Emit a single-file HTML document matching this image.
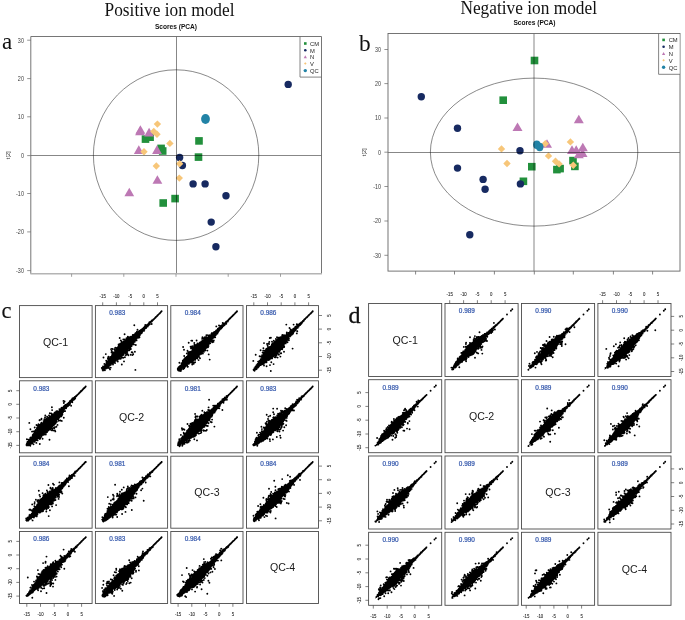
<!DOCTYPE html><html><head><meta charset="utf-8"><title>figure</title><style>html,body{margin:0;padding:0;background:#fff}svg{display:block;font-family:"Liberation Sans",sans-serif;will-change:transform;filter:opacity(1)}</style></head><body>
<svg width="685" height="620" viewBox="0 0 685 620">
<rect width="685" height="620" fill="#fff"/>
<rect x="141.7" y="135.3" width="7.6" height="7.6" fill="#22903c"/>
<rect x="146.3" y="133.4" width="7.6" height="7.6" fill="#22903c"/>
<rect x="157.3" y="144.6" width="7.6" height="7.6" fill="#22903c"/>
<rect x="158.9" y="147.2" width="7.6" height="7.6" fill="#22903c"/>
<rect x="195.2" y="137.1" width="7.6" height="7.6" fill="#22903c"/>
<rect x="194.7" y="153.3" width="7.6" height="7.6" fill="#22903c"/>
<rect x="159.4" y="199.2" width="7.6" height="7.6" fill="#22903c"/>
<rect x="171.3" y="194.8" width="7.6" height="7.6" fill="#22903c"/>
<circle cx="179.6" cy="157.4" r="3.7" fill="#172a61"/>
<circle cx="182.4" cy="165.5" r="3.7" fill="#172a61"/>
<circle cx="193.1" cy="183.9" r="3.7" fill="#172a61"/>
<circle cx="205.1" cy="183.9" r="3.7" fill="#172a61"/>
<circle cx="226" cy="195.7" r="3.7" fill="#172a61"/>
<circle cx="211.2" cy="222.1" r="3.7" fill="#172a61"/>
<circle cx="215.9" cy="246.7" r="3.7" fill="#172a61"/>
<circle cx="288.2" cy="84.4" r="3.7" fill="#172a61"/>
<path d="M140.4 125.2L145.3 133.8L135.5 133.8Z" fill="#bd78b4"/>
<path d="M140 126.7L144.9 135.3L135.1 135.3Z" fill="#bd78b4"/>
<path d="M149.1 127.8L154 136.4L144.2 136.4Z" fill="#bd78b4"/>
<path d="M138.8 145.3L143.8 153.9L133.9 153.9Z" fill="#bd78b4"/>
<path d="M157 145.3L161.9 153.9L152.1 153.9Z" fill="#bd78b4"/>
<path d="M157.4 175.2L162.3 183.8L152.5 183.8Z" fill="#bd78b4"/>
<path d="M129.3 187.7L134.2 196.3L124.4 196.3Z" fill="#bd78b4"/>
<path d="M157.4 120.4L161.1 124.1L157.4 127.8L153.7 124.1Z" fill="#f7c679"/>
<path d="M153.8 127.7L157.5 131.4L153.8 135.1L150.1 131.4Z" fill="#f7c679"/>
<path d="M157 130.6L160.7 134.3L157 138L153.3 134.3Z" fill="#f7c679"/>
<path d="M169.9 139.7L173.6 143.4L169.9 147.1L166.2 143.4Z" fill="#f7c679"/>
<path d="M144 148.1L147.7 151.8L144 155.5L140.3 151.8Z" fill="#f7c679"/>
<path d="M156.3 162.3L160 166L156.3 169.7L152.6 166Z" fill="#f7c679"/>
<path d="M179.6 160.1L183.3 163.8L179.6 167.5L175.9 163.8Z" fill="#f7c679"/>
<path d="M179.3 174.4L183 178.1L179.3 181.8L175.6 178.1Z" fill="#f7c679"/>
<ellipse cx="205.5" cy="119" rx="4.4" ry="5" fill="#2283a6"/>
<ellipse cx="176.1" cy="155.1" rx="82.7" ry="85.3" fill="none" stroke="#4a4a4a" stroke-width="0.65"/>
<path d="M176.5 36.5V273.8M30.8 155.5H321.5" stroke="#000" stroke-opacity=".47" stroke-width="1" fill="none"/>
<path d="M30.8 273.8V36.5H321.5V273.8" fill="none" stroke="#666" stroke-width="0.9"/>
<path d="M30.4 273.8H321.9" fill="none" stroke="#b4b4b4" stroke-width="1.4"/>
<path d="M30.8 40.2h-3.6M30.8 78.6h-3.6M30.8 116.8h-3.6M30.8 155.6h-3.6M30.8 193.5h-3.6M30.8 231.9h-3.6M30.8 270.6h-3.6" stroke="#666" stroke-width="0.7" fill="none"/>
<path d="M71.6 273.8v3M123.8 273.8v3M176 273.8v3M228.2 273.8v3M280.5 273.8v3" stroke="#8a8a8a" stroke-width="0.8" fill="none"/>
<text transform="translate(23.9 42.5) scale(.85 1)" font-size="6.4" text-anchor="end" fill="#3a3a3a">30</text>
<text transform="translate(23.9 80.9) scale(.85 1)" font-size="6.4" text-anchor="end" fill="#3a3a3a">20</text>
<text transform="translate(23.9 119.1) scale(.85 1)" font-size="6.4" text-anchor="end" fill="#3a3a3a">10</text>
<text transform="translate(23.9 157.9) scale(.85 1)" font-size="6.4" text-anchor="end" fill="#3a3a3a">0</text>
<text transform="translate(23.9 195.8) scale(.85 1)" font-size="6.4" text-anchor="end" fill="#3a3a3a">-10</text>
<text transform="translate(23.9 234.2) scale(.85 1)" font-size="6.4" text-anchor="end" fill="#3a3a3a">-20</text>
<text transform="translate(23.9 272.9) scale(.85 1)" font-size="6.4" text-anchor="end" fill="#3a3a3a">-30</text>
<text transform="translate(9.8 155.3) rotate(-90) scale(.93 1)" font-size="6" text-anchor="middle" fill="#2b2b2b">t[2]</text>
<rect x="300" y="37" width="21" height="40.1" fill="#fff"/>
<path d="M300 36.5V77.1H321.5" fill="none" stroke="#666" stroke-width="0.8"/>
<rect x="304" y="42.2" width="2.6" height="2.6" fill="#22903c"/>
<circle cx="305.3" cy="50.2" r="1.3" fill="#172a61"/>
<path d="M305.3 55.3L306.9 58.3L303.7 58.3Z" fill="#bd78b4"/>
<path d="M305.3 62.2L306.6 63.5L305.3 64.8L304 63.5Z" fill="#f7c679"/>
<circle cx="305.3" cy="70.6" r="1.7" fill="#2283a6"/>
<text x="310" y="45.8" font-size="5.8" fill="#1c1c1c">CM</text>
<text x="310" y="52.5" font-size="5.8" fill="#1c1c1c">M</text>
<text x="310" y="59.1" font-size="5.8" fill="#1c1c1c">N</text>
<text x="310" y="65.8" font-size="5.8" fill="#1c1c1c">V</text>
<text x="310" y="72.9" font-size="5.8" fill="#1c1c1c">QC</text>
<text transform="translate(169.5 15.9) scale(.932 1)" font-family="Liberation Serif" font-size="18.6" text-anchor="middle" fill="#111">Positive ion model</text>
<text x="176" y="28.6" font-size="6.6" font-weight="bold" text-anchor="middle" fill="#111">Scores (PCA)</text>
<text x="2" y="49.2" font-family="Liberation Serif" font-size="23" fill="#111">a</text>
<rect x="530.7" y="56.7" width="7.6" height="7.6" fill="#22903c"/>
<rect x="499.4" y="96.4" width="7.6" height="7.6" fill="#22903c"/>
<rect x="528" y="162.9" width="7.6" height="7.6" fill="#22903c"/>
<rect x="519.6" y="177.5" width="7.6" height="7.6" fill="#22903c"/>
<rect x="553.1" y="165.8" width="7.6" height="7.6" fill="#22903c"/>
<rect x="556.3" y="164.8" width="7.6" height="7.6" fill="#22903c"/>
<rect x="569.2" y="156.8" width="7.6" height="7.6" fill="#22903c"/>
<rect x="571.1" y="162.6" width="7.6" height="7.6" fill="#22903c"/>
<circle cx="421.3" cy="96.7" r="3.7" fill="#172a61"/>
<circle cx="457.5" cy="128.3" r="3.7" fill="#172a61"/>
<circle cx="457.5" cy="168.1" r="3.7" fill="#172a61"/>
<circle cx="483.1" cy="179.4" r="3.7" fill="#172a61"/>
<circle cx="485.1" cy="189.2" r="3.7" fill="#172a61"/>
<circle cx="469.8" cy="234.7" r="3.7" fill="#172a61"/>
<circle cx="520" cy="150.8" r="3.7" fill="#172a61"/>
<circle cx="520.4" cy="183.9" r="3.7" fill="#172a61"/>
<path d="M578.8 114.7L583.8 123.3L573.8 123.3Z" fill="#bd78b4"/>
<path d="M517.5 122.4L522.5 131L512.5 131Z" fill="#bd78b4"/>
<path d="M547 139.2L552 147.8L542 147.8Z" fill="#bd78b4"/>
<path d="M572 145.3L577 153.9L567 153.9Z" fill="#bd78b4"/>
<path d="M576.2 145.3L581.2 153.9L571.2 153.9Z" fill="#bd78b4"/>
<path d="M582.8 142.7L587.8 151.3L577.8 151.3Z" fill="#bd78b4"/>
<path d="M578.8 149.7L583.8 158.3L573.8 158.3Z" fill="#bd78b4"/>
<path d="M582.5 148.3L587.5 156.9L577.5 156.9Z" fill="#bd78b4"/>
<path d="M501.5 145.2L505.2 148.9L501.5 152.6L497.8 148.9Z" fill="#f7c679"/>
<path d="M507 159.8L510.7 163.5L507 167.2L503.3 163.5Z" fill="#f7c679"/>
<path d="M545.3 140.1L549 143.8L545.3 147.5L541.6 143.8Z" fill="#f7c679"/>
<path d="M570.4 138.2L574.1 141.9L570.4 145.6L566.7 141.9Z" fill="#f7c679"/>
<path d="M548.5 152.2L552.2 155.9L548.5 159.6L544.8 155.9Z" fill="#f7c679"/>
<path d="M555.5 157.6L559.2 161.3L555.5 165L551.8 161.3Z" fill="#f7c679"/>
<path d="M559.1 160.2L562.8 163.9L559.1 167.6L555.4 163.9Z" fill="#f7c679"/>
<path d="M573.3 161.6L577 165.3L573.3 169L569.6 165.3Z" fill="#f7c679"/>
<ellipse cx="536.8" cy="144.8" rx="3.7" ry="4.2" fill="#2283a6"/>
<ellipse cx="539.7" cy="147" rx="3.7" ry="4.2" fill="#2283a6"/>
<ellipse cx="534.1" cy="152.1" rx="103.7" ry="74" fill="none" stroke="#4a4a4a" stroke-width="0.65"/>
<path d="M534 33.5V271.1M388 152.5H680" stroke="#000" stroke-opacity=".47" stroke-width="1" fill="none"/>
<rect x="388" y="33.5" width="292" height="237.6" fill="none" stroke="#666" stroke-width="0.9"/>
<path d="M388 49.5h-3.6M388 83.6h-3.6M388 118h-3.6M388 152.2h-3.6M388 186.5h-3.6M388 221h-3.6M388 255.3h-3.6" stroke="#666" stroke-width="0.7" fill="none"/>
<path d="M415.6 271.1v3.4M454.5 271.1v3.4M494.4 271.1v3.4M534.3 271.1v3.4M573.3 271.1v3.4M613.4 271.1v3.4M652.6 271.1v3.4" stroke="#666" stroke-width="0.8" fill="none"/>
<text transform="translate(381.1 51.8) scale(.85 1)" font-size="6.4" text-anchor="end" fill="#3a3a3a">30</text>
<text transform="translate(381.1 85.9) scale(.85 1)" font-size="6.4" text-anchor="end" fill="#3a3a3a">20</text>
<text transform="translate(381.1 120.3) scale(.85 1)" font-size="6.4" text-anchor="end" fill="#3a3a3a">10</text>
<text transform="translate(381.1 154.5) scale(.85 1)" font-size="6.4" text-anchor="end" fill="#3a3a3a">0</text>
<text transform="translate(381.1 188.8) scale(.85 1)" font-size="6.4" text-anchor="end" fill="#3a3a3a">-10</text>
<text transform="translate(381.1 223.3) scale(.85 1)" font-size="6.4" text-anchor="end" fill="#3a3a3a">-20</text>
<text transform="translate(381.1 257.6) scale(.85 1)" font-size="6.4" text-anchor="end" fill="#3a3a3a">-30</text>
<text transform="translate(366.2 152.3) rotate(-90) scale(.93 1)" font-size="6" text-anchor="middle" fill="#2b2b2b">t[2]</text>
<rect x="658.6" y="34" width="20.9" height="40.3" fill="#fff"/>
<path d="M658.6 33.5V74.3H680" fill="none" stroke="#666" stroke-width="0.8"/>
<rect x="662.3" y="38.6" width="2.6" height="2.6" fill="#22903c"/>
<circle cx="663.6" cy="46.7" r="1.3" fill="#172a61"/>
<path d="M663.6 52L665.2 55L662 55Z" fill="#bd78b4"/>
<path d="M663.6 59L664.9 60.3L663.6 61.6L662.3 60.3Z" fill="#f7c679"/>
<circle cx="663.6" cy="67.3" r="1.7" fill="#2283a6"/>
<text x="668.7" y="42.2" font-size="5.8" fill="#1c1c1c">CM</text>
<text x="668.7" y="49" font-size="5.8" fill="#1c1c1c">M</text>
<text x="668.7" y="55.8" font-size="5.8" fill="#1c1c1c">N</text>
<text x="668.7" y="62.6" font-size="5.8" fill="#1c1c1c">V</text>
<text x="668.7" y="69.6" font-size="5.8" fill="#1c1c1c">QC</text>
<text transform="translate(528.7 14.4) scale(.932 1)" font-family="Liberation Serif" font-size="18.6" text-anchor="middle" fill="#111">Negative ion model</text>
<text x="534.5" y="25.2" font-size="6.6" font-weight="bold" text-anchor="middle" fill="#111">Scores (PCA)</text>
<text x="359" y="51" font-family="Liberation Serif" font-size="23.3" fill="#111">b</text>
<rect x="19.5" y="305.6" width="72.6" height="72" fill="none" stroke="#4a4a4a" stroke-width="0.9"/>
<rect x="95.4" y="305.6" width="72.2" height="72" fill="none" stroke="#4a4a4a" stroke-width="0.9"/>
<rect x="170.8" y="305.6" width="72.2" height="72" fill="none" stroke="#4a4a4a" stroke-width="0.9"/>
<rect x="246.5" y="305.6" width="72" height="72" fill="none" stroke="#4a4a4a" stroke-width="0.9"/>
<rect x="19.5" y="380.8" width="72.6" height="72" fill="none" stroke="#4a4a4a" stroke-width="0.9"/>
<rect x="95.4" y="380.8" width="72.2" height="72" fill="none" stroke="#4a4a4a" stroke-width="0.9"/>
<rect x="170.8" y="380.8" width="72.2" height="72" fill="none" stroke="#4a4a4a" stroke-width="0.9"/>
<rect x="246.5" y="380.8" width="72" height="72" fill="none" stroke="#4a4a4a" stroke-width="0.9"/>
<rect x="19.5" y="456.2" width="72.6" height="72" fill="none" stroke="#4a4a4a" stroke-width="0.9"/>
<rect x="95.4" y="456.2" width="72.2" height="72" fill="none" stroke="#4a4a4a" stroke-width="0.9"/>
<rect x="170.8" y="456.2" width="72.2" height="72" fill="none" stroke="#4a4a4a" stroke-width="0.9"/>
<rect x="246.5" y="456.2" width="72" height="72" fill="none" stroke="#4a4a4a" stroke-width="0.9"/>
<rect x="19.5" y="531.5" width="72.6" height="72" fill="none" stroke="#4a4a4a" stroke-width="0.9"/>
<rect x="95.4" y="531.5" width="72.2" height="72" fill="none" stroke="#4a4a4a" stroke-width="0.9"/>
<rect x="170.8" y="531.5" width="72.2" height="72" fill="none" stroke="#4a4a4a" stroke-width="0.9"/>
<rect x="246.5" y="531.5" width="72" height="72" fill="none" stroke="#4a4a4a" stroke-width="0.9"/>
<text x="55.6" y="345.5" font-size="10.6" text-anchor="middle" fill="#1a1a1a">QC-1</text>
<text x="131.6" y="420.7" font-size="10.6" text-anchor="middle" fill="#1a1a1a">QC-2</text>
<text x="207" y="496.1" font-size="10.6" text-anchor="middle" fill="#1a1a1a">QC-3</text>
<text x="282.6" y="571.4" font-size="10.6" text-anchor="middle" fill="#1a1a1a">QC-4</text>
<text transform="translate(102.7 298) scale(.9 1)" font-size="4.8" text-anchor="middle" fill="#333" stroke="#333" stroke-width=".12">-15</text>
<text transform="translate(116.4 298) scale(.9 1)" font-size="4.8" text-anchor="middle" fill="#333" stroke="#333" stroke-width=".12">-10</text>
<text transform="translate(130.1 298) scale(.9 1)" font-size="4.8" text-anchor="middle" fill="#333" stroke="#333" stroke-width=".12">-5</text>
<text transform="translate(143.8 298) scale(.9 1)" font-size="4.8" text-anchor="middle" fill="#333" stroke="#333" stroke-width=".12">0</text>
<text transform="translate(157.5 298) scale(.9 1)" font-size="4.8" text-anchor="middle" fill="#333" stroke="#333" stroke-width=".12">5</text>
<text transform="translate(253.8 298) scale(.9 1)" font-size="4.8" text-anchor="middle" fill="#333" stroke="#333" stroke-width=".12">-15</text>
<text transform="translate(267.5 298) scale(.9 1)" font-size="4.8" text-anchor="middle" fill="#333" stroke="#333" stroke-width=".12">-10</text>
<text transform="translate(281.2 298) scale(.9 1)" font-size="4.8" text-anchor="middle" fill="#333" stroke="#333" stroke-width=".12">-5</text>
<text transform="translate(294.9 298) scale(.9 1)" font-size="4.8" text-anchor="middle" fill="#333" stroke="#333" stroke-width=".12">0</text>
<text transform="translate(308.6 298) scale(.9 1)" font-size="4.8" text-anchor="middle" fill="#333" stroke="#333" stroke-width=".12">5</text>
<text transform="translate(26.8 615.7) scale(.9 1)" font-size="4.8" text-anchor="middle" fill="#333" stroke="#333" stroke-width=".12">-15</text>
<text transform="translate(40.5 615.7) scale(.9 1)" font-size="4.8" text-anchor="middle" fill="#333" stroke="#333" stroke-width=".12">-10</text>
<text transform="translate(54.2 615.7) scale(.9 1)" font-size="4.8" text-anchor="middle" fill="#333" stroke="#333" stroke-width=".12">-5</text>
<text transform="translate(67.9 615.7) scale(.9 1)" font-size="4.8" text-anchor="middle" fill="#333" stroke="#333" stroke-width=".12">0</text>
<text transform="translate(81.6 615.7) scale(.9 1)" font-size="4.8" text-anchor="middle" fill="#333" stroke="#333" stroke-width=".12">5</text>
<text transform="translate(178.1 615.7) scale(.9 1)" font-size="4.8" text-anchor="middle" fill="#333" stroke="#333" stroke-width=".12">-15</text>
<text transform="translate(191.8 615.7) scale(.9 1)" font-size="4.8" text-anchor="middle" fill="#333" stroke="#333" stroke-width=".12">-10</text>
<text transform="translate(205.5 615.7) scale(.9 1)" font-size="4.8" text-anchor="middle" fill="#333" stroke="#333" stroke-width=".12">-5</text>
<text transform="translate(219.2 615.7) scale(.9 1)" font-size="4.8" text-anchor="middle" fill="#333" stroke="#333" stroke-width=".12">0</text>
<text transform="translate(232.9 615.7) scale(.9 1)" font-size="4.8" text-anchor="middle" fill="#333" stroke="#333" stroke-width=".12">5</text>
<text transform="translate(11.6 445.4) rotate(-90) scale(.9 1)" font-size="4.8" text-anchor="middle" fill="#333" stroke="#333" stroke-width=".12">-15</text>
<text transform="translate(11.6 431.7) rotate(-90) scale(.9 1)" font-size="4.8" text-anchor="middle" fill="#333" stroke="#333" stroke-width=".12">-10</text>
<text transform="translate(11.6 418) rotate(-90) scale(.9 1)" font-size="4.8" text-anchor="middle" fill="#333" stroke="#333" stroke-width=".12">-5</text>
<text transform="translate(11.6 404.3) rotate(-90) scale(.9 1)" font-size="4.8" text-anchor="middle" fill="#333" stroke="#333" stroke-width=".12">0</text>
<text transform="translate(11.6 390.7) rotate(-90) scale(.9 1)" font-size="4.8" text-anchor="middle" fill="#333" stroke="#333" stroke-width=".12">5</text>
<text transform="translate(11.6 596.1) rotate(-90) scale(.9 1)" font-size="4.8" text-anchor="middle" fill="#333" stroke="#333" stroke-width=".12">-15</text>
<text transform="translate(11.6 582.4) rotate(-90) scale(.9 1)" font-size="4.8" text-anchor="middle" fill="#333" stroke="#333" stroke-width=".12">-10</text>
<text transform="translate(11.6 568.7) rotate(-90) scale(.9 1)" font-size="4.8" text-anchor="middle" fill="#333" stroke="#333" stroke-width=".12">-5</text>
<text transform="translate(11.6 555) rotate(-90) scale(.9 1)" font-size="4.8" text-anchor="middle" fill="#333" stroke="#333" stroke-width=".12">0</text>
<text transform="translate(11.6 541.4) rotate(-90) scale(.9 1)" font-size="4.8" text-anchor="middle" fill="#333" stroke="#333" stroke-width=".12">5</text>
<text transform="translate(331.2 370.2) rotate(-90) scale(.9 1)" font-size="4.8" text-anchor="middle" fill="#333" stroke="#333" stroke-width=".12">-15</text>
<text transform="translate(331.2 356.5) rotate(-90) scale(.9 1)" font-size="4.8" text-anchor="middle" fill="#333" stroke="#333" stroke-width=".12">-10</text>
<text transform="translate(331.2 342.8) rotate(-90) scale(.9 1)" font-size="4.8" text-anchor="middle" fill="#333" stroke="#333" stroke-width=".12">-5</text>
<text transform="translate(331.2 329.1) rotate(-90) scale(.9 1)" font-size="4.8" text-anchor="middle" fill="#333" stroke="#333" stroke-width=".12">0</text>
<text transform="translate(331.2 315.5) rotate(-90) scale(.9 1)" font-size="4.8" text-anchor="middle" fill="#333" stroke="#333" stroke-width=".12">5</text>
<text transform="translate(331.2 520.8) rotate(-90) scale(.9 1)" font-size="4.8" text-anchor="middle" fill="#333" stroke="#333" stroke-width=".12">-15</text>
<text transform="translate(331.2 507.1) rotate(-90) scale(.9 1)" font-size="4.8" text-anchor="middle" fill="#333" stroke="#333" stroke-width=".12">-10</text>
<text transform="translate(331.2 493.4) rotate(-90) scale(.9 1)" font-size="4.8" text-anchor="middle" fill="#333" stroke="#333" stroke-width=".12">-5</text>
<text transform="translate(331.2 479.7) rotate(-90) scale(.9 1)" font-size="4.8" text-anchor="middle" fill="#333" stroke="#333" stroke-width=".12">0</text>
<text transform="translate(331.2 466.1) rotate(-90) scale(.9 1)" font-size="4.8" text-anchor="middle" fill="#333" stroke="#333" stroke-width=".12">5</text>
<path d="M102.7 305.6v-3.3M116.4 305.6v-3.3M130.1 305.6v-3.3M143.8 305.6v-3.3M157.5 305.6v-3.3M253.8 305.6v-3.3M267.5 305.6v-3.3M281.2 305.6v-3.3M294.9 305.6v-3.3M308.6 305.6v-3.3M26.8 603.5v3.3M40.5 603.5v3.3M54.2 603.5v3.3M67.9 603.5v3.3M81.6 603.5v3.3M178.1 603.5v3.3M191.8 603.5v3.3M205.5 603.5v3.3M219.2 603.5v3.3M232.9 603.5v3.3M19.5 445.4h-3.2M19.5 431.7h-3.2M19.5 418h-3.2M19.5 404.3h-3.2M19.5 390.7h-3.2M19.5 596.1h-3.2M19.5 582.4h-3.2M19.5 568.7h-3.2M19.5 555h-3.2M19.5 541.4h-3.2M318.8 370.2h3.2M318.8 356.5h3.2M318.8 342.8h3.2M318.8 329.1h3.2M318.8 315.5h3.2M318.8 520.8h3.2M318.8 507.1h3.2M318.8 493.4h3.2M318.8 479.7h3.2M318.8 466.1h3.2" stroke="#4a4a4a" stroke-width="0.7" fill="none"/>
<g transform="translate(95.4 305.6)">
<path d="M6.7 63.6L7.2 62.7L7.8 61.9L8.4 61L9 60.1L9.5 59.3L10.1 58.4L10.7 57.6L11.3 56.7L11.9 55.9L12.5 55L13 54.2L13.6 53.4L14.2 52.5L14.8 51.7L15.4 50.9L16 50.1L16.6 49.4L17.2 48.6L17.8 47.8L18.4 47.1L19 46.3L19.6 45.6L20.3 44.8L20.9 44L21.5 43.3L22.2 42.6L22.8 41.9L23.5 41.2L24.1 40.5L24.8 39.8L25.5 39.1L26.1 38.3L26.9 37.7L27.7 37.1L28.4 36.5L29.2 35.9L30 35.3L30.7 34.7L31.5 34.1L32.3 33.5L33.1 33L33.9 32.4L34.7 32L35.6 31.5L36.4 31L37.2 30.6L38.1 30.1L38.9 29.7L39.6 29.1L40.4 28.5L41.1 28L41.9 27.4L42.7 26.8L43.4 26.3L44.2 25.7L44.9 25.1L45.7 24.5L46.4 23.9L47.1 23.2L47.8 22.6L48.5 22L49.3 21.4L50 20.7L50.7 20.1L51.4 19.5L52.1 18.8L52.8 18.2L53.5 17.5L54.3 16.9L55 16.3L55.7 15.6L56.4 15L57.1 14.3L57.8 13.7L58.5 13L59.2 12.4L59.9 11.7L60.6 11.1L60.9 11.3L60.2 12L59.5 12.7L58.9 13.4L58.2 14.1L57.5 14.8L56.9 15.5L56.2 16.2L55.6 16.9L54.9 17.6L54.2 18.3L53.6 18.9L52.9 19.6L52.3 20.3L51.6 21L51 21.7L50.3 22.4L49.7 23.1L49 23.8L48.4 24.5L47.7 25.2L47.1 25.9L46.4 26.6L45.8 27.3L45.2 28L44.6 28.8L44 29.5L43.4 30.2L42.8 30.9L42.1 31.6L41.5 32.3L41 33.1L40.4 33.8L39.9 34.6L39.4 35.3L38.8 36L38.3 36.8L37.7 37.6L37.2 38.5L36.6 39.2L36 40L35.4 40.8L34.8 41.5L34.2 42.3L33.6 43.1L33 43.8L32.4 44.6L31.7 45.3L31 45.9L30.2 46.6L29.5 47.2L28.8 47.9L28.1 48.5L27.4 49.2L26.7 49.9L25.9 50.5L25.2 51.1L24.4 51.7L23.6 52.3L22.9 52.9L22.1 53.5L21.4 54.1L20.6 54.7L19.8 55.3L19 55.9L18.3 56.6L17.5 57.2L16.7 57.9L15.9 58.5L15.1 59.1L14.4 59.8L13.6 60.4L12.8 61.1L12 61.7L11.2 62.4L10.4 63L9.6 63.6L8.8 64.3L8 64.9Z" fill="#000"/>
<path d="M26.9 48.6h0M37.2 31.6h0M19.8 54.9h0M18 48.1h0M38.9 34.5h0M26.4 51.9h0M34 44.6h0M34.9 32.9h0M27 38.6h0M11.3 61.6h0M43.2 29.3h0M19.7 42.3h0M39.3 34.9h0M18.1 47.6h0M8.3 61.5h0M29.6 46h0M38.4 35.1h0M41.5 26h0M38.7 35h0M21.1 44h0M25.4 50.1h0M8.5 62.4h0M28.1 48.1h0M10.6 59.1h0M24.1 51.2h0M42.5 27.4h0M31.1 32.8h0M28.4 47.5h0M23 52.1h0M45.2 24.7h0M13.9 62.3h0M34 43.8h0M45.6 24.6h0M39 34h0M13.7 54.2h0M7.6 63.6h0M14.4 52.6h0M21.9 42.4h0M12.2 62.3h0M24.7 38.2h0M34.6 32.5h0M41 32.1h0M37.7 31.6h0M15.6 43.5h0M13.5 53.3h0M15.6 57.8h0M28.1 47.5h0M13.4 60.6h0M12.9 59.9h0M31.1 45.4h0M22.9 52.6h0M38.6 34.8h0M43.5 26.1h0M29.1 37.2h0M23.7 52.4h0M10.6 62.9h0M23.8 53.2h0M12.6 56.1h0M19.2 43.9h0M7 63.4h0M13.2 54.8h0M16.2 45.2h0M25.7 50.9h0M39.4 34.1h0M43.8 31.9h0M35.7 40.3h0M17.3 49.6h0M30.5 36.1h0M40.2 29.6h0M21.4 44.2h0M35.5 43.4h0M39.4 36.2h0M28 48.9h0M32.6 34.3h0M27.9 33.9h0M16.5 50.5h0M32.6 34h0M32.2 32.4h0M23.2 38.9h0M14.1 53.1h0M48.1 23.7h0M30.5 47.9h0M9.6 63.5h0M31.3 48.9h0M19.2 55.7h0M32.1 48.3h0M29.6 35.7h0M17.7 56.1h0M38.5 36.4h0M42.7 32.1h0M30.7 34.5h0M29.6 46.6h0M20.8 44.6h0M37.2 31.8h0M13.8 59.2h0M17.8 47.4h0M41.1 34.8h0M27.4 37.2h0M39.4 34.8h0M41.2 34.5h0M35.2 40.3h0M46.9 24.1h0M13.5 60h0M40.7 27.3h0M26.1 49.4h0M11.1 57.3h0M37.1 46.8h0M44.7 26.3h0M10.4 58.9h0M38.1 30h0M29.5 51.6h0M12.1 61.1h0M22.1 44.1h0M38.4 31.1h0M27.1 49.4h0M26.7 48.8h0M17.4 57.3h0M35.4 40.4h0M31.9 46.4h0M35.3 49.2h0M38.8 30.8h0M42.4 30.9h0M34.9 42.4h0M18.1 48.6h0M37.1 31.8h0M26.1 50.3h0M45.7 24.9h0M23.2 39h0M44.3 28.6h0M19.2 46.5h0M35.2 40.7h0M32.8 33.8h0M36.3 31.8h0M23 52.5h0M37.5 31.4h0M30.6 34.8h0M40.8 28.8h0M39.2 34.9h0M25.2 39.2h0M23.3 40h0M37.4 29.3h0M42.3 28.3h0M41.1 28.8h0M31.6 44.3h0M10.8 55h0M26.4 36.2h0M27.6 37.5h0M35.1 32.3h0M16.1 46.9h0M41.2 28.1h0M20 54.3h0M35.6 39.3h0M22.5 41.5h0M39.7 30.3h0M28.1 48.8h0M49 22.2h0M46.1 24.4h0M53.5 17.7h0M45.5 25.5h0M54.1 16.5h0M48.1 22.8h0M52 21h0M53.6 18.9h0M49.7 22.6h0M45.8 26.3h0M53.4 17.5h0M48.3 23.7h0M53.4 19.4h0M38.7 29.1h0M49.4 21.2h0M54.7 17.2h0M50.7 22.4h0M38.3 35.7h0M52.3 19.6h0M42.3 27.2h0M39.3 34.1h0M53.9 18.8h0M32.2 33.3h0M42.1 24.1h0M54.1 17.9h0M53.7 18.3h0M34.9 31.8h0M48.4 23.3h0M49.3 22.2h0M46.6 25.2h0M41.7 32.1h0M52.1 20.8h0M47 23.9h0M45.7 25.2h0M47.9 23.4h0M38.3 36.1h0M52.2 19.7h0M53.2 19.4h0M42.2 27.7h0M41.7 30.7h0M45.4 28h0M54.6 17h0M41.7 31.3h0M53.2 18.8h0M47 23.4h0M34.2 32.2h0M46.2 24.9h0M56.2 15.1h0M44.5 29.1h0M40.8 32.3h0M46.7 24.5h0M43.4 25.8h0M40 29.4h0M41.1 28h0M47.1 24.5h0M46.3 24.8h0M57 15h0M49.1 21.4h0M35.5 32.5h0M52.7 19.5h0M47.5 23.8h0M39.3 30.4h0M48.6 23.8h0M55 16.4h0M46.9 25.7h0M53.2 18.7h0M40.8 32.7h0M43.6 26h0M44.6 26.4h0M40.7 29h0M48 23.4h0M34.7 33.2h0M50.5 21.2h0M37.4 37.1h0M35.4 31.5h0M52.6 18.6h0M43.8 27h0M37.6 36.1h0M50.6 21.5h0M51.2 20.9h0M43.6 27h0M50.5 21.1h0M33.9 31.6h0M56.8 15.4h0M37.6 31.1h0M56.3 15.9h0M38.6 38.9h0M7.3 64.5h0M7.6 64.9h0M8.4 64.3h0M9.6 62.8h0M8.8 61.9h0M10.3 62.1h0M11.1 61.5h0M12.3 61.4h0M13.3 59.6h0M14.9 58.5h0M41.4 31.6h0M42.1 30.9h0M42.5 29.9h0M43.6 29.7h0M43 27.8h0M44.3 27.7h0M45.3 27.2h0M45.4 26h0M46.2 26.8h0M46.3 25.5h0M46.6 25.8h0M47 24.8h0M46.8 24.7h0M48 24.5h0M47.7 24.2h0M48.3 23.5h0M48.4 23.5h0M49 22.8h0M49.2 22.9h0M49.9 22.2h0M49.5 21.9h0M50.4 21.5h0M50.7 21.7h0M51 20.7h0M51.1 20.7h0M52.1 20.3h0M51.8 20.1h0M52.5 19.4h0M52.7 19.6h0M53.2 18.8h0M53 18.5h0M54 18.2h0M53.8 18h0M54.5 17.3h0M54.6 17.4h0M55.1 16.5h0M55.2 16.6h0M55.9 15.9h0M55.9 15.9h0M56.8 15.5h0M56.4 15.1h0M57.3 14.6h0M57.4 14.7h0M58 13.9h0M58 13.9h0M58.7 13.3h0M58.7 13.3h0M59.4 12.6h0M59.4 12.6h0M60.2 12h0M60.1 11.9h0M60.7 11.2h0M60.8 11.2h0M61.5 10.6h0M61.4 10.5h0M62.1 9.9h0M62.1 9.9h0M62.8 9.2h0M62.8 9.2h0M63.5 8.5h0M63.5 8.5h0M64.2 7.8h0M64.2 7.8h0M64.9 7.1h0M64.9 7.1h0M65.5 6.4h0M65.5 6.4h0M66.2 5.7h0M66.2 5.7h0M6.4 62.3h0M9.5 64.7h0M7.3 62h0M9 63.3h0M7.6 60.8h0M9.6 63.2h0M8.1 61h0M10.5 62.7h0M9.2 60.7h0M11 62.3h0M9.8 59.8h0M12.6 62.5h0M9 58.3h0M13 61.6h0M10.7 58.9h0M12.8 61.1h0M11.3 57.6h0M15.3 62h0M11.2 56.4h0M14.3 59.6h0M12.3 56.3h0M15.2 59.3h0M12.4 56h0M15.5 58.8h0M12.7 54.5h0M16.3 57.8h0M17.6 58.9h0M13.8 53.9h0M16.9 57h0M12.8 51.8h0M18.1 57.1h0M14.9 52h0M19.7 57.4h0M14.9 51.4h0M19.1 55.9h0M15.9 51.5h0M20.4 55.3h0M16.7 50.5h0M22.4 56h0M16.8 49.5h0M21.7 54.2h0M16.9 48.9h0M22.2 54.5h0M17.5 48.4h0M22.3 53.5h0M17.2 46.7h0M23.7 53.3h0M18.9 47.2h0M23.9 52.8h0M18.9 46.5h0M25.3 53.2h0M19.7 46.4h0M24.5 51.4h0M19.6 44.9h0M25.5 50.5h0M20.7 44.4h0M26 50.2h0M21.4 44.2h0M26.9 50h0M20.3 42h0M27.2 49.7h0M22 42.7h0M28.4 49.2h0M22.2 42h0M28.5 47.9h0M23.3 42.2h0M28.6 47.7h0M23.5 41.6h0M28.7 46.9h0M24.3 40.3h0M30.2 46.6h0M24.1 40.2h0M30 45.7h0M24.8 39.6h0M31.7 46.5h0M25.8 39.3h0M32 44.9h0M26.6 38.5h0M33.1 44.8h0M27.4 38.4h0M33.5 44.4h0M27.8 37.8h0M33.7 43.9h0M28.1 37.2h0M33.5 42.4h0M28.3 36.2h0M34.6 42.3h0M28.9 36.2h0M34.6 41.1h0M29.8 36h0M34.8 40.5h0M30.6 35.1h0M36 40.6h0M31.5 34.9h0M36.4 40.1h0M31.7 34h0M36.4 38.5h0M31.1 32.7h0M37.3 38.4h0M33 33.4h0M37.5 37.9h0M33.7 32.5h0M37.8 37.2h0M34.1 31.8h0M38.8 36.3h0M34.7 32h0M39.3 36h0M35.5 31.2h0M39.3 34.9h0M36.7 31.1h0M39.7 34.2h0M36.7 30.8h0M40.2 33.9h0M38.1 30.7h0M40.5 33.6h0M38.6 30.1h0M40.9 32.9h0M39 29.5h0M40.9 31.9h0M39.9 29.6h0M41.9 32.2h0M40.1 28.5h0M42 31.1h0M40.6 28.1h0M44.1 31.6h0M41.4 27.9h0M43.2 30.2h0M42.7 27.8h0M44.4 29.6h0M42.5 26.6h0M44.3 29.1h0M43 26.4h0M44.6 28.1h0M43.6 25.8h0M45.8 27.8h0M44.3 25.4h0M46.2 27.6h0M45.5 25.4h0M46.3 26.1h0M45.8 24.9h0M46.8 26.4h0M46.2 24h0M47.4 25.3h0M46.7 23.7h0M48.5 25.3h0M47.3 23.2h0M48.7 24.6h0M48.6 23.1h0M49 24.1h0M48.4 22.1h0M49.4 22.9h0M49.6 22h0M50.1 22.3h0M49.2 21.2h0M50.4 21.8h0M50.2 20.5h0M50.2 21.2h0M51.1 20.2h0M51.4 21.2h0M51 19.6h0M52.4 20.8h0M52.2 19.2h0M52.2 19.7h0M52.9 19h0M53.4 19.4h0M53.5 18.1h0M53.3 18.5h0M53.8 17.9h0M54.4 18.7h0M17.3 43.4h0M49.9 19.3h0M30.7 49.2h0M14.6 63.8h0M29.3 33.9h0M28.6 55.8h0M38.9 19.7h0M26.1 37.1h0M37.8 48.6h0M30.5 49.6h0M32.4 31h0M39.9 27.9h0M8.1 51.9h0M40 64.3h0M33 49.7h0M25.4 34.9h0M26.4 58.9h0M20.9 42.5h0M24.3 32.4h0M36.3 46.6h0M10.4 48.5h0M27.8 52.2h0M39.5 46.1h0M16.3 43.3h0M40.4 39.4h0M13 51.2h0M56.3 18.4h0M37.1 49.5h0M29.2 28.7h0M12.5 52.9h0" stroke="#000" stroke-width="1.9" stroke-linecap="round" fill="none"/>
</g>
<text x="117.3" y="315.3" font-size="6.45" text-anchor="middle" fill="#3457ad" stroke="#3a5dae" stroke-width=".22">0.983</text>
<g transform="translate(170.8 305.6)">
<path d="M6.7 64L7.3 63.2L7.8 62.4L8.4 61.6L9 60.8L9.6 60L10.2 59.2L10.7 58.4L11.3 57.6L11.9 56.9L12.5 56.1L13.1 55.3L13.7 54.5L14.3 53.8L14.9 53L15.5 52.2L16.1 51.4L16.7 50.7L17.3 49.9L17.9 49.1L18.5 48.4L19.1 47.6L19.7 46.9L20.3 46.1L21 45.4L21.6 44.7L22.3 43.9L22.9 43.2L23.6 42.5L24.2 41.8L24.9 41.1L25.6 40.4L26.2 39.7L27 39.1L27.7 38.5L28.5 37.9L29.3 37.3L30 36.7L30.8 36L31.6 35.4L32.3 34.8L33.2 34.3L34 33.7L34.8 33.2L35.6 32.7L36.4 32.1L37.3 31.6L38.1 31L38.9 30.5L39.7 29.9L40.4 29.2L41.2 28.6L41.9 28L42.7 27.4L43.4 26.8L44.2 26.2L45 25.6L45.7 24.9L46.4 24.3L47.1 23.6L47.8 23L48.6 22.3L49.3 21.7L50 21L50.7 20.4L51.4 19.7L52.1 19L52.8 18.4L53.6 17.7L54.3 17.1L55 16.4L55.7 15.8L56.4 15.1L57.1 14.4L57.8 13.8L58.5 13.1L59.2 12.4L59.9 11.8L60.6 11.1L60.9 11.4L60.2 12.1L59.5 12.8L58.9 13.5L58.2 14.2L57.5 14.9L56.9 15.6L56.2 16.3L55.6 17L54.9 17.7L54.2 18.4L53.6 19.1L52.9 19.8L52.3 20.5L51.6 21.3L51 22L50.3 22.7L49.7 23.4L49 24.1L48.4 24.8L47.7 25.6L47.1 26.3L46.4 27L45.8 27.8L45.2 28.5L44.6 29.3L43.9 30L43.3 30.8L42.7 31.5L42.1 32.3L41.5 33L40.9 33.9L40.4 34.7L39.9 35.5L39.3 36.3L38.8 37.2L38.2 38L37.7 38.8L37.1 39.6L36.5 40.4L35.9 41.2L35.3 41.9L34.7 42.7L34.1 43.4L33.5 44.2L32.9 45L32.3 45.7L31.6 46.4L30.9 47.1L30.1 47.7L29.4 48.4L28.7 49L28 49.7L27.3 50.3L26.6 51L25.8 51.6L25.1 52.2L24.3 52.8L23.6 53.4L22.8 54.1L22 54.7L21.3 55.3L20.5 55.9L19.8 56.5L19 57.1L18.2 57.7L17.4 58.3L16.6 58.9L15.9 59.4L15.1 60L14.3 60.6L13.5 61.2L12.7 61.8L11.9 62.4L11.2 62.9L10.4 63.5L9.6 64.1L8.8 64.7L8 65.3Z" fill="#000"/>
<path d="M39.3 34.7h0M15.9 58.3h0M21.8 44h0M17 50.9h0M34.8 33.7h0M8.1 62.4h0M9.6 61.2h0M45.7 27.5h0M27.3 39.5h0M11.3 58.4h0M18.8 46.4h0M44.7 28.6h0M34.1 32.9h0M37.2 32.5h0M41 35.2h0M34.6 44.6h0M22.8 56.9h0M39.4 37.7h0M21.4 42.9h0M25.3 39.4h0M36.6 45h0M38.9 36.2h0M16.7 51.4h0M37.9 37.7h0M33.6 34.9h0M17 58.1h0M22.5 54.4h0M38 31.1h0M39.7 34.2h0M45.7 25.6h0M21.4 57.3h0M16 47.8h0M24.6 51.5h0M19.4 46.7h0M31.7 31.7h0M17.6 50.6h0M36.6 32.8h0M27.4 39.4h0M13.6 60.1h0M22.1 54.4h0M42.4 30.6h0M38.6 35.7h0M11.4 58.6h0M26.8 39.9h0M16.3 59.7h0M11.9 61.2h0M47.3 25.6h0M21.3 46.2h0M10 65.4h0M36.5 41h0M15.3 53.9h0M42.8 28.5h0M34.6 31.9h0M30.7 46.3h0M9.1 64h0M15.9 52h0M15.3 51.9h0M21.4 56.2h0M40.4 33h0M19.7 56.5h0M44.8 28h0M30.4 47h0M41 29.8h0M45.8 26.3h0M8.8 62.1h0M14.2 59.6h0M23.9 54.1h0M25.5 50.8h0M26.2 50.3h0M38.2 31.4h0M31.4 33.3h0M28.3 39.1h0M25.8 40.9h0M29 48.5h0M25.1 42.1h0M21.9 43.4h0M38.2 37.4h0M29 37.5h0M13 55.7h0M37.1 32h0M15.6 52h0M16.3 58h0M21.2 41h0M12.7 61h0M17.3 49.4h0M24.4 40.1h0M41.6 34.8h0M21.3 56.5h0M20.5 55.6h0M17.9 57.9h0M22.6 42h0M22.7 42.6h0M34.2 34.5h0M40.5 30h0M12.8 61.5h0M52.1 20.2h0M17.9 48.2h0M22.9 58.2h0M18 57.4h0M34.3 45h0M39.7 30.6h0M44.5 28.5h0M10 60.2h0M13.4 62.7h0M33.2 45.1h0M20 55.6h0M23.7 43.3h0M31.9 44.9h0M43.2 31.8h0M34.1 31.6h0M23.7 39.2h0M21.8 54.6h0M24.9 42h0M20 46.8h0M9.3 63.2h0M17.4 57.9h0M27.5 39.5h0M18 47.9h0M37.9 31.4h0M14.8 54.3h0M23.2 40.7h0M32.1 48h0M43.2 31.1h0M36.3 39.3h0M37.2 41.6h0M16.3 52.4h0M26.6 37.9h0M38.6 30.2h0M29.5 48.4h0M25.1 52h0M44.1 27.2h0M21.4 40.7h0M21.3 54.1h0M39.5 35.7h0M14.3 52.3h0M37.1 38.2h0M10.7 59.4h0M41.4 36.7h0M26.9 51.5h0M16.5 52.1h0M45 27.3h0M33 46.3h0M20.5 35h0M36.6 38.8h0M19.8 41.2h0M8.5 61.2h0M12.2 54.8h0M12.5 63.5h0M20.2 42.8h0M19.4 56.2h0M41.5 28h0M27.2 49.3h0M35.2 31.3h0M7.2 64.3h0M22.1 45.4h0M13.7 59.9h0M31.1 36.3h0M10.2 60.6h0M30.1 47.9h0M41.6 32.4h0M45.3 27.1h0M47.8 24.2h0M56.6 15.5h0M51.2 20.3h0M34 33.7h0M55.5 18.1h0M35.4 33.4h0M56.9 15h0M54.8 17.4h0M47.4 23.6h0M37.5 32.3h0M42.2 30.6h0M51.7 20.4h0M38.7 31.4h0M52 20.9h0M45.7 27.1h0M55.7 16.5h0M46.5 25.6h0M47.6 23.4h0M45.7 25.6h0M37.1 29.5h0M47 25.4h0M56.5 16h0M40.6 33h0M41.5 32.8h0M33.6 34.7h0M38 38.3h0M50.2 22h0M55.9 16.1h0M57 15.9h0M46.6 24.6h0M47 25.1h0M57.3 15.1h0M51.3 21.2h0M51.8 20.8h0M44.4 28h0M41.4 32h0M53.8 18.4h0M46.8 24.3h0M46.8 26.6h0M52.1 20h0M53.5 18.6h0M56 16h0M44.9 25.7h0M46.5 27h0M42.5 31h0M49.7 20.4h0M55.1 17h0M46.2 25.6h0M55.2 17.4h0M43.4 26.3h0M53.7 19.6h0M51 21.1h0M51.3 21h0M52.4 20.3h0M45.1 26.5h0M41.6 31.9h0M39 30.9h0M51.3 21.8h0M38.2 31.1h0M49.1 23.9h0M34.4 33.2h0M52.5 18.9h0M47 24.4h0M46.4 26.5h0M55.4 16.9h0M42.5 28.6h0M52.9 18.7h0M54.4 17.9h0M51 20h0M57.2 15.3h0M56.9 15.4h0M39 29.6h0M37.8 38.7h0M44.7 28.3h0M36.6 32.7h0M50.6 21.6h0M46.5 25.9h0M40.3 30.3h0M46.9 25.9h0M45.8 27.1h0M54.9 17h0M42.7 30.2h0M50.2 22.4h0M55.4 16.2h0M45.7 27.2h0M53.5 18.9h0M7.7 64.9h0M7 64.2h0M8.1 64h0M7.7 63.6h0M8.2 62.7h0M10.7 62.5h0M9.6 61.4h0M10 60.4h0M43.3 28h0M44.5 27.9h0M45.2 27.2h0M44.8 26.8h0M45.8 26.4h0M45.8 26.4h0M46.4 25.7h0M46.4 25.6h0M47.2 25h0M46.7 24.6h0M48 24.5h0M47.8 24.3h0M48.7 23.8h0M48.2 23.3h0M49.1 22.9h0M49.1 22.8h0M49.7 22.1h0M49.6 22h0M50.4 21.4h0M50.8 21.9h0M51 20.7h0M51.3 20.9h0M51.9 20.2h0M51.8 20.1h0M52.7 19.6h0M52.6 19.5h0M53.2 18.8h0M53.1 18.6h0M53.8 18h0M53.8 18h0M54.7 17.5h0M54.5 17.3h0M55.3 16.8h0M55.1 16.5h0M56 16.1h0M56 16.1h0M56.6 15.3h0M56.6 15.3h0M57.4 14.7h0M57.4 14.7h0M58.1 14h0M58 14h0M58.7 13.3h0M58.6 13.2h0M59.4 12.6h0M59.4 12.6h0M60.1 12h0M60.1 12h0M60.7 11.1h0M60.8 11.2h0M61.4 10.5h0M61.4 10.6h0M62.2 9.9h0M62.1 9.8h0M62.8 9.2h0M62.9 9.2h0M63.5 8.5h0M63.5 8.5h0M64.2 7.8h0M64.2 7.8h0M64.8 7.1h0M64.8 7h0M65.5 6.4h0M65.6 6.5h0M66.2 5.7h0M66.2 5.8h0M7 62.8h0M8.8 65.1h0M7.2 62.8h0M9.3 64.6h0M7.7 61.9h0M10 64.3h0M8.4 61h0M10.7 64h0M9 60.6h0M10.7 62.2h0M9.4 60.3h0M12.3 63h0M10.5 60.2h0M12.4 62.3h0M10.7 58.9h0M12.9 61.3h0M10.7 58.1h0M14 61.4h0M10.8 57.6h0M14.5 60.4h0M12 56.9h0M14.9 60.6h0M12 55.9h0M17.1 61h0M12 55h0M15.5 59h0M13.3 55.5h0M16.4 58.4h0M13.3 53.7h0M17.6 58.1h0M13.9 53.4h0M18.1 58.2h0M14.8 53.6h0M18.2 56.7h0M15.6 53.1h0M19.3 57h0M15.4 52.2h0M19.8 56.7h0M16.2 51.1h0M20.6 55.7h0M16.9 51.5h0M21.4 55.7h0M17.4 50.1h0M22.3 55.1h0M18.1 49.9h0M22.2 54.3h0M17.9 48.3h0M22.6 54.1h0M18.4 47.9h0M24.4 54.3h0M17.5 46.7h0M24.1 53.2h0M19.3 46.8h0M24.8 52.8h0M19.4 46.1h0M24.7 51.6h0M20.6 46h0M25.8 51.1h0M21.2 45.3h0M26 50.4h0M21.9 44.8h0M26.7 50.5h0M21.8 44.1h0M28.1 50.6h0M22.7 43.4h0M28 49.6h0M22.3 42.4h0M29.1 49h0M23.8 42.4h0M29 47.7h0M24.1 42.5h0M30.5 48.3h0M24.4 41.2h0M29.9 46.9h0M25.1 40.9h0M30.5 46.4h0M25.8 40h0M31.7 46.5h0M26.5 39.9h0M32.6 45.8h0M27.3 39.9h0M32.7 45.1h0M26.7 38.5h0M33.2 44.1h0M28.2 38.5h0M33.8 43.8h0M28.5 37.7h0M34.2 43.5h0M28.9 37.1h0M34.8 42.8h0M29.3 36.8h0M35.3 42.3h0M31.2 36.4h0M35.8 41.9h0M30.6 35.8h0M35.8 40.7h0M31.5 35.6h0M36.9 40.3h0M32.4 35h0M37.7 40.4h0M33 34.5h0M37.7 38.7h0M34.2 34.1h0M38 38.1h0M33.1 32.7h0M38.7 37.4h0M34.7 33.1h0M38.2 36.7h0M35.5 32.8h0M39.1 36h0M36.4 32.1h0M40 35.8h0M36.7 32h0M40.7 35.4h0M37.7 31.7h0M41.3 34.6h0M37.9 30.2h0M40.8 33.4h0M39 30.3h0M41.1 32.7h0M39.8 30h0M42.2 32.5h0M40.2 29.8h0M42.4 31.3h0M40.6 28.3h0M42.5 31.1h0M41.9 28.6h0M43.5 30.6h0M41.2 27.3h0M44.2 29.9h0M42.7 27.8h0M45 29.5h0M43 27.2h0M44.9 28.8h0M43.9 27.1h0M45.6 28.3h0M44.7 26h0M46.7 27.9h0M45.2 26.3h0M46.6 27h0M45.4 24.9h0M47.3 26.5h0M46 24.6h0M47.2 26.1h0M47.3 24.6h0M48.2 25.2h0M47.1 23h0M48.2 24h0M48.2 23.3h0M48.6 23.9h0M48.4 22h0M49 23.3h0M48.8 22.1h0M50.3 22.9h0M49.6 21.9h0M50.5 22.8h0M50.3 20.9h0M50.7 21.7h0M50.8 20.6h0M51.7 21h0M51.2 19.7h0M52.1 20.7h0M52.4 19.6h0M52.1 20.1h0M52.7 19.1h0M53.1 19.6h0M53.1 17.9h0M53.8 19.4h0M53.8 18.2h0M54 18.3h0M32 32.7h0M38.9 54h0M23.5 37.4h0M21.4 59h0M31.5 32.5h0M24.3 56.7h0M21.4 35.2h0M26.5 52.9h0M17.9 37.1h0M16.7 45.1h0M44.4 31.7h0M45.5 20.8h0M48.2 19.8h0M37.9 48.8h0M29.2 52.7h0M51.9 17.4h0M21.2 42.4h0M8.6 57.2h0M12.3 41.4h0M13.4 50.4h0M23.5 39.9h0M35 31.5h0M42.6 36.3h0M43 34.8h0M35.6 29.6h0M28.1 51.3h0M16.9 61.3h0M25.8 34.9h0M27.8 54.5h0M13.2 44.2h0" stroke="#000" stroke-width="1.9" stroke-linecap="round" fill="none"/>
</g>
<text x="192.7" y="315.3" font-size="6.45" text-anchor="middle" fill="#3457ad" stroke="#3a5dae" stroke-width=".22">0.984</text>
<g transform="translate(246.5 305.6)">
<path d="M7.1 64.3L7.7 63.5L8.3 62.7L8.9 61.9L9.5 61.1L10.1 60.3L10.7 59.5L11.3 58.7L11.9 57.9L12.4 57L13 56.1L13.5 55.2L14 54.3L14.6 53.4L15.1 52.5L15.6 51.6L16.2 50.7L16.7 49.9L17.3 49.1L17.8 48.3L18.4 47.5L19 46.7L19.5 45.9L20.1 45.1L20.7 44.2L21.3 43.5L21.9 42.8L22.6 42.1L23.2 41.3L23.9 40.6L24.5 39.9L25.1 39.2L25.8 38.4L26.6 37.8L27.3 37.2L28.1 36.7L28.9 36.1L29.7 35.5L30.5 34.9L31.2 34.3L32 33.7L32.9 33.2L33.7 32.7L34.6 32.1L35.4 31.6L36.3 31.2L37.1 30.7L38 30.3L38.8 29.8L39.6 29.3L40.3 28.7L41.1 28.1L41.9 27.5L42.6 26.9L43.4 26.4L44.1 25.8L44.9 25.2L45.6 24.6L46.3 24L47.1 23.3L47.8 22.7L48.5 22.1L49.2 21.4L50 20.8L50.7 20.2L51.4 19.5L52.1 18.9L52.8 18.2L53.5 17.6L54.2 16.9L55 16.3L55.7 15.6L56.4 15L57.1 14.3L57.8 13.7L58.5 13L59.2 12.4L59.9 11.7L60.6 11.1L60.9 11.3L60.2 12L59.5 12.7L58.9 13.4L58.2 14.1L57.6 14.8L56.9 15.5L56.2 16.2L55.6 16.9L54.9 17.6L54.3 18.3L53.6 19L53 19.7L52.3 20.4L51.6 21.1L51 21.8L50.3 22.5L49.7 23.2L49.1 24L48.4 24.7L47.8 25.4L47.1 26.1L46.5 26.8L45.9 27.5L45.2 28.2L44.6 29L44 29.7L43.4 30.4L42.8 31.2L42.2 31.9L41.6 32.6L41.1 33.4L40.6 34.2L40 35L39.5 35.8L39 36.6L38.5 37.4L38 38.3L37.4 39.1L36.8 39.9L36.3 40.7L35.7 41.5L35.1 42.2L34.5 43L33.9 43.8L33.3 44.6L32.7 45.3L32 46L31.3 46.6L30.5 47.3L29.8 47.9L29.1 48.6L28.3 49.2L27.6 49.8L26.9 50.5L26.1 51L25.3 51.6L24.5 52.2L23.7 52.7L22.9 53.3L22 53.9L21.2 54.4L20.4 55L19.6 55.6L18.8 56.2L17.9 56.7L17.1 57.3L16.3 57.9L15.4 58.5L14.6 59.1L13.7 59.7L13 60.4L12.2 61L11.4 61.6L10.7 62.2L9.9 62.9L9.1 63.5L8.4 64.2L7.6 64.8Z" fill="#000"/>
<path d="M40.4 33.1h0M13.5 56.8h0M9.5 63h0M24.4 32.2h0M50.7 21.1h0M17.9 56.3h0M22.3 53.1h0M17.8 49.7h0M33.2 32.7h0M24.8 51.6h0M44.2 26.6h0M32.3 45.3h0M7.1 64.1h0M36.2 42.2h0M17.6 57.1h0M38.2 37.4h0M17.1 48.4h0M25.2 51.7h0M8.5 62.9h0M12.5 58.5h0M30 49.9h0M15.6 49.6h0M22.8 36.3h0M11.6 58.5h0M18.9 47.6h0M17.4 58h0M27.6 49.3h0M29.3 47.3h0M24 51.9h0M22.4 53h0M37.2 40.6h0M40 35.6h0M13.6 56.5h0M40.1 33.4h0M10.1 62h0M8.7 63.2h0M18.7 47.7h0M43.6 28.8h0M22.3 43.5h0M31.4 48.3h0M45.1 25.5h0M15.9 57.2h0M26.6 38.5h0M43.5 30.8h0M15.2 53.6h0M21.3 42.9h0M18.7 45h0M34.4 41.6h0M31.1 52h0M15 53.7h0M27.3 35.2h0M13.2 55.4h0M17.7 49.6h0M11.9 56.5h0M46.6 26.6h0M16 57.2h0M8.1 63h0M26 50.4h0M20.4 54.3h0M25.5 36h0M36.9 40.3h0M40.3 33.2h0M32.1 44.8h0M22.1 54.4h0M13 57.6h0M19.3 46.7h0M41 33.9h0M25.9 37.9h0M12.2 60.2h0M30.5 31.7h0M18.9 46.3h0M17.1 50.1h0M34.6 42.9h0M13.2 59.1h0M10.2 61.3h0M22.9 52.2h0M11.9 61.4h0M32.7 44h0M8.5 63.4h0M37 41.4h0M13 56.4h0M15.7 58.7h0M33.9 51h0M13.5 56.6h0M40.5 34.4h0M36.5 39.3h0M38.5 35.5h0M31.2 47.4h0M35.7 43.7h0M29.6 35.7h0M37.4 31.7h0M46.8 24.3h0M42 30.8h0M39.9 34.7h0M39.9 29.9h0M36.1 32h0M28.3 51.6h0M17.3 50.2h0M29.8 36h0M16.9 42.6h0M34.9 32h0M7.1 64.1h0M39.8 35.6h0M12.5 57.4h0M37.2 38h0M31.5 32.6h0M29.9 34.3h0M30 46.6h0M35.5 31.1h0M20 44.5h0M37.8 38h0M23.1 41.9h0M33.3 34h0M25.9 51h0M43.5 30.8h0M46.3 26.2h0M21.1 44.7h0M18.5 47.3h0M19 55.1h0M8.8 64h0M44.2 26.4h0M46.6 23.6h0M32 32.1h0M36.3 39.8h0M29.1 49.9h0M17.7 45h0M37.7 40.5h0M35.1 43.2h0M33.4 32.2h0M30.2 46.7h0M20.2 54.3h0M29.4 35.4h0M17.3 50.4h0M19.5 43.8h0M17.6 57.4h0M40.6 32.6h0M32.4 49.2h0M26.6 38.3h0M33.1 44.9h0M43.6 28.8h0M12.4 56.5h0M14 55.2h0M10.1 61.4h0M44.6 27.5h0M30.5 46.9h0M40.6 28.6h0M34.8 43.5h0M39.7 34.2h0M15.8 49.8h0M8 62.5h0M46.4 25.7h0M15.8 57.7h0M26.1 39h0M45.2 27.1h0M16.1 47h0M27 37.9h0M23 52.3h0M20.9 53.6h0M39.8 34.4h0M38.9 30.8h0M51.4 20.8h0M7.9 64.9h0M15.7 52.4h0M34 31.5h0M15.2 58.8h0M12.2 60.2h0M24.8 56.7h0M44.7 28.2h0M47.8 25.1h0M51.7 20h0M36.5 32h0M34.8 32h0M42.4 34.7h0M35.9 29.3h0M54.3 17.9h0M57.3 15.1h0M35.8 30.1h0M45.9 25.2h0M46.3 24.9h0M42.2 27.3h0M52.9 18.6h0M46.9 26.2h0M35.6 32.5h0M44.4 28.5h0M40.9 28.8h0M50.9 20.7h0M39.9 33.5h0M35.1 32.2h0M52.8 18.9h0M43.9 28.9h0M38.5 30.6h0M55.5 17.1h0M55.5 16.5h0M54.2 18h0M49.2 23.6h0M49.5 22.4h0M32.5 34h0M56.9 15.5h0M44.1 28.6h0M54.7 16.8h0M51.6 20.2h0M44.5 25.7h0M49.7 23h0M56.9 15.5h0M51.5 20.4h0M49.8 23.1h0M56.7 15.1h0M44.1 23.9h0M50.7 21.7h0M38.9 29.9h0M35.7 29.8h0M38.7 37.4h0M49.5 22.8h0M49.9 21.8h0M46.5 25.7h0M37.7 30.4h0M51.4 19.2h0M46.7 24.9h0M46.6 27.8h0M49.5 21.9h0M50.2 20.6h0M33.7 32.6h0M39.7 30h0M46.3 28.1h0M50.8 21.1h0M51.3 22.1h0M52.1 19.8h0M53.9 18.9h0M54 18.1h0M46.4 25.5h0M41.6 28.9h0M48.9 21.1h0M49.1 24.8h0M41 36.7h0M43.2 29.5h0M45 25.3h0M51.3 19.3h0M44.7 25.8h0M52.4 19.3h0M51.3 20.1h0M49.8 22.2h0M56.3 15.5h0M8 65.2h0M7.3 64.6h0M8.2 64.1h0M8.2 64.1h0M8.7 63.3h0M8.8 63.4h0M9.6 62.8h0M9.1 62.3h0M10.2 62h0M9.4 61.2h0M10.9 61.3h0M10.9 61.3h0M11.6 60.6h0M11 60.1h0M12.3 60h0M12.5 60.2h0M13 59.3h0M14.8 58.4h0M43.3 29.4h0M43.8 27.1h0M44.4 27.8h0M45.8 26.4h0M46.4 25.6h0M46.5 25.7h0M46.9 24.7h0M46.8 24.7h0M47.5 24h0M47.6 24.1h0M48.3 23.4h0M48.2 23.4h0M49.4 23.1h0M49.2 23h0M49.7 22.1h0M49.7 22.1h0M50.9 21.9h0M50.3 21.3h0M51.1 20.7h0M51 20.6h0M51.5 19.8h0M51.7 19.9h0M52.5 19.4h0M52.5 19.5h0M53.2 18.7h0M53.2 18.7h0M53.8 18h0M53.9 18.1h0M54.5 17.4h0M54.6 17.4h0M55.2 16.7h0M55.3 16.7h0M56.1 16.1h0M56 16h0M56.6 15.3h0M56.7 15.4h0M57.3 14.6h0M57.3 14.7h0M57.9 13.9h0M57.9 13.9h0M58.7 13.3h0M58.7 13.3h0M59.3 12.5h0M59.3 12.5h0M60 11.8h0M60.1 11.9h0M60.8 11.3h0M60.8 11.2h0M61.4 10.5h0M61.3 10.5h0M62.1 9.8h0M62.1 9.9h0M62.7 9.1h0M62.7 9.1h0M63.5 8.5h0M63.5 8.5h0M64.2 7.8h0M64.1 7.8h0M64.8 7.1h0M64.9 7.1h0M65.5 6.4h0M65.5 6.4h0M66.2 5.8h0M66.2 5.7h0M8.3 63h0M9.1 64h0M9 62.6h0M10.1 63.4h0M9 61.2h0M10.3 62.8h0M9.1 61h0M10.7 62.2h0M10.5 60.5h0M11.5 62h0M10.1 59.5h0M11.5 61.2h0M11.3 59.8h0M12.3 60.9h0M11.1 58.3h0M12.8 60.2h0M12.1 58.1h0M13.7 59.5h0M11.6 56h0M14.3 59.5h0M12.9 56.5h0M15.5 58.6h0M12.7 55.6h0M17.5 60h0M13.7 55.6h0M17.3 58.4h0M14.1 54.8h0M17.2 57.1h0M14.1 53.5h0M17.9 56.8h0M13.1 50.6h0M18.6 56.8h0M15.7 52.6h0M20 56.6h0M15.2 51.3h0M15.5 50.5h0M20.2 55.1h0M16.9 50.7h0M21.2 54.2h0M17.4 49.6h0M21.3 54.1h0M17.8 48.9h0M23.1 54h0M17.8 47.5h0M23.3 53.2h0M17.7 47h0M24 53h0M19.5 47.2h0M24.7 52.7h0M18.9 46h0M25.6 52.8h0M19.9 46.1h0M25.4 50.6h0M20.4 45.2h0M26.2 51.1h0M20.6 44.1h0M27 50.8h0M20 43h0M27.1 50h0M22.3 43.2h0M28.1 49.4h0M21.5 41.3h0M28.3 49.2h0M22.9 41.7h0M29.4 48.4h0M23.8 41.6h0M30 48.2h0M23.9 41.1h0M30.4 47.6h0M22.6 38.4h0M31.2 46.6h0M25.2 39.6h0M31.5 46.5h0M25.4 38.8h0M32.8 46.1h0M25.9 38.1h0M32.7 45.1h0M26.3 38.3h0M33.5 44.9h0M26.9 37.7h0M33.4 43.6h0M27.6 37h0M33.8 43.7h0M28.1 36.1h0M34.3 42h0M29.3 36.1h0M34.9 42h0M29.7 35.6h0M35.5 42h0M30.1 34.7h0M36.6 41.1h0M31.1 34.8h0M37.7 41.4h0M31.4 34.2h0M36.5 39.4h0M32.6 33.8h0M37.3 38.9h0M32.3 32.5h0M37.2 38h0M32.7 32.2h0M38.1 37.4h0M34.4 33h0M39.2 37.8h0M34.6 32.1h0M39.2 36.3h0M35.9 32.3h0M40.1 36.1h0M36 31.2h0M40.3 35.2h0M36.4 30.4h0M40 34.5h0M36.4 29.8h0M40.7 34.3h0M38.2 29.9h0M40.8 32.9h0M39.3 30.4h0M41.5 32.2h0M40.1 29.6h0M42.4 32.8h0M40.5 29.4h0M42.5 31h0M40.2 28.3h0M42.2 30.5h0M41.8 28.4h0M43.2 29.8h0M42 27.4h0M44.3 29.9h0M42.7 27.3h0M44.3 28.6h0M43.7 26.7h0M45.5 29h0M43.6 25.6h0M45.4 27.7h0M44.1 25.6h0M46.2 27.6h0M44.9 24.7h0M46.8 27.1h0M45 24.5h0M47 26.6h0M46.4 24.5h0M47.7 25.7h0M46.6 23.7h0M48.1 25.1h0M46.9 23.2h0M48.4 24.3h0M48.3 23.2h0M48.7 23.2h0M48.2 22.4h0M49.6 23h0M49.5 22h0M49.7 22.9h0M49.7 21.6h0M50.7 22.1h0M50.2 21h0M51.2 21.6h0M50.9 20.7h0M51.5 21.2h0M51.5 19.6h0M52.2 21h0M51.9 19.1h0M52.6 19.4h0M52.6 18.6h0M52.9 19.2h0M53.3 18h0M53.7 19.4h0M53.9 17.7h0M53.6 17.9h0M54.7 17.3h0M54.8 18.2h0M23.3 32.4h0M29.4 33.4h0M20.5 38.3h0M47.1 19h0M14.1 51h0M50.3 18.6h0M17.5 37.5h0M24.3 65.4h0M37.3 29.5h0M21.1 40h0M21.1 39.8h0M22.1 37.8h0M37.5 46.1h0M39.8 19h0M36.6 30.3h0M14.1 44.6h0M20.1 60.6h0M9.2 49.2h0M33.9 47.8h0M40.3 26.9h0M50.3 27.8h0M23.5 59.5h0M29.2 51.6h0M27.1 58.5h0M16.7 45.1h0M43 22.4h0M6.8 55.3h0M34.7 47.7h0M50.8 25.7h0M46.1 43h0" stroke="#000" stroke-width="1.9" stroke-linecap="round" fill="none"/>
</g>
<text x="268.4" y="315.3" font-size="6.45" text-anchor="middle" fill="#3457ad" stroke="#3a5dae" stroke-width=".22">0.986</text>
<g transform="translate(19.5 380.8)">
<path d="M6.7 63.9L7.2 63.1L7.8 62.4L8.4 61.6L9 60.8L9.5 60L10.1 59.2L10.7 58.4L11.3 57.6L11.9 56.8L12.5 56L13 55.3L13.6 54.5L14.2 53.7L14.8 52.9L15.4 52.1L16 51.4L16.6 50.6L17.2 49.8L17.8 49.1L18.4 48.3L19 47.6L19.6 46.8L20.3 46L20.9 45.3L21.5 44.6L22.2 43.9L22.8 43.1L23.5 42.4L24.1 41.7L24.8 41L25.5 40.3L26.1 39.6L26.9 39L27.7 38.4L28.4 37.8L29.2 37.2L30 36.6L30.7 36L31.5 35.4L32.3 34.8L33.1 34.2L33.9 33.7L34.7 33.1L35.6 32.6L36.4 32.1L37.2 31.5L38.1 31L38.9 30.4L39.6 29.8L40.4 29.2L41.1 28.6L41.9 28L42.7 27.4L43.4 26.8L44.2 26.1L44.9 25.5L45.7 24.9L46.4 24.2L47.1 23.6L47.8 22.9L48.5 22.3L49.3 21.6L50 21L50.7 20.3L51.4 19.7L52.1 19L52.8 18.4L53.5 17.7L54.3 17.1L55 16.4L55.7 15.7L56.4 15.1L57.1 14.4L57.8 13.8L58.5 13.1L59.2 12.4L59.9 11.8L60.6 11.1L60.9 11.4L60.2 12.1L59.5 12.8L58.9 13.5L58.2 14.2L57.5 14.9L56.9 15.6L56.2 16.3L55.6 17L54.9 17.7L54.2 18.4L53.6 19.1L52.9 19.8L52.3 20.6L51.6 21.3L51 22L50.3 22.7L49.7 23.4L49 24.1L48.4 24.9L47.7 25.6L47.1 26.3L46.4 27L45.8 27.8L45.2 28.5L44.6 29.3L44 30.1L43.4 30.8L42.8 31.6L42.1 32.3L41.5 33.1L41 33.9L40.4 34.7L39.9 35.6L39.4 36.4L38.8 37.2L38.3 38L37.7 38.9L37.2 39.7L36.6 40.5L36 41.2L35.4 42L34.8 42.8L34.2 43.5L33.6 44.3L33 45.1L32.4 45.8L31.7 46.5L31 47.1L30.2 47.8L29.5 48.5L28.8 49.1L28.1 49.8L27.4 50.4L26.7 51.1L25.9 51.7L25.2 52.3L24.4 52.9L23.6 53.5L22.9 54.1L22.1 54.7L21.4 55.4L20.6 56L19.8 56.6L19 57.1L18.3 57.7L17.5 58.3L16.7 58.9L15.9 59.5L15.1 60.1L14.4 60.7L13.6 61.3L12.8 61.8L12 62.4L11.2 63L10.4 63.6L9.6 64.1L8.8 64.7L8 65.3Z" fill="#000"/>
<path d="M13.7 50.6h0M25.5 36.7h0M16.5 50h0M22.8 42.8h0M41.1 33h0M22.1 41.9h0M15.3 59h0M33.9 34.3h0M12 61.8h0M28.1 38.3h0M39.2 40h0M34.3 47.1h0M20.3 47.3h0M7.5 64.1h0M35.7 42.7h0M34.4 41.9h0M44 30.5h0M48.5 25.3h0M25.2 41.9h0M36 31.6h0M9 63.7h0M45.5 27.2h0M31.5 47.2h0M14.1 55.2h0M15.5 59.2h0M9.9 60.7h0M32.1 49.5h0M18.2 49.4h0M25.1 41.7h0M26.3 53.8h0M27.8 39.1h0M26.6 51h0M20.1 44.7h0M26.4 50.4h0M24.5 42.6h0M42.2 32.4h0M20.2 39.4h0M19 45.5h0M38.2 30.4h0M36.2 42.1h0M21.5 43h0M34.4 44.3h0M22.7 53.9h0M32.5 33.2h0M39.7 34.6h0M41.2 32.2h0M46.5 26.5h0M45 26.4h0M39.2 31.3h0M14.7 52.7h0M14 63.4h0M45.7 27.1h0M19.6 55.5h0M19 46.7h0M13.7 53.7h0M35.3 46.5h0M33 43.9h0M44.7 27.8h0M19.1 46.5h0M8.6 63.7h0M24.1 40.2h0M36.4 31.4h0M41.6 32.6h0M44 28.5h0M25.9 51.5h0M45.5 27.5h0M34.3 41.8h0M24.6 41.5h0M22.7 54.1h0M37.7 37.9h0M27.6 51.2h0M27.1 37.7h0M17 44.2h0M36.9 46h0M14.7 60h0M43.4 30.3h0M23.5 53.1h0M17.5 48h0M38.7 36.4h0M15.8 58.9h0M20.7 57.5h0M47.7 24.7h0M32.5 45.6h0M16.9 62.1h0M28.4 38.1h0M27.6 49.4h0M13.2 55h0M21.7 54.3h0M42.3 28.9h0M28.8 49.6h0M31.7 46.5h0M26 50.6h0M42.4 34.7h0M42 32.1h0M38.8 36.2h0M25.5 41.6h0M22.7 43.4h0M23.3 53h0M36.5 31.2h0M15.2 51.2h0M7.8 61.4h0M35.1 33.8h0M45.4 27.2h0M40.5 29.9h0M39.3 37.1h0M39.1 35.7h0M30.9 46.8h0M24.1 53.9h0M42.1 31.4h0M19.7 44.3h0M33.8 34.7h0M35.3 32.6h0M39.1 37.7h0M18.3 57.5h0M20.6 44h0M29.6 37.6h0M46.7 26.4h0M33.7 34.3h0M18.4 56.7h0M9.3 60.2h0M24.5 42.6h0M46.5 26.6h0M30.2 46.6h0M37 30.4h0M28 48.6h0M23.6 42.5h0M48.1 23.6h0M23.1 58h0M28.1 38.9h0M32.3 34.1h0M18.7 45.7h0M27.6 35.9h0M18.7 46.6h0M40.5 33.7h0M11.2 57.4h0M30.1 37.6h0M17 58.4h0M11.1 56.8h0M9 58.9h0M27.4 49.1h0M28.5 48.7h0M31.5 35.8h0M36.1 33.1h0M8.8 64.6h0M36.3 32.1h0M20.1 47.3h0M32.8 47.6h0M25.5 41.4h0M38.2 37.4h0M16.4 57.9h0M14.2 54.3h0M10.9 63.1h0M8.4 64.5h0M32.6 49h0M31 46h0M38 36.7h0M25.4 52.1h0M30 37.1h0M10 60.7h0M29.5 34.7h0M20 39.4h0M22.1 43.6h0M25.6 41.1h0M45.4 27.1h0M40.5 35.7h0M37.3 41h0M34.2 43.1h0M46.3 25h0M42.3 27h0M36.6 38.9h0M24.4 42.4h0M17.1 58.4h0M21.4 45.4h0M19.1 56.2h0M41.7 35.6h0M16.1 59.5h0M17.7 57.1h0M41.4 32h0M26.8 50.6h0M47.3 24.4h0M23.8 42.7h0M33.7 42.9h0M35.4 49.6h0M25.1 41.8h0M23 42.8h0M30.4 48.4h0M42 31.9h0M49.8 23h0M52.5 19.1h0M50 21.3h0M40.9 39.7h0M47.6 25.8h0M51 21.3h0M32.3 34.7h0M56.7 15.4h0M55.1 17.1h0M47.6 24.4h0M57.2 14.8h0M54.2 18.4h0M56.5 15.1h0M48.9 23.1h0M35.1 33h0M47.1 24.2h0M49.8 21.7h0M40.3 36.3h0M50.9 20.6h0M40.2 33.7h0M49.7 24.3h0M44.4 25.8h0M46.9 23.8h0M35.2 32h0M47.4 23.6h0M33 35.2h0M52.8 21.4h0M49.2 22.1h0M42.3 32.7h0M46.6 25.9h0M37.9 32h0M49.7 23.6h0M42.5 31h0M45.1 26.2h0M40 30.7h0M48.5 23.6h0M48.3 24.1h0M38.1 37.7h0M46 24.5h0M40.9 33.1h0M49.5 23.2h0M43.4 29.3h0M50.6 20.2h0M48.5 22.8h0M49.6 23.1h0M54.7 16.8h0M40.7 34.3h0M45 27.9h0M42.2 31.3h0M51.3 20.9h0M41.4 32.7h0M54.6 17h0M50.3 20.7h0M45.2 25h0M51.6 21.1h0M52.4 19h0M53 18.8h0M38.2 31.2h0M44.5 26.9h0M48.2 23.4h0M30.3 32.5h0M36.6 33h0M48.6 23.4h0M45.4 26.2h0M40.1 33.9h0M46.3 25.4h0M53.4 19.5h0M56.4 15.7h0M49.4 22.3h0M34.6 33h0M51.6 25h0M55.7 17.7h0M51.7 20.4h0M39 39.3h0M52.7 19h0M42.1 29h0M40.6 28.8h0M41 32.3h0M47.2 25.3h0M48.2 24.7h0M7 64.3h0M7.3 64.6h0M7.7 63.6h0M8.5 63h0M9 62.1h0M44.8 26.7h0M44.7 26.6h0M45.9 26.5h0M45.4 26h0M46 25.2h0M46.4 25.7h0M47.1 25h0M47.4 25.3h0M47.9 24.4h0M47.8 24.3h0M48.2 23.3h0M48.5 23.6h0M49.2 23h0M49.1 22.8h0M49.8 22.2h0M50 22.4h0M50.6 21.6h0M50.5 21.5h0M51.5 21.1h0M51.3 20.9h0M52.1 20.4h0M51.9 20.2h0M52.5 19.4h0M52.6 19.5h0M53.1 18.6h0M53.1 18.7h0M54.1 18.3h0M54 18.2h0M54.6 17.4h0M54.5 17.3h0M55.2 16.7h0M55.1 16.5h0M55.9 16h0M55.9 16h0M56.8 15.5h0M56.7 15.4h0M57.3 14.6h0M57.3 14.7h0M58 13.9h0M58 13.9h0M58.7 13.3h0M58.7 13.3h0M59.4 12.6h0M59.4 12.7h0M60.1 11.9h0M60 11.9h0M60.7 11.2h0M60.8 11.3h0M61.5 10.6h0M61.3 10.4h0M62.2 9.9h0M62.1 9.9h0M62.8 9.2h0M62.9 9.2h0M63.5 8.5h0M63.5 8.5h0M64.2 7.8h0M64.1 7.7h0M64.9 7.1h0M64.9 7.2h0M65.5 6.4h0M65.6 6.5h0M66.2 5.7h0M66.2 5.7h0M7.1 63.7h0M8.3 64.5h0M7.4 63h0M9.4 64.2h0M8.2 62.5h0M9.5 63.2h0M8 61.3h0M10.9 63.3h0M9 60.7h0M11.2 63.1h0M10.2 60.5h0M12.2 62.7h0M9.8 58.9h0M12.6 62.3h0M10.8 59.2h0M12.8 61.4h0M10.6 58.2h0M14.1 61.1h0M10.9 56.9h0M14.7 60.6h0M12 57h0M15.2 60.9h0M12.5 56.5h0M15.1 59.6h0M12.8 56.1h0M16.1 59.6h0M13.6 55.9h0M17.5 59.2h0M13.3 54.2h0M17.2 57.6h0M13.9 53.6h0M18.2 57.6h0M14.6 53.6h0M18.8 57.4h0M15 52.2h0M20.4 58.3h0M15 51.3h0M19.6 56.4h0M16.6 51.8h0M21.3 56.2h0M16.2 50.3h0M21.9 56h0M16.2 49.1h0M21.9 55.6h0M17.9 49.9h0M22.4 54.5h0M18.1 48.5h0M22.5 53.9h0M17.4 47.8h0M24 53.5h0M19.1 47.4h0M24.7 53.8h0M19 47.1h0M25 52.3h0M20.3 47.3h0M25.4 52h0M20.7 46.4h0M26.4 52.1h0M20.7 45.4h0M26.4 50.6h0M21.6 44.9h0M27.6 50.5h0M21.8 44.3h0M28 50.3h0M21.6 42.5h0M28.4 49.1h0M22.7 42.8h0M29.3 49h0M23.3 42.7h0M29.5 48.2h0M24.3 41.7h0M30.6 48.7h0M24.3 41.5h0M30.7 47.1h0M25.5 41.4h0M30.6 46.3h0M25.6 39.8h0M31.2 45.9h0M26 39h0M32.7 45.8h0M26.9 39.1h0M32.7 45.2h0M27.4 39.2h0M33.5 44.9h0M28.6 38.5h0M34.1 44h0M29 38.3h0M34.2 43.8h0M28.9 37h0M35.3 43.2h0M30 36.8h0M35.5 41.9h0M30.4 35.7h0M36 41.2h0M30.2 35.4h0M36 41.2h0M32.1 35.4h0M36.1 40.1h0M32 35h0M36.6 39.2h0M33.1 34h0M37.4 38.5h0M33.1 33.6h0M37.4 38h0M34.5 33.5h0M38.5 37.9h0M34.8 32.5h0M41.6 39.8h0M35.6 32.4h0M39.1 35.7h0M36.2 32h0M39.6 36h0M36.1 31.4h0M40.7 35.1h0M37.8 31.4h0M40.4 34.6h0M38.7 31h0M41.3 34h0M39.6 30.6h0M41.2 32.3h0M39.9 30.6h0M41.5 31.9h0M40.7 29.9h0M42.6 32.3h0M39.9 28.3h0M43.5 31.5h0M41.2 28.7h0M43 30.6h0M41.7 27.5h0M44.5 30.2h0M42.2 27.5h0M45.7 30.3h0M43.5 26.9h0M44.3 28.7h0M44.4 26.8h0M45.1 27.7h0M44.1 25.9h0M45.4 27.1h0M44.7 25.2h0M46.6 27.5h0M45.2 24.6h0M46.3 26h0M45.8 24.4h0M47.7 25.7h0M47.2 24.4h0M47.5 25.3h0M47.6 23.4h0M48.5 25.1h0M47.8 23.4h0M49.3 24.4h0M48.9 22.5h0M49.6 23.8h0M49.2 21.9h0M50.6 23.1h0M50.1 21.6h0M50.2 22h0M50.3 21.1h0M50.7 21h0M51.4 20.6h0M51.1 20.8h0M51 20h0M52.1 21h0M52.1 19.2h0M52.7 20.5h0M52.6 18.4h0M52.8 18.9h0M52.9 17.7h0M53.2 18.4h0M53.4 17.5h0M54.6 18.7h0M33.7 49.7h0M20.3 63.2h0M15.1 50.3h0M32.4 26.5h0M44 20.1h0M35.8 50.6h0M45.1 20.6h0M32.6 29.3h0M31.8 32.7h0M44.3 36.9h0M9.8 42.1h0M18.1 59.6h0M7.4 58.5h0M10.8 64.9h0M34.8 47.5h0M17.6 46.7h0M24.8 38.5h0M21.9 38.6h0M25.8 34.7h0M12.5 50.8h0M19 43.5h0M44.3 22.2h0M22 37.8h0M10.9 48.5h0M18.5 44.6h0M42.9 33.5h0M38 44.1h0M30 59h0M15.2 46.7h0M42.3 40.1h0" stroke="#000" stroke-width="1.9" stroke-linecap="round" fill="none"/>
</g>
<text x="41.4" y="390.5" font-size="6.45" text-anchor="middle" fill="#3457ad" stroke="#3a5dae" stroke-width=".22">0.983</text>
<g transform="translate(170.8 380.8)">
<path d="M6.6 63.9L7.2 63.1L7.8 62.3L8.3 61.5L8.9 60.7L9.5 59.9L10.1 59.1L10.6 58.3L11.2 57.5L11.8 56.7L12.4 55.9L12.9 55.2L13.5 54.4L14.1 53.6L14.7 52.8L15.3 52L15.9 51.2L16.5 50.5L17.1 49.7L17.7 48.9L18.3 48.2L18.9 47.4L19.5 46.7L20.1 45.9L20.7 45.1L21.4 44.4L22 43.7L22.7 43L23.3 42.3L24 41.6L24.6 40.8L25.3 40.1L26 39.4L26.7 38.8L27.5 38.2L28.3 37.6L29 37L29.8 36.4L30.6 35.8L31.4 35.2L32.1 34.6L33 34.1L33.8 33.6L34.6 33L35.5 32.5L36.3 32L37.1 31.4L38 30.9L38.8 30.4L39.6 29.8L40.3 29.1L41.1 28.5L41.9 27.9L42.6 27.3L43.4 26.7L44.1 26.1L44.9 25.5L45.6 24.9L46.3 24.2L47.1 23.6L47.8 22.9L48.5 22.3L49.2 21.6L50 21L50.7 20.3L51.4 19.7L52.1 19L52.8 18.4L53.5 17.7L54.2 17L55 16.4L55.7 15.7L56.4 15.1L57.1 14.4L57.8 13.7L58.5 13.1L59.2 12.4L59.9 11.8L60.6 11.1L60.9 11.4L60.2 12.1L59.5 12.8L58.9 13.5L58.2 14.2L57.6 14.9L56.9 15.6L56.2 16.3L55.6 17L54.9 17.7L54.3 18.4L53.6 19.1L53 19.9L52.3 20.6L51.6 21.3L51 22L50.3 22.7L49.7 23.5L49.1 24.2L48.4 24.9L47.8 25.6L47.1 26.3L46.5 27.1L45.9 27.8L45.2 28.6L44.6 29.3L44 30.1L43.4 30.9L42.8 31.6L42.2 32.4L41.6 33.1L41.1 34L40.5 34.8L40 35.7L39.5 36.5L38.9 37.3L38.4 38.2L37.9 39L37.3 39.8L36.7 40.6L36.1 41.4L35.5 42.1L34.9 42.9L34.3 43.7L33.7 44.5L33.1 45.2L32.5 46L31.8 46.7L31.1 47.3L30.4 48L29.7 48.6L29 49.3L28.3 49.9L27.5 50.6L26.8 51.2L26.1 51.8L25.3 52.5L24.5 53.1L23.8 53.7L23 54.3L22.2 54.9L21.5 55.5L20.7 56.1L19.9 56.7L19.1 57.3L18.4 57.8L17.6 58.4L16.8 59L16 59.6L15.2 60.2L14.4 60.8L13.6 61.3L12.8 61.9L12 62.5L11.2 63L10.4 63.6L9.6 64.2L8.8 64.7L8 65.3Z" fill="#000"/>
<path d="M23.7 53.7h0M9.2 60.6h0M12.6 61.4h0M19.2 46.4h0M12 62.5h0M18.6 57.7h0M22.2 43.2h0M39.2 36.5h0M17.1 50.3h0M28.7 50.1h0M44.7 28h0M49.1 21.7h0M41.4 34.5h0M27.7 52.8h0M11.7 63h0M7.6 64.2h0M40.6 33h0M15.7 59h0M35.2 49.9h0M25.5 52h0M29.5 35.3h0M35.9 41.8h0M19.9 56h0M33.6 31.5h0M30 49.5h0M42.3 27.9h0M31 46.2h0M18.3 48.9h0M24.4 39.1h0M25.2 52.7h0M31.2 46.1h0M14.5 52.8h0M11.5 65h0M8.8 61.7h0M22.4 53.9h0M24.6 41.9h0M12.5 63h0M30 34.7h0M34.2 33.6h0M7.5 64.5h0M47.7 23.6h0M29.6 37.7h0M36 49.1h0M33.2 33.7h0M35.2 33.1h0M34.5 44.6h0M42.6 31.5h0M22.3 44.3h0M38.2 38.3h0M28.3 52.8h0M20.3 55.4h0M46.7 26h0M22 42.2h0M30.5 51.8h0M12.6 61.5h0M21.9 44.9h0M48.5 27.4h0M23.6 41h0M29.3 48.5h0M27.7 49.5h0M31 33.9h0M36.3 31.5h0M19.7 42.9h0M31.6 47h0M37.3 39.5h0M13.3 60.7h0M18.4 56.8h0M8.8 65.4h0M31.7 45.6h0M43 30h0M37.4 29.2h0M7.7 61.4h0M25.4 38.7h0M29.8 49.2h0M17.3 57.8h0M34 34.1h0M51.6 20.8h0M27.6 52.7h0M18.4 48.4h0M21.9 56h0M42.9 28.2h0M20.9 56.2h0M33.6 45h0M18.3 44.9h0M27.4 39h0M35.8 42.1h0M34.2 31.9h0M29.8 52.3h0M13.6 49h0M40.8 29.7h0M20.6 45.4h0M26.9 50.9h0M9 60.9h0M16.9 61.8h0M28.3 48.7h0M25.4 52.9h0M24.2 52.9h0M27.3 50.9h0M23.7 43.2h0M30.7 49.5h0M39.1 30.1h0M17.5 49h0M19.9 56h0M13.6 63.1h0M24.1 55h0M24 42.4h0M35.7 33.2h0M13.9 54.9h0M43.8 30.1h0M14.2 54.8h0M36 44.9h0M41 28.6h0M8.5 59.4h0M14.7 59.7h0M20 57.1h0M37.8 37.4h0M30.6 36.8h0M23.9 55.6h0M16.1 51.8h0M22 43.1h0M27.9 52.6h0M16 51.4h0M44.6 28.3h0M14.4 59.8h0M15.8 51.7h0M20.9 56.5h0M37.7 42.4h0M32.6 49.3h0M23.4 55.2h0M48.4 22.5h0M11.9 57.5h0M29.7 49.7h0M28.3 50.3h0M31.9 35.9h0M16 59.2h0M39.8 34.6h0M9 62.2h0M16.7 43.2h0M32.5 46.2h0M33.4 45.7h0M40.1 29.4h0M23.9 42.4h0M19.1 56.7h0M30.4 50.5h0M40.9 41.5h0M28.3 49.8h0M30.7 47.4h0M24.9 35.4h0M38.7 39.3h0M20.3 56.9h0M37.2 32.2h0M48.8 24.4h0M38.9 29.5h0M48.2 24.1h0M53.9 18.7h0M47.2 24h0M41.3 38.8h0M46.5 26.7h0M48.9 23.7h0M55.7 16.4h0M56.7 15.2h0M43.8 31.1h0M45.8 25.8h0M56.4 16.2h0M48.1 23.5h0M36.6 32.6h0M53.5 18.9h0M54.6 19h0M48.5 23.6h0M54.3 17.3h0M52 21.2h0M43.9 24.9h0M48.4 24.5h0M52.9 19.5h0M41 29.5h0M44.8 26.7h0M45.6 27.7h0M55.6 16.9h0M49.2 21.4h0M44.9 29.6h0M50 21.2h0M53.8 17.8h0M44.8 25.3h0M40.9 28.8h0M43.1 26.6h0M40.9 29.5h0M52.1 19.6h0M45.9 26.9h0M41.7 31.5h0M38.6 31.3h0M49.7 21.9h0M53.2 18.7h0M48.9 25.2h0M44.9 26.5h0M51.1 21.2h0M56.4 16.7h0M46.8 24.4h0M47.3 25.4h0M50.7 20.6h0M46.1 26.8h0M53.9 18.9h0M46.8 25.8h0M48.6 24.1h0M50.1 21.2h0M52.7 21.9h0M52.2 19.4h0M56.3 15.9h0M52.3 19.5h0M43.3 26.5h0M47.3 23.1h0M51.8 19.5h0M47.9 24.2h0M38.6 36.4h0M55.7 15.3h0M54.2 18.6h0M45.6 25.4h0M56.6 14.9h0M40.1 36.1h0M44.7 26.6h0M49.7 21.4h0M44.2 27h0M54 18.7h0M45.4 28.7h0M51.4 19.5h0M40.1 30.1h0M7.2 64.4h0M7.2 64.5h0M7.8 63.7h0M41.6 29.1h0M44.2 28.9h0M45 28.3h0M44.7 26.6h0M45.2 27.2h0M45.9 26.5h0M45.5 26.1h0M46.5 25.7h0M47.3 25.2h0M47.2 25.1h0M47.9 24.3h0M47.9 24.4h0M48.1 23.3h0M48.6 23.8h0M49.3 23.1h0M49.4 23.2h0M49.8 22.2h0M49.8 22.2h0M50.7 21.8h0M50.5 21.5h0M51.2 20.8h0M51.4 21h0M51.8 20.1h0M51.9 20.2h0M52.6 19.6h0M52.6 19.5h0M53.2 18.7h0M53 18.6h0M54.1 18.3h0M53.8 18h0M54.7 17.5h0M54.5 17.3h0M55.2 16.7h0M55.3 16.7h0M56 16.1h0M55.8 15.8h0M56.6 15.3h0M56.7 15.4h0M57.3 14.6h0M57.4 14.7h0M58 13.9h0M58 14h0M58.7 13.3h0M58.7 13.3h0M59.4 12.7h0M59.4 12.6h0M60 11.9h0M60.1 11.9h0M60.8 11.2h0M60.8 11.3h0M61.5 10.6h0M61.4 10.5h0M62.1 9.9h0M62.1 9.8h0M62.9 9.2h0M62.8 9.2h0M63.5 8.5h0M63.4 8.4h0M64.1 7.8h0M64.1 7.8h0M64.9 7.1h0M64.9 7.1h0M65.5 6.4h0M65.6 6.5h0M66.2 5.8h0M66.2 5.7h0M7.5 63.6h0M8.5 64.8h0M7.4 62.6h0M9.5 64.2h0M7.9 62h0M9.7 63.7h0M8.4 60.8h0M11.7 64.2h0M8.9 61.2h0M11.7 63.9h0M9.1 60.1h0M11.8 62.3h0M10 60.1h0M12.2 61.5h0M10.2 58.2h0M13.3 61.8h0M10.6 57.7h0M13.9 61.6h0M11.8 58h0M15.5 61.7h0M11.3 56.6h0M16.6 61.4h0M12.1 56.7h0M16 60.1h0M12.2 55.5h0M17.8 61.1h0M13.6 55h0M17.8 59.8h0M13.9 54.6h0M18.5 59.2h0M13.5 53.4h0M17.7 57.5h0M12.9 52h0M18.5 57.4h0M15.2 52.6h0M19.5 57.2h0M15.3 52.2h0M20.5 56.6h0M16.3 51.8h0M20.3 55.5h0M16.5 50.6h0M20.6 55.4h0M16.3 50h0M22.8 56h0M17.5 49.7h0M22.6 54.3h0M17.6 48.9h0M23.2 54.6h0M18.2 47.9h0M23.8 53.7h0M18.8 47.5h0M25.1 54.4h0M18.9 46.2h0M25.4 52.8h0M19.5 46.2h0M25.3 52h0M20.4 45.5h0M26.4 52.1h0M20.6 44.5h0M28 52.8h0M20.9 44.4h0M27.2 50.6h0M21.2 43.4h0M27.8 49.8h0M22.5 43.7h0M28.9 49.6h0M22.6 43.1h0M28.6 48.5h0M23.6 42.7h0M29.6 48.5h0M23.5 41.5h0M29.8 48.2h0M24.2 40.7h0M30.8 47.7h0M25.4 40.7h0M31.3 47.2h0M25.9 40.8h0M31.2 46.2h0M25.7 39.1h0M33 45.9h0M26.7 38.7h0M33.6 46h0M27.4 38.9h0M33.6 45.1h0M28.5 38.4h0M33.7 43.5h0M28.8 37.8h0M34.6 43.3h0M29 36.5h0M35.4 42.8h0M29 35.6h0M35.4 42h0M30.2 35.6h0M36 41.9h0M30.9 35.2h0M36.7 41h0M30.9 34.2h0M36.8 40.1h0M32.6 34.8h0M37 39.7h0M32.9 34.3h0M38.2 39.6h0M33.5 34h0M38.6 38.6h0M34.1 33.3h0M39 37.9h0M35.2 32.8h0M39 37.4h0M35.2 32.3h0M39.2 36.7h0M36.2 32.4h0M39.8 35.4h0M36.3 31.2h0M41 35.7h0M37.5 31.6h0M40.9 34.7h0M38.3 30.5h0M41.1 34.1h0M38.8 30.8h0M41.9 33h0M39.4 30.1h0M42.3 32.2h0M40.5 29.7h0M42 31.9h0M41.2 29h0M43.8 31.8h0M41.1 28.6h0M43 30.2h0M42.2 28.2h0M44.4 30.2h0M42.5 27.1h0M44.2 29.5h0M43 27.1h0M44.7 28.3h0M43.7 26.7h0M45.5 28.4h0M44.2 25.7h0M45.9 27.1h0M44.6 24.8h0M46.9 27.4h0M45.7 25.1h0M47 26.8h0M46 24.7h0M47.2 25.5h0M47.1 24.2h0M48.3 25.5h0M47.1 22.8h0M48.7 24.6h0M48.3 22.8h0M49.1 24.5h0M48.7 22.5h0M49.1 23.1h0M48.7 21.8h0M50.1 22.8h0M49.8 21.2h0M50.2 21.8h0M50 20.6h0M51.1 21.5h0M51.4 20.6h0M51.5 20.7h0M51.4 19.9h0M52.3 20.4h0M52.4 19.3h0M52.3 20.1h0M51.7 18.4h0M53.2 19.9h0M53 17.9h0M53.1 18.4h0M53.8 17.7h0M54.6 18.7h0M54.1 16.6h0M54.8 17.8h0M13 52.6h0M42.4 24.8h0M24.6 36.5h0M11.1 47.5h0M37 45.2h0M32.8 49.9h0M24.9 36h0M56.1 19h0M26.9 35.7h0M33.8 49.8h0M10.1 54.1h0M26.2 59.6h0M24.3 33.1h0M21.1 42.4h0M23.5 58.4h0M12.7 48.3h0M15.9 61.4h0M37.8 26.6h0M26.2 35.7h0M8.5 58.4h0M24.1 39.4h0M25.1 38.1h0M11.4 49h0M19.8 44h0M51.6 29.2h0M19.1 59.7h0M43.6 45.8h0M31.5 30h0M38.3 19h0M39.8 41.1h0" stroke="#000" stroke-width="1.9" stroke-linecap="round" fill="none"/>
</g>
<text x="192.7" y="390.5" font-size="6.45" text-anchor="middle" fill="#3457ad" stroke="#3a5dae" stroke-width=".22">0.981</text>
<g transform="translate(246.5 380.8)">
<path d="M6.7 63.9L7.2 63.1L7.8 62.4L8.4 61.6L9 60.8L9.5 60L10.1 59.2L10.7 58.4L11.3 57.6L11.9 56.8L12.5 56L13 55.3L13.6 54.5L14.2 53.7L14.8 52.9L15.4 52.1L16 51.4L16.6 50.6L17.2 49.8L17.8 49.1L18.4 48.3L19 47.6L19.6 46.8L20.3 46L20.9 45.3L21.5 44.6L22.2 43.9L22.8 43.1L23.5 42.4L24.1 41.7L24.8 41L25.5 40.3L26.1 39.6L26.9 39L27.7 38.4L28.4 37.8L29.2 37.2L30 36.6L30.7 36L31.5 35.4L32.3 34.8L33.1 34.2L33.9 33.7L34.7 33.1L35.6 32.6L36.4 32.1L37.2 31.5L38.1 31L38.9 30.4L39.6 29.8L40.4 29.2L41.1 28.6L41.9 28L42.7 27.4L43.4 26.8L44.2 26.1L44.9 25.5L45.7 24.9L46.4 24.2L47.1 23.6L47.8 22.9L48.5 22.3L49.3 21.6L50 21L50.7 20.3L51.4 19.7L52.1 19L52.8 18.4L53.5 17.7L54.3 17.1L55 16.4L55.7 15.7L56.4 15.1L57.1 14.4L57.8 13.8L58.5 13.1L59.2 12.4L59.9 11.8L60.6 11.1L60.9 11.4L60.2 12.1L59.5 12.8L58.9 13.5L58.2 14.2L57.5 14.9L56.9 15.6L56.2 16.3L55.6 17L54.9 17.7L54.2 18.4L53.6 19.1L52.9 19.8L52.3 20.6L51.6 21.3L51 22L50.3 22.7L49.7 23.4L49 24.1L48.4 24.9L47.7 25.6L47.1 26.3L46.4 27L45.8 27.8L45.2 28.5L44.6 29.3L44 30.1L43.4 30.8L42.8 31.6L42.1 32.3L41.5 33.1L41 33.9L40.4 34.7L39.9 35.6L39.4 36.4L38.8 37.2L38.3 38L37.7 38.9L37.2 39.7L36.6 40.5L36 41.2L35.4 42L34.8 42.8L34.2 43.5L33.6 44.3L33 45.1L32.4 45.8L31.7 46.5L31 47.1L30.2 47.8L29.5 48.5L28.8 49.1L28.1 49.8L27.4 50.4L26.7 51.1L25.9 51.7L25.2 52.3L24.4 52.9L23.6 53.5L22.9 54.1L22.1 54.7L21.4 55.4L20.6 56L19.8 56.6L19 57.1L18.3 57.7L17.5 58.3L16.7 58.9L15.9 59.5L15.1 60.1L14.4 60.7L13.6 61.3L12.8 61.8L12 62.4L11.2 63L10.4 63.6L9.6 64.1L8.8 64.7L8 65.3Z" fill="#000"/>
<path d="M39.5 34.8h0M11.8 56.6h0M28.8 36.6h0M17.2 46.7h0M35 33.2h0M20.3 55.4h0M16.6 60h0M32.8 46.2h0M11.2 58.1h0M7.9 63.3h0M24.6 41.8h0M18.3 46.9h0M20.6 56.1h0M20.9 57.8h0M15.2 50.5h0M21.5 45.8h0M28.4 37.3h0M29.3 37.8h0M12.4 61.3h0M33 33.9h0M22.3 44.1h0M31.1 50.4h0M36.9 42.9h0M9.6 59.4h0M34.1 56.9h0M46.2 23.3h0M14.8 54.1h0M30.3 37.5h0M8.4 60.9h0M37.7 38.1h0M15.4 48.3h0M14.1 60h0M22.2 42h0M21.5 45h0M21.7 45.6h0M37.7 39.1h0M25 51.6h0M35.1 41.1h0M23 41.9h0M18 57.6h0M33.6 34.7h0M19.9 45.3h0M18.6 48h0M19.9 46.9h0M31.6 47.1h0M19 58.3h0M24.6 53.6h0M43.9 28.6h0M30.6 47.9h0M32.8 46.5h0M43.7 27h0M21.7 44h0M28 39h0M28.3 38.3h0M27.3 38.9h0M37.5 37.6h0M36.1 43.6h0M34.2 34h0M43.9 29h0M31.9 48.8h0M14.7 53h0M22.6 53.7h0M24.5 41.1h0M35.2 40.7h0M20.8 44.1h0M25.1 51.3h0M40.2 37.1h0M33.6 54.8h0M19.2 47.8h0M22 43.4h0M30.2 36.3h0M17.7 58.7h0M23.9 42.2h0M10.6 60h0M33.9 43.6h0M35.2 46.2h0M33.6 34.4h0M33 46.6h0M28.3 38.5h0M24.4 41.9h0M15.4 60.2h0M32.8 43.8h0M21.2 46.4h0M21.5 38.1h0M34.9 42h0M34.5 33.3h0M24.1 41.5h0M32.4 45h0M28.8 38.7h0M31.3 36.4h0M15.9 52.7h0M25.2 52.3h0M19.9 45.6h0M26.4 39.9h0M11.9 57.2h0M26.3 50.5h0M35.3 45.2h0M47.1 24.5h0M39.6 44.4h0M17.9 58.7h0M39.6 34.5h0M41.8 32.1h0M27.5 33.4h0M34.3 43.5h0M28.7 48.2h0M19.3 46.7h0M8.4 64h0M24.6 52.7h0M35.2 32.8h0M15.8 52.4h0M10.7 62.4h0M30.1 46.7h0M14.4 53.2h0M33.9 43.8h0M13.5 51.8h0M39.9 36.7h0M29.4 47.5h0M30.3 56.2h0M10.1 62.8h0M25.3 41.8h0M38.6 36.1h0M27 38.7h0M45.3 28.6h0M32 34.3h0M44.8 29.8h0M43.5 29.6h0M50 21.7h0M20.4 40.8h0M40.5 30h0M34.8 41.6h0M36.1 40.7h0M36.7 38.8h0M32.1 45.5h0M30.1 47.7h0M49.6 22.5h0M43.3 31.5h0M15.7 50.9h0M18.8 48.3h0M22.5 41.2h0M42.6 31.2h0M25.8 50.9h0M47.6 24.7h0M45.9 26.8h0M47.9 24.7h0M39.8 30.9h0M20 42.6h0M25.6 39.2h0M23.3 43.4h0M21.6 55.1h0M29.3 49h0M33.7 34.9h0M38.5 31.7h0M51.4 19.2h0M8.8 62.4h0M33.4 43.8h0M21.2 45.7h0M32.3 35.8h0M12.6 56h0M11 62h0M30.3 37h0M10.4 51.9h0M17.6 57.1h0M23.1 53.9h0M21.2 44.9h0M37.8 46.5h0M25.4 39.2h0M43.7 27.6h0M55.7 16.1h0M50.6 22.2h0M43.5 30.6h0M34 33.7h0M42.5 30.3h0M39.5 39.6h0M38.1 29.8h0M44.3 28.8h0M49.7 22.4h0M54.5 18.1h0M55 16.7h0M57.3 15.3h0M53.8 18.2h0M52.7 18.9h0M53.4 19.1h0M45.3 25.5h0M54.8 17.4h0M52.5 19.6h0M54.7 18.8h0M50.2 20.6h0M39.4 34.8h0M46.9 25.4h0M39.7 30.8h0M45.7 25.5h0M38.9 31.1h0M54.2 18.2h0M51.5 20.4h0M54.8 17h0M56 15.3h0M50.6 18.8h0M48.7 24.2h0M55.1 15.6h0M41.9 32h0M38.7 27.5h0M50.8 21.7h0M54.1 17.3h0M45.6 26h0M47 26.1h0M46.8 26.4h0M43.4 29.7h0M46.6 23.6h0M47.1 25.3h0M42.7 32.6h0M41.8 28.4h0M46 24.5h0M56.4 15.3h0M49.9 21.5h0M44.2 27.1h0M43.7 27.3h0M48 24.4h0M43.6 29.7h0M54.2 17.3h0M44.8 26.4h0M48 23.9h0M36.6 38.9h0M45.4 28.9h0M43.2 30h0M46.8 25.4h0M44.5 28.1h0M43.6 29.5h0M51.2 19.6h0M54.4 17.2h0M51.1 22.5h0M52.7 17.5h0M45 24.9h0M33.2 34.5h0M34.9 31.5h0M44.9 27.6h0M49.2 23.9h0M49.5 22.5h0M47.1 24.8h0M51.1 21.1h0M7.3 64.6h0M6.7 64h0M7.6 63.5h0M7.8 63.7h0M10.6 62.4h0M11.8 58.1h0M40.9 32.4h0M42.2 28.3h0M43.2 27.9h0M43.3 28h0M44.8 28.1h0M44.9 26.8h0M45.3 25.9h0M46.5 25.8h0M46.5 25.7h0M47 24.9h0M47.1 24.9h0M47.6 24h0M47.3 23.8h0M48.6 23.7h0M48.3 23.4h0M48.9 22.7h0M49.1 22.8h0M49.7 22.1h0M49.5 21.9h0M50.3 21.3h0M50.4 21.4h0M51.5 21.1h0M51.2 20.8h0M51.9 20.1h0M51.8 20.1h0M52.4 19.3h0M52.7 19.6h0M53.3 18.9h0M53.3 18.9h0M53.8 18h0M53.9 18h0M54.6 17.4h0M54.7 17.5h0M55.2 16.6h0M55.3 16.7h0M56.1 16.1h0M55.9 15.9h0M56.6 15.3h0M56.7 15.3h0M57.3 14.6h0M57.4 14.8h0M58 13.9h0M58 13.9h0M58.7 13.3h0M58.6 13.2h0M59.3 12.5h0M59.4 12.7h0M60 11.9h0M60 11.9h0M60.7 11.1h0M60.8 11.2h0M61.4 10.5h0M61.4 10.5h0M62.1 9.8h0M62.1 9.9h0M62.9 9.2h0M62.8 9.2h0M63.5 8.5h0M63.5 8.5h0M64.1 7.8h0M64.2 7.9h0M64.9 7.1h0M64.8 7.1h0M65.5 6.4h0M65.5 6.4h0M66.2 5.7h0M66.2 5.8h0M7.5 63.8h0M7.9 64.3h0M7.8 63h0M8.9 63.8h0M8.3 62.4h0M10.8 65h0M8.5 61.8h0M10.3 63.4h0M9.2 60.4h0M11.4 62.9h0M8.9 59.3h0M11.5 62.2h0M10.1 60h0M12.6 62h0M10.9 59.3h0M12.8 61h0M10 56.9h0M13.8 60.9h0M10.8 57.7h0M14.9 60.8h0M12.1 57.1h0M14.5 59.7h0M12.7 56.5h0M15.3 59.9h0M12.6 56h0M15.8 58.6h0M12.2 53.8h0M17.4 58.9h0M14 55h0M17.2 58.2h0M13.8 53.9h0M18.5 58.1h0M14.4 53.1h0M18.5 57.1h0M14.6 52.6h0M19.3 57.4h0M16.1 52.5h0M20.2 56.9h0M15.6 51.3h0M20.8 56.1h0M16.2 50.6h0M21.4 55.7h0M17.1 50.6h0M21.6 54.6h0M17.9 49.5h0M21.6 54.2h0M18.1 49.6h0M23.2 53.7h0M18 48h0M24.2 54.2h0M18.5 47.6h0M24 53.1h0M19.7 47h0M24.3 52.3h0M20 46.4h0M25.1 52.2h0M19.9 45.7h0M26.2 51.6h0M21.4 45.3h0M26.9 51.3h0M21.8 45h0M27 50h0M21.8 44.5h0M27.2 49.6h0M22 43.5h0M28.7 49.6h0M22.5 42.9h0M30.8 50.5h0M23.1 42h0M30.3 48.8h0M24 41.6h0M30.1 48.1h0M24.3 41.5h0M31 47.7h0M25 40.1h0M31 46.8h0M26.4 40.5h0M31.4 45.6h0M26.1 39.9h0M32.7 45.9h0M27.1 39.3h0M32.9 45.6h0M27.6 39.1h0M33.6 45h0M27.7 37.5h0M33.8 43.9h0M28.8 38.3h0M34.7 43.7h0M29 37.3h0M35.1 43.1h0M29.1 36.5h0M35.5 42.8h0M31 36.7h0M35.6 41.9h0M31 35.6h0M36.4 40.6h0M30.7 34.6h0M36.7 40.8h0M32.2 35h0M37.4 39.4h0M32.6 33.9h0M37.2 38.4h0M33.8 33.6h0M40.1 40.1h0M33.8 33.4h0M38.4 37.6h0M35.2 33.3h0M38.2 36.7h0M34.9 32h0M39.5 36.6h0M36 31.8h0M40.4 35.8h0M36.6 31.2h0M40.7 35.2h0M38.1 32h0M40.6 33.8h0M37.9 30.8h0M41.3 33.8h0M38.7 30.2h0M42 33.2h0M39.4 29.6h0M42.3 32.4h0M40.3 29.4h0M42.5 31.9h0M40.3 28.2h0M43.3 31.3h0M41.8 28.6h0M43.3 30.2h0M42 28h0M43.7 29.7h0M43 27.5h0M44.5 29.4h0M42.9 27.1h0M44.6 28.5h0M44 26.6h0M46.5 29.5h0M44.1 25.6h0M45.9 28h0M45.5 26h0M46.2 26.9h0M45.5 25.2h0M47 26.5h0M46.7 24.7h0M47.9 25.8h0M46.2 23.3h0M47.8 25.1h0M47.4 23.6h0M49 24.9h0M47.8 23.4h0M49.5 24.5h0M48.8 23h0M49.3 23.5h0M49.6 22.2h0M50.4 22.8h0M49.4 21.5h0M50.8 22.8h0M49.9 20.4h0M51.4 21.9h0M50.7 20.7h0M51.5 20.7h0M50.9 20h0M52.6 20.7h0M51.8 19.3h0M52.3 19.3h0M52.3 18.6h0M52.7 19.3h0M53.5 18.7h0M53.8 18.6h0M53.9 17.7h0M54.3 18.4h0M20.5 43.3h0M26.7 27.8h0M34.5 47.3h0M30.6 28h0M34.5 29.9h0M32.7 49h0M33 50.8h0M23.5 60.3h0M9.3 58.1h0M26.7 31.4h0M31.6 33h0M27.2 36.5h0M26.4 58.6h0M36.1 30.2h0M19.1 42.4h0M11.8 54.7h0M22 35.8h0M26.7 37h0M19.6 43.4h0M20.2 33.9h0M14.9 45.9h0M33.4 32.5h0M22 39.8h0M23.3 39.9h0M36.6 49.8h0M33.9 48.6h0M47.5 29.7h0M46.1 29.5h0M23.7 34.9h0M23.3 58.5h0" stroke="#000" stroke-width="1.9" stroke-linecap="round" fill="none"/>
</g>
<text x="268.4" y="390.5" font-size="6.45" text-anchor="middle" fill="#3457ad" stroke="#3a5dae" stroke-width=".22">0.983</text>
<g transform="translate(19.5 456.2)">
<path d="M7 64.3L7.6 63.5L8.2 62.7L8.8 62L9.4 61.2L10 60.4L10.6 59.7L11.2 58.9L11.8 58.1L12.3 57.2L12.8 56.4L13.4 55.6L13.9 54.8L14.5 53.9L15 53.1L15.6 52.3L16.1 51.5L16.7 50.7L17.3 49.9L17.8 49.1L18.4 48.3L19 47.5L19.5 46.7L20.1 45.9L20.8 45.2L21.4 44.4L22 43.7L22.7 43L23.3 42.3L24 41.5L24.6 40.8L25.3 40.1L26.1 39.5L26.8 38.9L27.6 38.3L28.4 37.7L29.2 37.1L29.9 36.5L30.7 35.9L31.5 35.4L32.3 34.8L33.2 34.3L34 33.8L34.9 33.3L35.7 32.7L36.5 32.2L37.4 31.7L38.2 31.1L39 30.5L39.7 29.9L40.5 29.3L41.2 28.7L42 28.1L42.8 27.5L43.5 26.8L44.3 26.2L45 25.6L45.7 24.9L46.4 24.3L47.1 23.6L47.9 23L48.6 22.3L49.3 21.7L50 21L50.7 20.4L51.4 19.7L52.2 19.1L52.9 18.4L53.6 17.7L54.3 17.1L55 16.4L55.7 15.8L56.4 15.1L57.1 14.4L57.8 13.8L58.5 13.1L59.2 12.4L59.9 11.8L60.6 11.1L60.9 11.4L60.2 12L59.5 12.7L58.9 13.4L58.2 14.1L57.5 14.8L56.9 15.6L56.2 16.3L55.5 17L54.9 17.7L54.2 18.4L53.6 19.1L52.9 19.8L52.2 20.5L51.6 21.2L50.9 21.9L50.3 22.7L49.6 23.4L49 24.1L48.3 24.8L47.7 25.5L47 26.3L46.4 27L45.7 27.7L45.1 28.5L44.5 29.2L43.9 30L43.3 30.7L42.7 31.5L42.1 32.2L41.4 33L40.8 33.8L40.3 34.6L39.8 35.4L39.2 36.3L38.7 37.1L38.2 37.9L37.6 38.8L37.1 39.6L36.6 40.5L36 41.3L35.4 42L34.8 42.8L34.2 43.6L33.6 44.3L33 45.1L32.4 45.9L31.8 46.7L31.1 47.3L30.4 48L29.7 48.6L29 49.3L28.2 49.9L27.5 50.6L26.8 51.2L26.1 51.8L25.3 52.4L24.5 53L23.7 53.6L22.9 54.1L22.1 54.7L21.3 55.3L20.5 55.8L19.7 56.4L18.8 56.9L18 57.5L17.2 58L16.4 58.6L15.5 59.1L14.7 59.7L13.9 60.2L13 60.7L12.3 61.3L11.5 61.9L10.7 62.5L10 63.1L9.2 63.7L8.4 64.3L7.7 64.9Z" fill="#000"/>
<path d="M21.2 54.6h0M28 38.3h0M39.4 31h0M14.4 55.5h0M19.2 47.9h0M32.6 33.5h0M44.1 26.4h0M45.5 28h0M37.8 32.3h0M28 38.9h0M30.5 47h0M27.1 52.8h0M26.3 40.1h0M14.4 55.4h0M13.1 64.2h0M40.2 33.6h0M13.1 57.3h0M32.6 50.2h0M48.6 25.9h0M9.6 62.3h0M37 31.9h0M12.3 60.8h0M43.4 30.2h0M9.1 62.1h0M27.8 50.8h0M41.3 33.4h0M10.4 61.1h0M39.5 29.9h0M36.5 39.6h0M29.4 50.9h0M8.7 63.6h0M12.7 48.2h0M18.2 49.7h0M22.9 43.2h0M30.1 37.4h0M16 52.2h0M26.4 39.3h0M11.6 60.9h0M33.4 47.4h0M24.9 51.5h0M12.1 60.3h0M17.7 48.8h0M23.5 52.8h0M13.7 60.1h0M16.5 59.2h0M7.8 63.9h0M33.3 32.5h0M37.3 37.7h0M20 56.3h0M23.4 41.6h0M15 54.6h0M10.2 59.9h0M11.2 61.9h0M41.1 32.3h0M24.3 52h0M15.2 53.3h0M30.2 47.5h0M20.9 54.7h0M18.3 49.5h0M40.1 33.4h0M40.1 33.1h0M19.4 47.1h0M45.9 25h0M30.2 35.2h0M39.4 39h0M40.7 32.7h0M16.3 58.8h0M15.6 51.3h0M42.9 27.8h0M14.2 59h0M14.2 55.8h0M20.1 47.5h0M17.8 57.2h0M12.8 57.2h0M39.1 35.7h0M36.7 32.2h0M14.1 54.6h0M13.8 53h0M41.6 31.8h0M26.1 51.4h0M45.8 26h0M10.8 59.8h0M37.2 32.7h0M38.1 36.8h0M33.8 34.4h0M26.8 51.9h0M30.8 48.1h0M17.7 50.5h0M39.8 31h0M10.5 60.7h0M14.5 55.1h0M23.9 53h0M15.1 59.6h0M16.4 50.7h0M17.8 50.1h0M14.1 54.5h0M47.1 25.9h0M28.6 37.4h0M40.9 32.3h0M23.2 42.4h0M9.6 63h0M15.2 45.9h0M20.9 45.3h0M8 63h0M10.5 58.6h0M45.3 25.1h0M27.8 49.1h0M15.5 58.1h0M32.4 44.7h0M17.1 60.2h0M26.3 39.2h0M20.6 40.4h0M41.8 32.8h0M39.9 33.7h0M9.5 62.1h0M9.8 61.6h0M12.8 57.8h0M34.6 44.3h0M17.3 58.9h0M9.1 64h0M12.6 60.7h0M45 25.3h0M17.4 59.9h0M8.6 63.2h0M27.5 50.1h0M36.2 39.8h0M29.1 50.3h0M26.8 55.3h0M27.7 50.3h0M33.3 45.8h0M14.7 53.3h0M41.6 33.4h0M33.8 42.9h0M39.6 31.2h0M23.7 39.8h0M23.1 37.1h0M36.4 31.7h0M14.9 50.1h0M36.8 39h0M39.3 30.4h0M27.4 39.1h0M10.7 60h0M11.7 58.9h0M19.8 46.4h0M20.5 55.3h0M8.4 61.3h0M19.3 44.4h0M20.2 46.5h0M27.9 38.3h0M28.1 38.1h0M16.1 53.1h0M30.8 46.9h0M21.6 45.1h0M35 33.9h0M42.8 32.2h0M33.2 44.3h0M8.7 64.3h0M6.8 64h0M49.3 23.5h0M33.4 44.9h0M36.9 32.3h0M14.1 59h0M20.5 56.4h0M43.1 28.3h0M10.1 61.6h0M34.8 41.7h0M25.6 41.1h0M25.8 37.5h0M42.2 26.8h0M15.7 53.7h0M44 26.8h0M23.2 55h0M31.2 46.4h0M52.5 21.8h0M22.7 54.4h0M34.4 42h0M35.2 33.9h0M47 25.8h0M10.7 60.6h0M24.5 40.4h0M23.8 52.7h0M25.4 52h0M15 47.5h0M55.7 16.5h0M46.1 24.1h0M45.1 26.1h0M45.8 25.5h0M39.3 30.5h0M47.5 24.1h0M56.4 15.6h0M56.7 15.3h0M50.9 19.9h0M42 35.3h0M38.2 31.3h0M45.9 26.2h0M50.9 22.5h0M45.2 26.5h0M48.4 23.1h0M42.3 28.6h0M40.2 29.4h0M39.6 38.6h0M49.9 22.4h0M45.9 26h0M56 16.6h0M53 19.3h0M44.6 27.2h0M47.2 23h0M45.4 27.5h0M48.5 24.8h0M38.9 35.6h0M49.1 22.5h0M54.9 17.3h0M51 20.1h0M47.4 25.3h0M39 37.4h0M48.4 24.2h0M47.9 24.2h0M49.3 22.3h0M45.4 26.4h0M48.4 22.4h0M38.4 31.9h0M45.8 27h0M53.4 19.5h0M40.4 33h0M50.2 22.5h0M45.7 28.2h0M55.3 16.1h0M34.9 33.7h0M48.1 22.7h0M52.9 19.2h0M48.3 24.3h0M42.8 28h0M49.5 21.9h0M52.5 19.3h0M45.5 25.3h0M44 30.4h0M44.6 26.9h0M40.6 35.9h0M40.7 29.8h0M46.2 24.3h0M50.5 23.2h0M55.8 15.2h0M42.2 32.4h0M47.3 24.3h0M49.1 22.6h0M49 24h0M44.1 27.5h0M33.7 33.9h0M54.4 19.2h0M50.5 21.9h0M39.7 40.7h0M44.6 27.1h0M38.3 32h0M46.3 26.2h0M42.9 30h0M47.4 25.3h0M37.3 37.5h0M38.3 40.5h0M46.6 25h0M48.5 23.7h0M48.2 22.7h0M46.4 27.3h0M42.6 30.5h0M7.3 64.6h0M7.1 64.4h0M7.6 63.5h0M8.2 64.1h0M9 63.5h0M8.3 62.9h0M9.5 62.6h0M9.1 62.2h0M10.2 62h0M10.2 62h0M10.6 61h0M11.1 60.2h0M10.6 59.7h0M12.6 60.3h0M12.9 57.9h0M40.8 32.4h0M41.1 29.9h0M41.7 29.2h0M43.4 29.5h0M44 27.4h0M44 27.3h0M45.1 27.1h0M44.9 26.9h0M45.3 25.9h0M45.5 26.1h0M46.6 25.8h0M46.5 25.8h0M47.1 24.9h0M47.3 25.2h0M47.4 23.9h0M47.8 24.3h0M48.2 23.3h0M48.3 23.4h0M49.2 23h0M48.8 22.5h0M49.9 22.3h0M49.8 22.2h0M50.4 21.4h0M50.6 21.6h0M51.1 20.7h0M50.8 20.4h0M51.5 19.8h0M51.8 20h0M52.5 19.4h0M52.4 19.3h0M53.2 18.7h0M53.1 18.6h0M53.9 18.1h0M54 18.2h0M54.7 17.5h0M54.4 17.2h0M55.4 16.8h0M55.4 16.8h0M55.8 15.8h0M55.9 16h0M56.6 15.3h0M56.7 15.3h0M57.4 14.7h0M57.5 14.8h0M58 13.9h0M58.1 14h0M58.7 13.3h0M58.7 13.3h0M59.4 12.6h0M59.3 12.5h0M60 11.9h0M60.2 12h0M60.7 11.2h0M60.7 11.2h0M61.5 10.6h0M61.4 10.5h0M62.1 9.9h0M62.1 9.9h0M62.8 9.1h0M62.8 9.2h0M63.4 8.4h0M63.4 8.4h0M64.1 7.7h0M64.2 7.8h0M64.8 7.1h0M64.8 7h0M65.5 6.4h0M65.4 6.3h0M66.3 5.8h0M66.2 5.7h0M7.1 63.5h0M7.8 64.1h0M7.5 63.1h0M8.9 64.4h0M7.7 62.1h0M9.3 63.6h0M8.9 62h0M9.8 62.7h0M9 61.1h0M10.4 61.8h0M10 60.6h0M11.5 62.6h0M9.9 59.1h0M11.4 61.5h0M11.3 59.9h0M12.2 61h0M11.3 59h0M13.7 60.8h0M12 58.7h0M14.4 61.3h0M12.3 57.4h0M15.1 60h0M12.8 57.3h0M15.1 59.4h0M13.1 56.3h0M16.3 59.6h0M12.9 55.1h0M16.8 58.4h0M13.1 53.9h0M17.6 58.2h0M13.7 53.4h0M17.9 58.1h0M14.8 53.7h0M17.7 56.8h0M14.7 52.2h0M19.1 56.2h0M15.7 52.4h0M19.6 56h0M15.9 51.7h0M20.6 55.5h0M17 51h0M21.3 55.5h0M17.3 50.3h0M22 55.2h0M17.5 49.3h0M23.3 55.1h0M18.6 49.5h0M23.6 54.8h0M17.9 48.2h0M23.3 52.9h0M19 47.4h0M24.6 53h0M18.7 46.3h0M24.9 52.3h0M20.5 46.6h0M26.9 53h0M20.1 45.3h0M26.3 51.4h0M21.3 45.6h0M27.3 51.4h0M20.9 43.7h0M28.7 51.9h0M20.7 43.3h0M27.9 49.6h0M22.3 43.6h0M28.2 49.3h0M22.2 42.4h0M28.8 49.3h0M23.6 42.3h0M29.4 47.9h0M24.1 41.5h0M30.8 48.2h0M24.4 41.5h0M30.4 47.3h0M25.1 40.2h0M32.1 48h0M25.3 39.7h0M32.1 46.8h0M25.3 39h0M33.3 47h0M26.7 38.8h0M32.7 44.7h0M27.6 38.5h0M33.1 44.8h0M28.2 38.8h0M33.7 44.1h0M27.9 36.7h0M34.4 43.1h0M29.4 37.4h0M36 43.8h0M29.9 36.5h0M34.7 41.9h0M30.1 35.9h0M35.7 41.5h0M31 35.4h0M36.3 41.3h0M31.6 35.4h0M39.1 42.7h0M32 34.8h0M36.6 39.2h0M32.8 34.2h0M37.9 39h0M33.8 34.4h0M38.5 38.6h0M33.1 32.8h0M37.6 37.3h0M35.7 33.3h0M38.2 36.4h0M36 32.7h0M39 36.3h0M36.9 32.5h0M40.5 36.2h0M37.8 32.3h0M39.9 34.3h0M38.3 31.9h0M41.2 34.5h0M38.2 31.3h0M41 33.9h0M39.1 30.7h0M41.5 33.1h0M40.1 30.2h0M42 32.2h0M39.9 29.5h0M42.6 32h0M41.4 29.3h0M43.1 31h0M41.7 28.4h0M43.1 30.2h0M41.8 28.3h0M43.5 29.4h0M43.4 27.9h0M44.4 29.8h0M43.1 26.7h0M45.1 28.7h0M43.4 26.7h0M45.6 28.5h0M44.9 26.1h0M45.1 27.4h0M44.7 25.8h0M45.9 26.8h0M46.2 25.4h0M46.2 26.1h0M46.2 25h0M47.7 25.7h0M47.1 24.8h0M48.2 25.2h0M47.6 24h0M48.5 24.4h0M47.4 22.2h0M48.7 24.3h0M48.9 23h0M49.5 23.7h0M49.4 22.4h0M50.3 22.9h0M49.2 21.2h0M50.6 22.3h0M50 20.4h0M51.4 21.8h0M51.3 20.7h0M51.4 20.9h0M51.4 19.7h0M52.2 20.9h0M51.7 19.6h0M52.8 20.3h0M52.3 18.8h0M53.3 19.3h0M18.2 44.7h0M31.3 32.4h0M30.4 54.1h0M29.2 59.9h0M33.5 27.6h0M20 38.7h0M19.3 34.5h0M49.4 30h0M33.2 31.7h0M55.1 19.7h0M18.6 43.8h0M31 32.4h0M31 31.6h0M36.6 48.9h0M18.5 44.1h0M11.6 54h0M50 19.3h0M6.7 62.2h0M10.5 53.3h0M39.9 26.2h0M27.4 34.3h0M34.4 28.6h0M28.2 35.8h0M24.4 38.7h0M16.4 43.5h0M9.9 53.6h0M42.8 37.3h0M28.9 28.8h0M41.8 36.3h0M17.9 45h0" stroke="#000" stroke-width="1.9" stroke-linecap="round" fill="none"/>
</g>
<text x="41.4" y="465.9" font-size="6.45" text-anchor="middle" fill="#3457ad" stroke="#3a5dae" stroke-width=".22">0.984</text>
<g transform="translate(95.4 456.2)">
<path d="M6.7 63.9L7.2 63.1L7.8 62.4L8.4 61.6L9 60.8L9.5 60L10.1 59.2L10.7 58.4L11.3 57.6L11.9 56.8L12.5 56L13 55.3L13.6 54.5L14.2 53.7L14.8 52.9L15.4 52.1L16 51.4L16.6 50.6L17.2 49.8L17.8 49.1L18.4 48.3L19 47.6L19.6 46.8L20.3 46L20.9 45.3L21.5 44.6L22.2 43.9L22.8 43.1L23.5 42.4L24.1 41.7L24.8 41L25.5 40.3L26.1 39.6L26.9 39L27.7 38.4L28.4 37.8L29.2 37.2L30 36.6L30.7 36L31.5 35.4L32.3 34.8L33.1 34.2L33.9 33.7L34.7 33.1L35.6 32.6L36.4 32.1L37.2 31.5L38.1 31L38.9 30.4L39.6 29.8L40.4 29.2L41.1 28.6L41.9 28L42.7 27.4L43.4 26.8L44.2 26.1L44.9 25.5L45.7 24.9L46.4 24.2L47.1 23.6L47.8 22.9L48.5 22.3L49.3 21.6L50 21L50.7 20.3L51.4 19.7L52.1 19L52.8 18.4L53.5 17.7L54.3 17.1L55 16.4L55.7 15.7L56.4 15.1L57.1 14.4L57.8 13.8L58.5 13.1L59.2 12.4L59.9 11.8L60.6 11.1L60.9 11.4L60.2 12.1L59.5 12.8L58.9 13.5L58.2 14.2L57.5 14.9L56.9 15.6L56.2 16.3L55.6 17L54.9 17.7L54.2 18.4L53.6 19.1L52.9 19.8L52.3 20.6L51.6 21.3L51 22L50.3 22.7L49.7 23.4L49 24.1L48.4 24.9L47.7 25.6L47.1 26.3L46.4 27L45.8 27.8L45.2 28.5L44.6 29.3L44 30.1L43.4 30.8L42.8 31.6L42.1 32.3L41.5 33.1L41 33.9L40.4 34.7L39.9 35.6L39.4 36.4L38.8 37.2L38.3 38L37.7 38.9L37.2 39.7L36.6 40.5L36 41.2L35.4 42L34.8 42.8L34.2 43.5L33.6 44.3L33 45.1L32.4 45.8L31.7 46.5L31 47.1L30.2 47.8L29.5 48.5L28.8 49.1L28.1 49.8L27.4 50.4L26.7 51.1L25.9 51.7L25.2 52.3L24.4 52.9L23.6 53.5L22.9 54.1L22.1 54.7L21.4 55.4L20.6 56L19.8 56.6L19 57.1L18.3 57.7L17.5 58.3L16.7 58.9L15.9 59.5L15.1 60.1L14.4 60.7L13.6 61.3L12.8 61.8L12 62.4L11.2 63L10.4 63.6L9.6 64.1L8.8 64.7L8 65.3Z" fill="#000"/>
<path d="M33.5 44.6h0M28.1 50h0M35.6 33.4h0M26.9 40.2h0M33.5 43.9h0M23.3 43.7h0M31.8 47.9h0M27.1 49.9h0M29.5 50h0M21.3 45.8h0M8.9 62h0M38.4 30.4h0M38.9 35.7h0M26.7 39.9h0M8.1 64.2h0M14.9 54.1h0M41.9 32.2h0M20.2 55.6h0M11.1 62.2h0M45.8 26.4h0M27 39.2h0M45.4 25.8h0M32.5 47.1h0M30.9 46.2h0M27.8 37.1h0M46.4 27.3h0M46.9 25.3h0M15.1 52.2h0M13.6 52h0M20.4 58.3h0M19 48.1h0M46.7 25.7h0M48.5 22h0M25.8 53.1h0M27.8 39h0M43.3 27.1h0M29.3 48.2h0M43.1 29.7h0M36.5 42.5h0M32.3 47.2h0M48.2 24.8h0M12 57.4h0M18.7 57.8h0M9.2 63.6h0M28.5 37.4h0M46.8 25h0M45 26.2h0M34 34.1h0M34 43.2h0M24.1 41.7h0M20.9 54.9h0M27.4 39.4h0M31.7 48.2h0M24.6 35.5h0M46.4 25.1h0M22.6 39.3h0M17.1 50.7h0M24.3 41.1h0M32.6 44.1h0M19.9 47.5h0M8.3 62.1h0M27.5 39.4h0M33.3 33.9h0M23.4 42.1h0M16.1 50.4h0M42 29h0M17.6 38.6h0M28.6 37.9h0M41.5 28.6h0M16.4 52.3h0M40.2 29.8h0M12.3 56.9h0M20.3 47.3h0M30.1 55.7h0M41.1 37.6h0M47.3 26.2h0M11.9 54.9h0M30.4 37.2h0M29.1 48.1h0M8.4 63.1h0M13.8 52.4h0M38.8 30.7h0M31 48h0M12.9 53.8h0M18.1 57.2h0M47 21.3h0M27.9 38.6h0M39.5 30.2h0M45.2 28h0M10.6 58.3h0M35.9 32.5h0M9.5 61.4h0M38.5 37.6h0M41 34.1h0M8.6 61.9h0M21.6 54.2h0M19.6 48.2h0M38.7 37.3h0M8.7 62.1h0M10 60.6h0M39.1 36.5h0M14.5 54.7h0M42.5 31h0M32 35.1h0M8 63.4h0M17.3 48.4h0M34.5 44.2h0M16.5 52h0M38.2 42.2h0M41.3 28.7h0M13.1 54.9h0M18.3 56.7h0M19.8 46.9h0M9.5 63.1h0M18.7 47.6h0M40 34h0M35.5 30.8h0M21.9 38.8h0M26.5 40.5h0M33.5 34.9h0M11.6 58.5h0M24.1 52.2h0M27.8 38.2h0M39.7 35.3h0M21.7 55.5h0M8.8 61.2h0M16.7 51.9h0M31.3 34.1h0M32.6 46.7h0M22 44.8h0M24.3 42.6h0M36.3 44.5h0M25.3 39.9h0M13.9 55.4h0M41.2 32.3h0M19.4 56.7h0M7.8 61.7h0M34.5 42h0M41.5 33.6h0M22.8 42.9h0M19.1 58.3h0M9.6 58.1h0M29.7 37.6h0M30 36.3h0M52.6 18.7h0M17.2 57.6h0M35.1 32.7h0M26.6 37.2h0M31.3 36.5h0M13.7 55.5h0M22 54.4h0M18.7 47.1h0M27.2 39.9h0M36.1 39.7h0M34 44.5h0M37 39.3h0M26.8 53h0M36.1 33h0M20.4 56.1h0M36.8 39.1h0M54.8 17h0M46.8 24.8h0M43.7 29.1h0M56.1 15.4h0M50.9 20.3h0M45.8 27.4h0M52.9 19.3h0M49.8 22.4h0M46.2 26h0M43 28.1h0M54.6 17h0M51.2 21.1h0M44.3 26.3h0M51.6 20.7h0M39.8 30.6h0M52.4 20.7h0M53.2 18.9h0M53.9 17.9h0M53.9 18.7h0M56 16.1h0M57.1 14.8h0M45.2 28.3h0M38.7 35.9h0M42.3 30.6h0M49.4 23.1h0M42.6 27.9h0M45 27.6h0M32.2 32.2h0M52.9 18.8h0M53.8 17.9h0M48 23.8h0M33.8 34.2h0M48.2 23.9h0M51.5 20.7h0M57.1 15.2h0M36.2 29.2h0M45 26.1h0M31.6 32.7h0M56 15.5h0M43.8 27.1h0M53 18.8h0M53.1 20.3h0M46.4 25.5h0M45.5 26.9h0M47.2 26.1h0M57.2 15.2h0M40.2 34.6h0M41.2 29.5h0M53.3 19.2h0M35.5 33h0M44.1 28.9h0M34.7 34.1h0M49 23.1h0M45.8 25.3h0M41.9 28.9h0M50.6 20h0M36.8 32.3h0M42.3 31.2h0M50.1 23.3h0M55.6 16.2h0M35.8 33.3h0M47.8 24.7h0M52.1 19.5h0M54.1 18h0M46 27.6h0M43.8 27.2h0M51.9 19.6h0M56.8 15.9h0M40.4 30.3h0M46.4 25.7h0M36.1 32.8h0M47.1 25.3h0M37.3 30.9h0M49.2 22.9h0M53.3 18.3h0M56.4 15.9h0M54.5 16.6h0M56.7 14.9h0M7.5 64.8h0M8 65.3h0M7.9 63.8h0M9.2 63.7h0M9 63.5h0M41.7 31.9h0M42.5 28.6h0M44 28.7h0M43.9 27.2h0M45.9 26.5h0M46.9 26.1h0M46.6 25.8h0M47.1 24.9h0M46.8 24.6h0M47.8 24.3h0M47.9 24.4h0M48.4 23.5h0M48.3 23.5h0M49 22.8h0M49.1 22.9h0M49.4 21.8h0M49.8 22.2h0M50.3 21.3h0M50.4 21.5h0M51.1 20.7h0M51.2 20.9h0M51.9 20.2h0M51.8 20h0M52.5 19.4h0M52.4 19.3h0M53.1 18.6h0M53.3 18.8h0M53.8 18h0M54.1 18.3h0M54.5 17.3h0M54.8 17.6h0M55.3 16.7h0M55.1 16.6h0M55.9 16h0M55.9 16h0M56.6 15.3h0M56.6 15.3h0M57.3 14.6h0M57.3 14.6h0M58 14h0M58 14h0M58.6 13.2h0M58.7 13.3h0M59.4 12.6h0M59.4 12.6h0M60.2 12h0M60.1 11.9h0M60.7 11.2h0M60.7 11.2h0M61.4 10.5h0M61.5 10.6h0M62.2 9.9h0M62.2 9.9h0M62.7 9h0M62.8 9.2h0M63.4 8.4h0M63.5 8.5h0M64.1 7.8h0M64.1 7.8h0M64.9 7.2h0M64.9 7.1h0M65.6 6.5h0M65.5 6.4h0M66.3 5.8h0M66.2 5.8h0M6.8 63.4h0M8.7 64.7h0M7.8 62.9h0M8.9 64.4h0M7 61.1h0M10.1 64.4h0M8.5 61.8h0M10.8 63.8h0M9.3 60.7h0M10.9 63.2h0M9.3 59.6h0M12 63.1h0M10.3 59.7h0M12.6 62.6h0M10.4 59.3h0M13 61.8h0M10.5 57.5h0M13.7 61.7h0M11.2 57h0M14.6 61h0M12.4 57.3h0M15.4 60.3h0M12.4 56.5h0M17.2 61.3h0M12.7 55.5h0M16.5 59.2h0M13.2 54.8h0M17.4 59.6h0M14 54.7h0M17.5 58h0M13.3 53.5h0M18.3 58.5h0M14.7 52.9h0M18.5 57.6h0M13.4 50.7h0M20.9 58.4h0M14.9 51.6h0M19.4 56.3h0M16.2 51.2h0M20.3 55.6h0M15.5 50h0M21.5 56.2h0M17.7 50.6h0M22.2 54.9h0M17.5 49.2h0M22 53.9h0M17.4 48.7h0M22.7 53.3h0M18.3 48.4h0M23.7 53.9h0M19.3 47.7h0M24 52.9h0M19.4 47.5h0M25.1 52.9h0M19.8 46h0M25.8 52.2h0M18.3 43.4h0M25.6 51.3h0M21 45.5h0M27.3 51.4h0M18.2 42.1h0M28.2 51.6h0M21.7 44.4h0M27.4 50h0M22.8 44h0M28 49.5h0M23.1 42.6h0M28.4 48.8h0M23.6 42.3h0M28.9 48.1h0M24.4 42.1h0M30 47.5h0M25 41.4h0M30.5 47.3h0M24.5 39.8h0M30.6 46.8h0M25.7 40.5h0M31.6 46.2h0M25.6 39.3h0M32.2 46.1h0M27 39.1h0M32.5 45.3h0M26.2 37.9h0M32.5 44.3h0M27.8 38.1h0M34 44h0M28.7 37.8h0M34.4 43.3h0M28.6 37.1h0M35 42.5h0M29.1 36.4h0M35.6 42.1h0M30.4 36.1h0M35.8 42h0M31.3 35.4h0M36.2 41.5h0M32.2 35.2h0M37.1 40.6h0M32.2 35.2h0M38.1 40.8h0M33 34.8h0M37.6 39.4h0M33.6 33.6h0M37.5 38.1h0M34.4 33.4h0M38.4 37.5h0M33.8 31.7h0M39 37.3h0M36 33.3h0M39 35.8h0M36.1 31.6h0M39.5 35.6h0M36.6 31.3h0M40.1 35.4h0M37.8 31.9h0M41.1 34.4h0M37.5 29.7h0M41.2 33.4h0M38.9 30.5h0M41.8 33.6h0M38.5 29.5h0M41.2 32.2h0M40.3 29.4h0M42.3 31.1h0M40.4 29.1h0M42.8 31.5h0M41.7 29.3h0M43.3 30.9h0M41.9 27.8h0M43.3 29.5h0M42.6 27.7h0M44.2 29.3h0M43.3 27.7h0M44.7 28.5h0M43.8 27h0M45.8 28.2h0M44.5 26.5h0M46.2 27.8h0M44.5 25.6h0M46.1 27.2h0M45 24.9h0M46.3 26h0M45.7 24.7h0M47.7 26.2h0M47.5 24.4h0M47.4 25h0M47.4 23.2h0M48.4 24.2h0M48.1 23h0M49 24.5h0M49 22.6h0M49.5 23h0M48.9 21.8h0M49.6 22.6h0M50.2 21.9h0M50.2 22.5h0M50.4 21.1h0M51 21.9h0M50.9 20.8h0M52 21.5h0M51.5 20.5h0M51.6 20.2h0M52 19.1h0M52.3 19.3h0M52.4 18.2h0M52.8 19.6h0M53.2 18h0M53.2 18.4h0M53.6 18.2h0M54 18.5h0M30.5 51h0M17.2 43.2h0M12.1 52.6h0M13.8 47.5h0M17.3 60.7h0M47 32.4h0M48.3 44.6h0M33.4 46.9h0M28.3 31.2h0M15.5 44.3h0M21.8 37.6h0M21.8 60.8h0M26.7 57.8h0M45.7 34h0M24.2 38h0M27.8 52.5h0M26.4 33.6h0M54.9 20.2h0M40.1 41.2h0M21.6 40h0M23.3 39.8h0M50.3 26.3h0M18.2 42.1h0M32.4 30.3h0M36.4 53.8h0M19.7 28.5h0M15.4 48h0M12.4 40.9h0M39.4 28.2h0M18.3 39.7h0" stroke="#000" stroke-width="1.9" stroke-linecap="round" fill="none"/>
</g>
<text x="117.3" y="465.9" font-size="6.45" text-anchor="middle" fill="#3457ad" stroke="#3a5dae" stroke-width=".22">0.981</text>
<g transform="translate(246.5 456.2)">
<path d="M6.7 63.8L7.3 63L7.9 62.2L8.4 61.4L9 60.6L9.6 59.7L10.2 58.9L10.8 58.1L11.4 57.3L11.9 56.5L12.5 55.7L13.1 54.9L13.7 54.1L14.3 53.3L14.9 52.5L15.5 51.7L16.1 50.9L16.7 50.2L17.3 49.4L17.9 48.7L18.6 47.9L19.2 47.1L19.8 46.4L20.4 45.6L21 44.9L21.7 44.2L22.3 43.5L23 42.7L23.6 42L24.3 41.3L25 40.6L25.6 39.9L26.3 39.2L27 38.6L27.8 38L28.6 37.4L29.3 36.8L30.1 36.2L30.9 35.6L31.6 34.9L32.4 34.3L33.2 33.8L34 33.3L34.8 32.7L35.7 32.2L36.5 31.7L37.3 31.2L38.1 30.7L38.9 30.2L39.7 29.6L40.5 29L41.2 28.4L42 27.8L42.7 27.2L43.5 26.6L44.2 26L45 25.4L45.7 24.8L46.4 24.1L47.1 23.5L47.8 22.8L48.6 22.2L49.3 21.5L50 20.9L50.7 20.3L51.4 19.6L52.1 19L52.8 18.3L53.6 17.7L54.3 17L55 16.4L55.7 15.7L56.4 15.1L57.1 14.4L57.8 13.7L58.5 13.1L59.2 12.4L59.9 11.7L60.6 11.1L60.9 11.3L60.2 12L59.5 12.7L58.9 13.4L58.2 14.1L57.5 14.8L56.9 15.5L56.2 16.2L55.6 16.9L54.9 17.6L54.2 18.3L53.6 19L52.9 19.7L52.3 20.4L51.6 21.1L50.9 21.9L50.3 22.6L49.6 23.3L49 24L48.3 24.7L47.7 25.4L47 26.1L46.4 26.8L45.8 27.6L45.2 28.3L44.5 29L43.9 29.8L43.3 30.5L42.7 31.2L42.1 32L41.5 32.7L40.9 33.5L40.4 34.3L39.8 35L39.3 35.8L38.7 36.6L38.2 37.4L37.6 38.2L37.1 39L36.5 39.8L35.9 40.6L35.3 41.3L34.6 42.1L34 42.8L33.4 43.6L32.8 44.4L32.2 45.1L31.5 45.8L30.8 46.4L30.1 47.1L29.4 47.8L28.7 48.4L28 49.1L27.2 49.7L26.5 50.4L25.8 51L25 51.6L24.3 52.2L23.5 52.8L22.8 53.5L22 54.1L21.2 54.7L20.5 55.3L19.7 55.9L18.9 56.5L18.2 57.1L17.4 57.8L16.6 58.4L15.8 59L15.1 59.6L14.3 60.2L13.5 60.8L12.7 61.4L11.9 62.1L11.1 62.7L10.3 63.3L9.6 63.9L8.8 64.5L8 65.1Z" fill="#000"/>
<path d="M39.4 30.4h0M20.7 46.3h0M44.3 27.2h0M22.4 43.8h0M16.7 51.5h0M19.8 55.5h0M12.5 64h0M35.2 31.3h0M41.2 32.7h0M34.7 34h0M17.3 50h0M34.4 47.3h0M28.9 30.5h0M16.3 58.1h0M29.4 47.1h0M15.6 51.3h0M8.9 61.9h0M41.2 31.6h0M43.7 27h0M42.8 27.8h0M34.1 33.8h0M7.5 62.5h0M35.9 33.2h0M7.6 63.6h0M41.7 31.1h0M13.2 55.2h0M38.2 36.2h0M39 34.9h0M16.3 57.5h0M35.6 31.9h0M10.5 58.9h0M31.7 44.4h0M28.8 49.8h0M10.2 59.9h0M43.1 26.4h0M47.4 25.3h0M24.5 52h0M20.3 54.6h0M10.6 59.7h0M38.9 38.8h0M16.8 50.7h0M17 57h0M14.9 54h0M14.6 52.8h0M10.5 59.7h0M23.9 39.8h0M25.4 41h0M38.3 40h0M33.1 42.5h0M33.4 43.9h0M29.9 37.2h0M25 42h0M24 55.5h0M36 32.3h0M18 48.9h0M12.8 60.7h0M26 40.8h0M39.5 34.8h0M12.3 56.2h0M47.7 24.1h0M28.4 36.2h0M39.5 34h0M40.5 33.2h0M35.6 32.7h0M28.9 47.3h0M26.6 49.2h0M15.4 51.9h0M29.5 48.2h0M43.8 29.5h0M24.1 41.8h0M33.8 45.2h0M34.4 44.7h0M39.3 34.8h0M24.7 40.5h0M41.2 31.8h0M17.7 57.9h0M35.3 30.4h0M23.4 52.5h0M20.8 54.1h0M41.2 32h0M20.3 46.1h0M42.1 31.5h0M27.9 38.7h0M29 34.1h0M25.3 51.6h0M36.6 31.4h0M33 44h0M24.1 38.4h0M32.5 35.3h0M44.4 28.5h0M38.4 38.2h0M19.4 59.4h0M15.3 50.8h0M17.2 57.8h0M38.1 31.9h0M53.1 19.2h0M20.8 54.1h0M24.1 37.8h0M20.3 55.3h0M17.3 57.3h0M33.5 43h0M36.3 38.4h0M29.6 37.3h0M41.8 28.5h0M21.9 41.5h0M31.8 44.2h0M31.7 44.9h0M29 38.1h0M39.3 34.8h0M38.6 36.8h0M19.4 55.1h0M27.4 49.2h0M44.2 29.8h0M27.3 38.9h0M36.1 32.5h0M14.8 53.7h0M25.5 40.1h0M22 54.9h0M10 62.7h0M8 64h0M17 50.5h0M45.7 26.5h0M34.1 41.4h0M29.1 62.2h0M20.2 47.1h0M15.4 58.4h0M43.2 28h0M43.3 27.4h0M7.5 63.4h0M41.1 33.1h0M42.5 30.1h0M28.6 36.7h0M17.9 49.8h0M25.4 40.5h0M30.9 36.7h0M35.2 33.6h0M25.9 39.5h0M47.8 24.7h0M31.8 33h0M22.5 39.5h0M37.9 30.8h0M44.1 29.2h0M15.3 51.3h0M22.4 54.5h0M32.8 43.3h0M34 32.5h0M35.3 44.9h0M35.9 33h0M16.5 59.4h0M14.2 53.5h0M26.3 40.4h0M30.8 46.1h0M36.9 42.5h0M33 45.3h0M41.9 34.8h0M27.5 39.1h0M13.4 55.5h0M21.6 45.2h0M39.2 34.9h0M55.2 16.4h0M48.6 21.8h0M49.4 22h0M49.8 22h0M34.6 32.7h0M50.9 21.7h0M46.6 26.2h0M55.5 16.5h0M40.5 30h0M52.4 19h0M48.9 23.4h0M51.5 20.8h0M37.4 39.3h0M52.8 19.7h0M39.2 28.6h0M44 27.1h0M54.6 17.2h0M44.6 24.8h0M41.7 28.6h0M37.8 31.7h0M56.6 14.8h0M53.9 17.7h0M50.5 20.3h0M50.6 21.9h0M52.3 19.2h0M50.7 21h0M42.4 30.5h0M54.3 17.2h0M44.4 25.6h0M39 31.3h0M40.6 35.8h0M44.5 26.6h0M47.2 25.1h0M37.9 39h0M33.3 34.8h0M53.2 17.7h0M49.6 22.2h0M47.6 22.5h0M36.3 32.1h0M34.9 32.8h0M56.5 14.8h0M54.2 18.5h0M47.6 23.4h0M45.5 27.4h0M38.3 31.3h0M44.2 25.7h0M53.6 18.4h0M44.6 26.9h0M54.9 17.2h0M49.1 23.1h0M37.2 31.3h0M52 19.7h0M51.3 20.8h0M52.6 19.5h0M45.6 26.5h0M42.4 30.5h0M53.5 17.7h0M49.7 21.4h0M36.6 30.7h0M49.6 22.9h0M45.3 28.1h0M42.7 30.3h0M47 26.2h0M45 25.2h0M45.8 25.4h0M47.5 24.7h0M43 27.7h0M57.3 15.1h0M51.4 20.4h0M48.3 24.1h0M45.7 26.7h0M43.4 27.8h0M39 31h0M38.6 40.4h0M56.8 15.1h0M50.1 21.5h0M44.7 26.6h0M49.2 21.5h0M7.7 65h0M7.3 64.5h0M8.3 64.2h0M8.5 64.4h0M8.4 63h0M8.4 62.9h0M9.6 62.8h0M10.4 62.2h0M11.4 61.8h0M42.6 30.1h0M43.9 28.6h0M44.6 28h0M45.2 27.2h0M44.7 26.6h0M46.4 27h0M46 26.6h0M46.5 25.7h0M46.6 25.8h0M47.2 25.1h0M47.3 25.2h0M47.8 24.3h0M47.4 23.9h0M48.5 23.6h0M48.4 23.6h0M49.1 22.9h0M49.5 23.2h0M49.7 22.1h0M49.7 22.1h0M50.3 21.3h0M50.4 21.5h0M51.2 20.9h0M50.8 20.4h0M51.8 20.1h0M51.9 20.2h0M52.4 19.4h0M52.2 19.1h0M53 18.6h0M53.1 18.6h0M53.9 18.1h0M54 18.2h0M54.5 17.3h0M54.6 17.4h0M55.3 16.8h0M55.3 16.8h0M56 16.1h0M55.9 16h0M56.5 15.2h0M56.7 15.4h0M57.3 14.6h0M57.3 14.6h0M58 14h0M58 13.9h0M58.8 13.3h0M58.7 13.3h0M59.4 12.6h0M59.4 12.6h0M60 11.9h0M60.1 11.9h0M60.7 11.2h0M60.7 11.2h0M61.4 10.5h0M61.5 10.6h0M62.1 9.8h0M62.2 9.9h0M62.8 9.2h0M62.7 9.1h0M63.5 8.5h0M63.5 8.5h0M64.2 7.8h0M64.1 7.7h0M64.8 7.1h0M64.9 7.2h0M65.6 6.5h0M65.5 6.4h0M66.2 5.7h0M66.2 5.7h0M7.2 63.7h0M8.3 64.3h0M7.7 62.8h0M9.3 64.4h0M7.6 61.7h0M9.6 63.3h0M8.3 61.5h0M9.7 62.7h0M9.5 60.9h0M10.7 62.5h0M9.4 60.1h0M12.1 62.5h0M9.2 58.6h0M12.8 61.6h0M9.9 58.5h0M12.4 60.8h0M10 57.4h0M14.2 61.6h0M11.3 57.3h0M14.5 60.8h0M10.8 55.6h0M14.2 59.3h0M11.8 55.6h0M15.7 59.3h0M13.2 55.5h0M17.9 60.9h0M13.2 54.6h0M16.6 58.1h0M14.4 54.3h0M17.5 58.1h0M13.7 53.1h0M20.6 59.9h0M15 52.8h0M18.2 56.5h0M14.3 51.4h0M18.6 56h0M15.8 51.4h0M19.9 56.3h0M15.5 50.3h0M21.1 56.3h0M13.9 48h0M20.8 54.1h0M17.4 49.6h0M21.8 54.8h0M17.4 48.7h0M22.2 53.6h0M18.5 49.2h0M22.6 53h0M19.4 48.2h0M23.8 52.7h0M19.2 47.4h0M24 51.9h0M19.5 47.1h0M24.9 52h0M20.4 46.4h0M25.1 51h0M20.1 45.3h0M26.1 51h0M19.9 44.1h0M26.7 50.7h0M20.7 43h0M26.7 49.2h0M21.5 43h0M27.5 49h0M23.4 43.5h0M28.2 48.9h0M23.5 42.8h0M29.1 48.3h0M23.4 42.2h0M29.1 47.6h0M24.6 42.1h0M29.4 46.6h0M24.4 40.8h0M30.2 46.6h0M25 40.3h0M31.3 46.9h0M26.1 39.9h0M32.4 46.4h0M26.5 39.8h0M32.4 45.8h0M27.5 39.3h0M32.7 45h0M27.3 37.9h0M33.3 43.9h0M28 37.2h0M33.2 43.1h0M28.3 37.2h0M33.5 42.2h0M29.1 36.5h0M34.8 42.6h0M29.6 36.3h0M34.6 40.8h0M30.6 35.4h0M35.2 40.5h0M31 35.3h0M35.8 39.5h0M32 34.9h0M36.6 39.2h0M32.5 34.7h0M36.9 38.9h0M32.9 34.3h0M37.5 38.4h0M32.9 32.4h0M37.5 37.3h0M34.2 32.7h0M37.9 36.4h0M35.2 33.2h0M38.5 35.7h0M35.6 32.1h0M40.1 36.4h0M36.4 31.4h0M40.2 36.1h0M36.4 31.1h0M40.4 35h0M37.4 31h0M42.5 35.4h0M38.6 31.1h0M40.9 33.3h0M38.1 29.2h0M41.4 32.9h0M39.6 29.8h0M42.3 32.8h0M40 29.3h0M42.9 31.5h0M41.2 29h0M43.9 31.9h0M41.1 28.3h0M43.9 30.5h0M41.9 27.4h0M44.1 30.4h0M42.6 27.3h0M43.9 28.8h0M43.5 27.7h0M45.1 29.1h0M43.9 26.1h0M45.8 28.1h0M43.8 25.8h0M46.2 27.4h0M45.3 25.4h0M46.7 27.1h0M45.6 24.7h0M46.8 26.7h0M46 23.8h0M47 25h0M46.9 24.4h0M48.4 25.1h0M48 23.6h0M48.7 24.6h0M48.3 23.4h0M48.6 23.7h0M48.3 22h0M49.2 23.5h0M49.2 21.5h0M50.1 23.2h0M49.6 20.9h0M50.4 22.1h0M50.1 20.8h0M50.7 21h0M50.6 20h0M51.7 21.6h0M51.5 20h0M52.3 20.4h0M51.8 18.7h0M52.2 19.3h0M52.1 18.6h0M53.6 19.7h0M52.7 17.5h0M53.5 18.2h0M35.7 22.9h0M19.8 43h0M26.6 37.6h0M40.3 46.7h0M7 59.6h0M27.7 24.5h0M30.2 50.8h0M43.3 24.8h0M38.2 42.9h0M23.7 56.1h0M47.6 28.7h0M20 42.7h0M42.1 47.3h0M24.7 35.8h0M22.5 32.5h0M43.6 20.5h0M34.7 46h0M23.8 55.5h0M39.2 28.5h0M16.9 41.5h0M22.2 40h0M14 50.8h0M44.5 24.2h0M41.3 19.1h0M33 46.7h0M23.9 56.4h0M53.5 23.7h0M11.6 49.8h0M24.3 54.8h0M24.6 38.8h0" stroke="#000" stroke-width="1.9" stroke-linecap="round" fill="none"/>
</g>
<text x="268.4" y="465.9" font-size="6.45" text-anchor="middle" fill="#3457ad" stroke="#3a5dae" stroke-width=".22">0.984</text>
<g transform="translate(19.5 531.5)">
<path d="M7.1 64.3L7.7 63.5L8.3 62.7L8.9 61.9L9.5 61.1L10.1 60.3L10.7 59.5L11.3 58.7L11.9 57.9L12.4 57L13 56.1L13.5 55.2L14.1 54.3L14.6 53.4L15.1 52.6L15.7 51.7L16.2 50.8L16.8 50L17.3 49.2L17.9 48.4L18.5 47.5L19 46.7L19.6 45.9L20.2 45.1L20.7 44.3L21.4 43.6L22 42.9L22.7 42.2L23.3 41.4L24 40.7L24.6 40L25.2 39.3L25.9 38.5L26.7 37.9L27.4 37.3L28.2 36.7L29 36.2L29.8 35.6L30.5 35L31.3 34.4L32.1 33.8L32.9 33.3L33.8 32.7L34.6 32.2L35.5 31.7L36.3 31.3L37.2 30.8L38 30.4L38.9 29.9L39.6 29.3L40.4 28.7L41.1 28.1L41.9 27.6L42.6 27L43.4 26.4L44.2 25.8L44.9 25.2L45.6 24.6L46.4 24L47.1 23.3L47.8 22.7L48.5 22.1L49.2 21.4L50 20.8L50.7 20.2L51.4 19.5L52.1 18.9L52.8 18.2L53.5 17.6L54.3 16.9L55 16.3L55.7 15.7L56.4 15L57.1 14.4L57.8 13.7L58.5 13L59.2 12.4L59.9 11.7L60.6 11.1L60.9 11.3L60.2 12L59.5 12.7L58.9 13.4L58.2 14.1L57.5 14.8L56.9 15.5L56.2 16.2L55.6 16.9L54.9 17.6L54.3 18.3L53.6 19L52.9 19.7L52.3 20.4L51.6 21.1L51 21.8L50.3 22.5L49.7 23.2L49 23.9L48.4 24.6L47.7 25.4L47.1 26.1L46.4 26.8L45.8 27.5L45.2 28.2L44.6 29L44 29.7L43.4 30.4L42.8 31.1L42.2 31.9L41.6 32.6L41 33.4L40.5 34.2L40 34.9L39.5 35.7L38.9 36.5L38.4 37.4L37.9 38.2L37.4 39L36.8 39.8L36.2 40.6L35.6 41.4L35 42.1L34.4 42.9L33.8 43.7L33.2 44.5L32.6 45.2L31.9 45.9L31.2 46.5L30.4 47.2L29.7 47.8L29 48.5L28.2 49.1L27.5 49.7L26.8 50.4L26 51L25.2 51.5L24.4 52.1L23.6 52.6L22.8 53.2L22 53.8L21.2 54.3L20.4 54.9L19.5 55.5L18.7 56.1L17.9 56.7L17 57.3L16.2 57.9L15.4 58.5L14.6 59.1L13.7 59.7L13 60.3L12.2 61L11.4 61.6L10.6 62.2L9.9 62.9L9.1 63.5L8.4 64.1L7.6 64.8Z" fill="#000"/>
<path d="M23.4 40.5h0M35.5 40.7h0M26.9 51.9h0M11.4 60.9h0M10.3 60.8h0M9.6 62.8h0M40.1 33.6h0M24.4 54.4h0M18.5 45.7h0M26 31.2h0M24.1 38.4h0M9.9 62.3h0M36.5 38.8h0M30.9 53.5h0M11.4 61.7h0M41.7 25.3h0M16.6 51.7h0M11.2 61.6h0M27.2 49.4h0M37 31.5h0M29.3 47.5h0M13.9 58.9h0M13.2 54.3h0M38.7 30.9h0M26.1 50.9h0M39.8 29.7h0M29.7 47h0M41.5 31.6h0M31 35.6h0M38.9 34.8h0M40 33.2h0M32.7 33.6h0M36.5 41.8h0M36 32.3h0M21.2 53.7h0M31.8 46.4h0M12.2 59.8h0M20.9 45.2h0M21.3 43.7h0M14 59.2h0M6.9 64.1h0M19.1 56.4h0M7.5 64.1h0M34.9 32.6h0M50.8 24.8h0M40.1 37.8h0M18 49.3h0M24.9 39.5h0M13 59.7h0M30.9 35.1h0M24.9 54.2h0M10.1 61.7h0M40 33.1h0M28.2 34.8h0M27.5 36.5h0M21.1 45.4h0M48.8 23.8h0M15.3 58.2h0M40.6 29h0M26.2 50h0M42.5 27.7h0M34.2 42.7h0M19.9 45.3h0M27.3 36.6h0M22.7 39.9h0M23.4 53.1h0M7.7 63.4h0M30.5 49.8h0M39.2 35.3h0M13 56.6h0M17.3 56.4h0M35.9 48.4h0M33.1 43.9h0M18.2 57.6h0M20.3 45.6h0M30.2 46.4h0M23.4 52.7h0M23.6 40.1h0M23.2 42.6h0M49.6 23h0M14 58.9h0M25.7 50.7h0M10.7 61.2h0M38.7 37.9h0M58 13.6h0M21.6 56.2h0M34.6 42.6h0M35.3 33h0M43.2 29.5h0M39.1 35.9h0M19.4 55.3h0M35.9 43.4h0M35.7 40h0M30.7 35.7h0M42 28.5h0M12 59.9h0M12.1 58.4h0M23.1 57.1h0M31.7 47.1h0M49.8 23.4h0M10.2 61.6h0M35.9 29.3h0M33.1 33.4h0M14.1 55.6h0M37.1 45.1h0M42.3 27.7h0M9.7 62.1h0M36.4 30.2h0M45.7 28.1h0M18.1 48.6h0M49.6 22h0M36.9 38.2h0M33.8 52h0M11.3 56.3h0M38.2 36.9h0M44.6 28.6h0M19.1 46.2h0M10 60.2h0M41.4 27.8h0M8.6 63.7h0M37.2 42.2h0M12.9 57.1h0M28.3 49.8h0M14.5 58.9h0M17 56.9h0M8.1 63.7h0M31.2 45.9h0M11 61.2h0M19.9 45.5h0M31.5 50.4h0M8.7 62.1h0M44.4 28.1h0M17.4 57h0M9.3 62.1h0M34.8 43.9h0M9.1 63.5h0M13.7 54.6h0M44.8 24.4h0M34.6 41.8h0M38.6 35.9h0M33.8 45.7h0M32.6 48.5h0M20.4 54.6h0M11.8 58.8h0M23.1 39.8h0M33.1 44.9h0M10.9 58.9h0M30.1 35.5h0M41 28.9h0M28.8 47.7h0M19.6 46.6h0M15.7 51.6h0M38.9 29.7h0M46.6 24.6h0M14.8 58.7h0M31.3 35.7h0M26 36.3h0M31.3 48.4h0M19 55.1h0M44.4 28.1h0M34.3 44.1h0M31.7 53.1h0M34.7 32.1h0M11.3 60.4h0M31.4 33.4h0M27.4 51.2h0M25.7 37.9h0M46.7 24.9h0M18.6 48.3h0M28.8 36.9h0M48.6 23.9h0M56.1 16.3h0M49.3 20h0M47.2 25.1h0M56.3 15.1h0M50.8 21h0M57.1 15.7h0M52.9 19.1h0M56.5 15.5h0M48.5 23.5h0M41 31.7h0M41.3 31.5h0M41.2 34.3h0M49.2 22.1h0M45.4 29.8h0M44.9 25.5h0M39.9 30.2h0M46.6 26h0M45.2 26.8h0M53.1 18.7h0M44 29h0M46.7 23.9h0M40.7 28.1h0M55.8 15.9h0M38.4 40.1h0M47.8 24.2h0M52 20h0M36.2 31.3h0M51.3 20.1h0M43.3 29.8h0M47.3 24.8h0M51.3 20.6h0M41.9 28.2h0M53.1 19.6h0M56.4 15.7h0M52.7 19.3h0M48.6 23.8h0M45 25.8h0M41.7 35.8h0M36.3 32.4h0M53.6 18.8h0M42.9 29.9h0M40.1 28.1h0M44.3 30.2h0M50.4 21.3h0M37.5 38.2h0M41.4 32.5h0M46.3 27.3h0M48.4 23.7h0M37.6 37.5h0M52.3 19h0M52.3 19.4h0M54.6 18h0M56.2 16.1h0M54 17.2h0M53.4 18.6h0M46.2 25.7h0M52.7 18.5h0M46.1 25h0M54 17.6h0M51.1 20.8h0M46.6 25.3h0M40.5 28.7h0M54.3 18.3h0M49 21.8h0M50.2 21.1h0M50.1 20.8h0M49.2 23.4h0M42.6 25.8h0M51.3 19.8h0M40.8 33.4h0M49.7 23h0M44.3 28.2h0M51.8 17.5h0M53.3 18.1h0M52 20.4h0M43.1 26.5h0M52.4 19.2h0M50.9 21.2h0M39.9 29.7h0M47.8 24.4h0M42.1 28.5h0M7 64.3h0M7.3 64.6h0M8.3 64.2h0M7.8 63.7h0M8.7 63.2h0M8.2 62.7h0M9.3 62.4h0M9.6 62.8h0M10 61.8h0M10.6 62.4h0M10.6 61h0M10.8 61.2h0M11.6 60.7h0M12 61h0M12.1 59.8h0M12.2 59.9h0M12.9 59.3h0M13.8 58.8h0M13.8 58.7h0M14.6 58.2h0M40.8 32.3h0M43.3 29.3h0M44.9 28.2h0M45 27h0M45 27h0M45.4 26h0M45.7 26.3h0M46.6 25.8h0M46.6 25.8h0M47.3 25.2h0M46.8 24.7h0M47.8 24.3h0M47.2 23.7h0M48.4 23.5h0M48.6 23.7h0M48.9 22.7h0M49 22.7h0M50 22.4h0M49.8 22.2h0M50.4 21.5h0M50.2 21.3h0M50.9 20.6h0M51 20.6h0M51.7 20h0M51.9 20.2h0M52.3 19.2h0M52.7 19.6h0M53.4 18.9h0M53.2 18.8h0M54 18.1h0M53.9 18.1h0M54.7 17.5h0M54.6 17.4h0M55.3 16.7h0M55.2 16.6h0M55.9 15.9h0M56.1 16.1h0M56.6 15.3h0M56.6 15.3h0M57.4 14.7h0M57.2 14.6h0M58 14h0M57.9 13.9h0M58.7 13.3h0M58.7 13.3h0M59.4 12.6h0M59.4 12.6h0M60 11.9h0M60.1 11.9h0M60.8 11.3h0M60.7 11.2h0M61.4 10.5h0M61.5 10.6h0M62.1 9.8h0M62.1 9.9h0M62.7 9.1h0M62.8 9.1h0M63.5 8.5h0M63.5 8.5h0M64.1 7.7h0M64.1 7.8h0M64.8 7.1h0M64.8 7.1h0M65.5 6.4h0M65.6 6.5h0M66.3 5.8h0M66.3 5.8h0M8 63.3h0M8.8 63.7h0M8.5 62.5h0M9.7 63.1h0M8.9 62.1h0M9.9 62.4h0M9.5 61.2h0M10.6 62.1h0M9.9 60.3h0M11.4 61.3h0M10.5 59.4h0M11.8 61h0M10.7 58.8h0M13 61h0M11.6 59.1h0M13.6 60.3h0M12.3 58.6h0M13.3 59.3h0M12.9 57.4h0M13.7 58.9h0M13.1 57.3h0M15.1 58.2h0M13 55h0M15.5 58h0M14.4 55.5h0M16.4 57.5h0M14 54h0M16.4 57.1h0M14.4 53.3h0M17.7 56.9h0M15.2 52.8h0M18.1 56.5h0M15.5 52.6h0M19.5 56.1h0M14.5 50.1h0M19.1 55.2h0M16.6 51h0M19.9 54.9h0M16.5 50.4h0M21.2 55.1h0M16.6 48.9h0M21.6 54h0M17.1 48.8h0M21.9 53h0M17.9 48.1h0M23.6 53.9h0M17.8 46.4h0M24.4 53.2h0M17.4 45h0M24 52.4h0M19.3 45.8h0M25.5 52.4h0M19.6 45.8h0M25.3 50.6h0M20.7 45.7h0M27.9 52.4h0M18.9 42.4h0M26.6 50.7h0M20.3 42.7h0M27.5 50.1h0M21.6 43.3h0M28.2 49.4h0M22.8 42.7h0M28.4 49.1h0M22.7 42.1h0M28.9 47.7h0M23 41h0M29.7 47.4h0M24 41.1h0M29.8 46.8h0M24.4 40.9h0M31.3 47.1h0M24.5 39.8h0M32 46.8h0M25.8 39.1h0M31.5 45.2h0M25.6 38.3h0M33.6 46.5h0M26.2 38.1h0M32.8 44h0M27.4 37.7h0M33.6 44.2h0M27.3 37h0M34.6 43.4h0M27.8 35.7h0M34.1 42.5h0M29.8 36.5h0M34.9 42.4h0M29.8 35.5h0M35.2 41.1h0M30.4 35.1h0M36.4 41.3h0M30.5 34.7h0M35.9 39.8h0M31.9 34.5h0M36.8 39.1h0M31.5 33.1h0M37 39h0M32.3 33h0M37.5 37.7h0M33.4 32.6h0M38 37.8h0M33.4 31.5h0M38.5 37.2h0M33.8 30.8h0M39.3 36.6h0M35.9 32.1h0M39.5 35.8h0M36.3 31.7h0M39.9 34.6h0M37.3 31h0M40.3 34.4h0M38.2 31h0M40.7 34h0M37.9 30.3h0M41.2 32.9h0M38.8 30.3h0M42.5 33.1h0M40 30h0M41.7 32h0M40.3 29h0M42.1 30.6h0M41 28.4h0M43.2 30.7h0M41.7 28h0M43.5 30.5h0M41.7 26.9h0M43.5 29.7h0M42.2 27.3h0M44.8 29.4h0M42.8 26.7h0M44.8 27.8h0M44.4 26.4h0M46 28.3h0M44.6 26.1h0M45.5 27.1h0M45 25.6h0M46.4 26.7h0M45.7 25.4h0M47.5 26.3h0M45.9 24.6h0M47.7 25.8h0M46.8 24.4h0M48.2 25.2h0M47.9 23.6h0M49.8 25.3h0M47.8 23h0M48.7 23.2h0M48.4 22h0M49.4 23.6h0M49.2 22.2h0M50.3 23.1h0M49.9 21.8h0M50.1 21.9h0M50 20.2h0M51.4 22h0M51.1 20.2h0M51.6 21.3h0M51.3 20.1h0M52.3 20.3h0M51.3 19h0M52.3 20.1h0M51.9 18.7h0M52.6 18.9h0M52.7 18.3h0M54.3 19.2h0M53.4 18h0M53.8 17.9h0M22 41.6h0M44.8 37.3h0M30.8 54.5h0M33.5 55.1h0M30.9 51.1h0M27.9 52.4h0M55.4 20.3h0M31.2 32.7h0M18.6 58.8h0M12.8 66.2h0M23.6 31.6h0M18.4 38.6h0M27 25.1h0M32.5 48.6h0M8.3 46h0M32.2 51.7h0M26.4 53.2h0M24.7 56.7h0M21.5 59.7h0M10.9 56.1h0M35.5 45.4h0M12.5 53.4h0M44.1 18.1h0M31.1 53h0M29.4 51.8h0M26.1 30.3h0M27 61.5h0M20.1 43h0M41 24.3h0M32.4 32.6h0" stroke="#000" stroke-width="1.9" stroke-linecap="round" fill="none"/>
</g>
<text x="41.4" y="541.2" font-size="6.45" text-anchor="middle" fill="#3457ad" stroke="#3a5dae" stroke-width=".22">0.986</text>
<g transform="translate(95.4 531.5)">
<path d="M6.7 63.9L7.2 63.1L7.8 62.4L8.4 61.6L9 60.8L9.5 60L10.1 59.2L10.7 58.4L11.3 57.6L11.9 56.8L12.5 56L13 55.3L13.6 54.5L14.2 53.7L14.8 52.9L15.4 52.1L16 51.4L16.6 50.6L17.2 49.8L17.8 49.1L18.4 48.3L19 47.6L19.6 46.8L20.3 46L20.9 45.3L21.5 44.6L22.2 43.9L22.8 43.1L23.5 42.4L24.1 41.7L24.8 41L25.5 40.3L26.1 39.6L26.9 39L27.7 38.4L28.4 37.8L29.2 37.2L30 36.6L30.7 36L31.5 35.4L32.3 34.8L33.1 34.2L33.9 33.7L34.7 33.1L35.6 32.6L36.4 32.1L37.2 31.5L38.1 31L38.9 30.4L39.6 29.8L40.4 29.2L41.1 28.6L41.9 28L42.7 27.4L43.4 26.8L44.2 26.1L44.9 25.5L45.7 24.9L46.4 24.2L47.1 23.6L47.8 22.9L48.5 22.3L49.3 21.6L50 21L50.7 20.3L51.4 19.7L52.1 19L52.8 18.4L53.5 17.7L54.3 17.1L55 16.4L55.7 15.7L56.4 15.1L57.1 14.4L57.8 13.8L58.5 13.1L59.2 12.4L59.9 11.8L60.6 11.1L60.9 11.4L60.2 12.1L59.5 12.8L58.9 13.5L58.2 14.2L57.5 14.9L56.9 15.6L56.2 16.3L55.6 17L54.9 17.7L54.2 18.4L53.6 19.1L52.9 19.8L52.3 20.6L51.6 21.3L51 22L50.3 22.7L49.7 23.4L49 24.1L48.4 24.9L47.7 25.6L47.1 26.3L46.4 27L45.8 27.8L45.2 28.5L44.6 29.3L44 30.1L43.4 30.8L42.8 31.6L42.1 32.3L41.5 33.1L41 33.9L40.4 34.7L39.9 35.6L39.4 36.4L38.8 37.2L38.3 38L37.7 38.9L37.2 39.7L36.6 40.5L36 41.2L35.4 42L34.8 42.8L34.2 43.5L33.6 44.3L33 45.1L32.4 45.8L31.7 46.5L31 47.1L30.2 47.8L29.5 48.5L28.8 49.1L28.1 49.8L27.4 50.4L26.7 51.1L25.9 51.7L25.2 52.3L24.4 52.9L23.6 53.5L22.9 54.1L22.1 54.7L21.4 55.4L20.6 56L19.8 56.6L19 57.1L18.3 57.7L17.5 58.3L16.7 58.9L15.9 59.5L15.1 60.1L14.4 60.7L13.6 61.3L12.8 61.8L12 62.4L11.2 63L10.4 63.6L9.6 64.1L8.8 64.7L8 65.3Z" fill="#000"/>
<path d="M18.9 49.1h0M22.3 45h0M29.1 49.8h0M36 32h0M13.8 53.9h0M12.9 54.7h0M35.9 40.1h0M32.9 46.8h0M19.6 48h0M55.6 17.1h0M20.2 56h0M33.1 43.8h0M33.4 33.8h0M38.1 36.6h0M30.3 35.6h0M30.7 46h0M36.3 33.2h0M15.9 59.6h0M34.4 42h0M32.6 34.8h0M24.5 41h0M37.2 40.6h0M20.8 37.2h0M27.2 39.6h0M32.1 45.7h0M38.9 30.5h0M29.1 48.9h0M41 33.4h0M40.5 34.6h0M29.4 49.5h0M38.5 36.9h0M40.8 33h0M33.9 51.8h0M25.3 41.2h0M15.1 51.8h0M24.6 40.5h0M18.4 56.6h0M52.1 18.5h0M39.2 31.1h0M45 27.5h0M27 49.8h0M38.3 37.7h0M24.7 52.1h0M21.8 58h0M15.7 52.6h0M35 44.2h0M32.4 49.6h0M38.2 40.9h0M17.4 60.1h0M25.9 51h0M22.4 54.9h0M21.1 44.7h0M44.3 29.7h0M34 44.1h0M47.9 25.4h0M21.4 45.2h0M28.1 51.9h0M16.3 51.4h0M36.6 40.1h0M38 37.7h0M13.5 61h0M19.4 45.6h0M26.4 39.6h0M19.3 47.6h0M26.1 38.2h0M17.5 49.1h0M27.5 53.4h0M11.6 53.9h0M21.8 55.4h0M15.1 52h0M38.8 38.3h0M46.3 26.8h0M31.4 51.5h0M10 58.6h0M39.3 30.3h0M15.3 52h0M19.2 48h0M20.3 45.8h0M34.6 45.5h0M19.9 47.3h0M15.9 50.9h0M32.9 34.8h0M21.1 46.2h0M29.7 47.7h0M42.3 28.8h0M23.5 53h0M16.7 58.8h0M33.4 34.8h0M22 53.8h0M12.9 55.9h0M44 26.7h0M30.7 52.6h0M30.3 34.9h0M24.6 40.7h0M18.8 49.2h0M20.2 47.2h0M40.6 40.2h0M16.5 58.4h0M24.5 42h0M14.9 60h0M9 62.1h0M31.5 48.5h0M28.4 51.2h0M34.2 43.1h0M22.1 53.6h0M34.3 33.5h0M32.7 35.1h0M11.8 55.9h0M36.5 31.6h0M20.8 45.8h0M53.8 19.1h0M44.7 28.1h0M27.9 38.8h0M22.8 55.2h0M19.3 48.6h0M23 42.9h0M35 42.1h0M45.3 25.8h0M45.2 28h0M34.9 42.5h0M26.4 50.3h0M17.1 49.1h0M36.6 41.5h0M8.6 63.7h0M8.1 63.2h0M18.2 43.8h0M18.5 49.1h0M20.4 46.2h0M35.1 41.1h0M30.3 37.2h0M42.9 31.2h0M34.3 44h0M20.2 47.3h0M29.1 49h0M30.3 48.6h0M18.5 49.1h0M24.5 39.4h0M36.7 30.6h0M12.8 51.8h0M17.1 60.7h0M16.5 51.5h0M20.8 44.1h0M8.6 64.8h0M26.6 39.3h0M34.9 43.4h0M20.8 55.8h0M28 50.5h0M9.5 65.1h0M16.9 58.6h0M16.6 51.5h0M21 45.4h0M39.7 37.1h0M32.7 33.8h0M24.6 37.8h0M11.6 58.6h0M37.7 41.9h0M15.6 51.8h0M14.2 52h0M32.5 34.4h0M53.4 18.9h0M48.5 23.5h0M51.8 20.1h0M49.4 23.5h0M56.9 15.5h0M57.3 15.8h0M54.2 18.3h0M43.3 27.8h0M49.8 21.3h0M43 28.1h0M42.2 28.8h0M32.4 34.4h0M44.5 28.1h0M46.9 24.7h0M47.1 25.6h0M51 21h0M55.1 16.4h0M54.1 18.4h0M39.7 30.7h0M46.5 24h0M44.9 27.5h0M42.8 30.3h0M39.3 35.6h0M50.2 22h0M32 34.5h0M52.9 19h0M43.5 29.4h0M45.1 26.2h0M41.8 28.7h0M47.9 25.1h0M46.8 24.9h0M48.8 22.8h0M54 18.4h0M46.6 24.8h0M53 19.1h0M40.6 39.1h0M36 32.8h0M42.3 31.5h0M49 24h0M48.3 23h0M39.9 30.2h0M56.5 15.8h0M37.2 32.7h0M41.5 28h0M44.7 28.7h0M46.1 26h0M43.8 26.8h0M52.6 20.2h0M57.2 15.6h0M56.6 15.5h0M54.2 16.8h0M46.5 28.2h0M46 26.2h0M38.5 30.2h0M50 22.8h0M41.6 32.3h0M51.2 22.2h0M41.2 29.7h0M46.9 25.1h0M50.2 21.9h0M48.8 23.2h0M45.8 24.9h0M56.8 15.3h0M57 15.4h0M45.7 26.7h0M44.6 26.8h0M53.2 18.1h0M37.1 31.8h0M38.2 31h0M47.9 24.1h0M47.9 23.1h0M32.9 34.5h0M44.2 26.9h0M41.5 31.9h0M48.6 21.9h0M40.3 33.9h0M7.6 64.9h0M7.2 64.5h0M7.9 63.8h0M7.8 63.7h0M8.9 62h0M8.8 61.9h0M10.1 60.6h0M44.5 27.9h0M45.6 27.5h0M45.6 26.2h0M46.3 25.5h0M46.4 25.6h0M47.1 24.9h0M47.1 24.9h0M47.7 24.2h0M47.7 24.2h0M48.5 23.6h0M48.7 23.8h0M48.8 22.5h0M49.2 22.9h0M49.4 21.8h0M49.9 22.2h0M50.8 21.8h0M50.4 21.4h0M51.2 20.9h0M51.2 20.8h0M51.8 20.1h0M51.7 20h0M52.5 19.4h0M52.7 19.6h0M53.3 18.8h0M53.3 18.8h0M54 18.1h0M54 18.1h0M54.6 17.4h0M54.6 17.4h0M55.2 16.6h0M55.1 16.6h0M56.1 16.1h0M56 16h0M56.7 15.4h0M56.6 15.3h0M57.4 14.7h0M57.4 14.7h0M58 14h0M58 13.9h0M58.6 13.2h0M58.6 13.2h0M59.4 12.6h0M59.3 12.5h0M60.1 12h0M60 11.9h0M60.7 11.1h0M60.7 11.2h0M61.4 10.5h0M61.3 10.5h0M62.1 9.8h0M62.1 9.8h0M62.8 9.2h0M62.8 9.1h0M63.6 8.6h0M63.5 8.5h0M64.1 7.8h0M64.2 7.8h0M64.8 7.1h0M64.8 7.1h0M65.6 6.5h0M65.5 6.4h0M66.2 5.8h0M66.2 5.7h0M7 63.7h0M8.7 65.3h0M7.5 63.1h0M9.9 64.8h0M7.9 62h0M9.6 63.4h0M7.9 61h0M10.9 63.7h0M9.5 60.9h0M12.2 63.8h0M9 59.8h0M11.5 62.2h0M9.5 58.7h0M12.3 62.3h0M9.7 58.6h0M12.4 61.1h0M10.5 57.9h0M13.9 61.3h0M10 56.7h0M14.5 60.6h0M11.8 57h0M15.7 61.3h0M12.1 56.2h0M15.6 59.4h0M12.8 55.5h0M15.8 59.2h0M13.1 55.2h0M16.8 59.1h0M13.5 54.1h0M16.9 58.3h0M14.3 54.5h0M19.3 58.5h0M15 53.2h0M19.2 57.8h0M15.3 53.1h0M19.5 57.3h0M13.6 50h0M20.4 56.3h0M16.1 51.4h0M20.6 55.6h0M16.9 50.9h0M22.7 56.5h0M16.8 50h0M21.8 55.2h0M15.5 47.9h0M24.2 56.4h0M16.7 48.2h0M23.5 54h0M18.8 48.8h0M24 54h0M19.3 47.8h0M24.1 52.9h0M18.8 46.8h0M24.9 52.4h0M19.6 46.4h0M25.1 52.2h0M20.6 46.1h0M25.9 51h0M21.1 45h0M26.5 50.7h0M21.5 44.3h0M27 49.9h0M22.2 44.5h0M27.2 49.9h0M22.1 43.3h0M28.4 49.2h0M23 42.6h0M28.3 48.6h0M23.5 42.4h0M29.5 48.9h0M24.4 41.9h0M30.5 48.3h0M25.1 41.7h0M30.5 47.7h0M23.7 39.8h0M31.3 47.4h0M25.7 40h0M32 46h0M25.9 39.5h0M32.8 46.4h0M27.4 39.4h0M32.5 45.2h0M27.4 38.8h0M33.5 44.7h0M26.6 37.1h0M35.1 44.7h0M28 37.3h0M34 43.2h0M29.4 37.1h0M34.1 42.7h0M28.7 35.8h0M35.4 42.5h0M29.2 34.5h0M36.1 41.8h0M31.1 35.4h0M37.4 42.2h0M31.5 35.4h0M36.3 39.6h0M32.1 34.9h0M37.8 39.8h0M33.2 34.3h0M37.8 39.7h0M33.1 33.9h0M37.6 38.2h0M34.5 33.6h0M38.1 37.8h0M34.7 33.1h0M39 36.8h0M35.7 32.2h0M39.4 36.9h0M36.2 32.4h0M39.3 35h0M37.3 32.5h0M40.1 34.6h0M37.1 30.7h0M40.1 34.3h0M38.1 30.9h0M41.5 33.8h0M39.3 30.6h0M41.7 33.4h0M39.4 29.5h0M42.6 32.9h0M40.1 29.8h0M42.9 32.5h0M41.1 29.7h0M42.7 31.2h0M41.5 28.2h0M43.7 30.7h0M41.5 27.8h0M44.5 30.1h0M42.4 27.5h0M44.2 29.3h0M43.2 26.8h0M44.9 29.1h0M44.3 27h0M45.7 28.4h0M44.3 25.9h0M46.2 27.7h0M45.1 25.4h0M46.6 27.1h0M45.9 25.3h0M47.4 26.7h0M46.3 24.7h0M47.7 26.3h0M46.6 23.8h0M47.7 25.5h0M47.5 23.9h0M48.4 24.6h0M47.6 22.5h0M49.2 24h0M48.4 22.9h0M49.6 23.4h0M49.1 21.7h0M49.2 22.6h0M49.4 21.5h0M50.4 22.2h0M50.4 21.4h0M51.7 21.9h0M50.5 20.6h0M51.8 21.4h0M51.5 20.5h0M52.3 21h0M52.4 19.4h0M52.2 19.8h0M52.4 18.7h0M52.9 19h0M53.3 18.3h0M53.3 18.4h0M53.4 18h0M54.7 18.4h0M26.9 59.2h0M7.4 59.6h0M43.4 34.7h0M24.5 38h0M25.5 57.2h0M8.8 58.3h0M27.1 37.2h0M11.8 51h0M35.3 51.1h0M33.8 28.7h0M47.6 19.9h0M18.7 64.4h0M43.5 38.9h0M20.6 40.9h0M34.7 30.9h0M26.8 53h0M7.9 53.2h0M42.3 25.2h0M11.9 50.2h0M6.7 56.4h0M20.9 38.4h0M15.4 47.9h0M36.3 46.8h0M47.2 21.8h0M16.9 62.2h0M11.2 52h0M32.9 47.6h0M19.3 40.6h0M8.1 49.4h0M24.5 54.6h0" stroke="#000" stroke-width="1.9" stroke-linecap="round" fill="none"/>
</g>
<text x="117.3" y="541.2" font-size="6.45" text-anchor="middle" fill="#3457ad" stroke="#3a5dae" stroke-width=".22">0.983</text>
<g transform="translate(170.8 531.5)">
<path d="M6.7 64L7.3 63.2L7.9 62.4L8.4 61.6L9 60.8L9.6 60L10.2 59.2L10.8 58.5L11.4 57.7L11.9 56.9L12.5 56.1L13.1 55.3L13.7 54.6L14.3 53.8L14.9 53L15.5 52.2L16.1 51.5L16.7 50.7L17.3 50L17.9 49.2L18.6 48.4L19.2 47.7L19.8 46.9L20.4 46.2L21 45.4L21.7 44.7L22.3 44L23 43.3L23.6 42.6L24.3 41.9L25 41.2L25.6 40.5L26.3 39.7L27 39.1L27.8 38.5L28.6 37.9L29.3 37.3L30.1 36.7L30.9 36.1L31.6 35.5L32.4 34.9L33.2 34.3L34 33.8L34.8 33.2L35.7 32.7L36.5 32.1L37.3 31.6L38.1 31L38.9 30.5L39.7 29.9L40.5 29.3L41.2 28.7L42 28L42.7 27.4L43.5 26.8L44.2 26.2L45 25.6L45.7 24.9L46.4 24.3L47.1 23.6L47.8 23L48.6 22.3L49.3 21.7L50 21L50.7 20.4L51.4 19.7L52.1 19L52.8 18.4L53.6 17.7L54.3 17.1L55 16.4L55.7 15.8L56.4 15.1L57.1 14.4L57.8 13.8L58.5 13.1L59.2 12.4L59.9 11.8L60.6 11.1L60.9 11.4L60.2 12.1L59.5 12.8L58.9 13.5L58.2 14.2L57.5 14.9L56.9 15.6L56.2 16.3L55.6 17L54.9 17.7L54.2 18.4L53.6 19.1L52.9 19.8L52.3 20.5L51.6 21.2L50.9 22L50.3 22.7L49.6 23.4L49 24.1L48.3 24.8L47.7 25.6L47 26.3L46.4 27L45.8 27.7L45.2 28.5L44.5 29.3L43.9 30L43.3 30.8L42.7 31.5L42.1 32.3L41.5 33L40.9 33.8L40.4 34.7L39.8 35.5L39.3 36.3L38.7 37.1L38.2 37.9L37.6 38.8L37.1 39.6L36.5 40.3L35.9 41.1L35.3 41.9L34.6 42.6L34 43.4L33.4 44.1L32.8 44.9L32.2 45.7L31.5 46.3L30.8 47L30.1 47.6L29.4 48.3L28.7 49L28 49.6L27.2 50.3L26.5 50.9L25.8 51.6L25 52.2L24.3 52.8L23.5 53.4L22.8 54L22 54.6L21.2 55.2L20.5 55.8L19.7 56.4L18.9 57L18.2 57.6L17.4 58.2L16.6 58.8L15.8 59.4L15.1 60L14.3 60.6L13.5 61.2L12.7 61.8L11.9 62.3L11.1 62.9L10.3 63.5L9.6 64.1L8.8 64.7L8 65.2Z" fill="#000"/>
<path d="M24.6 53.9h0M36.7 39.4h0M31 45.5h0M23.5 53.8h0M30.7 45.9h0M39.2 30.8h0M29.7 46.8h0M16.8 58.5h0M27.6 50.8h0M39.5 31.1h0M33.8 42.2h0M45.1 28.3h0M22 45.8h0M12.1 61.9h0M16.7 59.3h0M31.3 49.1h0M21.5 45.2h0M37.5 31.6h0M40.1 30.8h0M37.6 32.3h0M46.7 26.4h0M35.6 32.5h0M27.2 49.2h0M46.8 24.9h0M30.4 47.4h0M29.3 37.7h0M22.2 45.1h0M20.4 43.8h0M21.8 55.3h0M15.9 36.5h0M17.3 58.2h0M22 45.8h0M24.4 43.1h0M23.7 55h0M18.2 58.8h0M32 33.1h0M35.1 41h0M29.5 38.4h0M16 60.6h0M29.3 37.5h0M18.6 56.2h0M15 53.2h0M35.2 33.6h0M45.7 26.4h0M18.1 57.8h0M40.1 33.3h0M15.1 53.3h0M22.7 42.6h0M21.3 55.9h0M23.7 52.2h0M27 49.6h0M24.9 52.3h0M35.8 39.6h0M15.9 53.1h0M44.1 29.6h0M40.8 33.9h0M40.2 33.3h0M39.4 34.9h0M6.5 63.1h0M30.5 48.3h0M23 53.3h0M14.1 59.6h0M46.1 27.3h0M26.6 40.1h0M27.1 40.1h0M17.4 50.8h0M23.4 40h0M43.4 27.5h0M30.6 35.9h0M7.9 63.4h0M11.7 58.2h0M41 29.4h0M20.3 47.3h0M22.2 53.4h0M17.1 58.8h0M35.1 41h0M29.5 49h0M43.5 30h0M41 32.4h0M10.4 59.8h0M32 35.8h0M16.6 58.7h0M46.2 26.3h0M31.9 46.1h0M51.3 19.8h0M37.4 31.5h0M39.1 31.5h0M9 60.9h0M38.5 31.2h0M9.7 63.4h0M41.6 40.2h0M32.2 45.2h0M23.7 52.5h0M40.3 30.3h0M24.5 40.7h0M46.2 25.5h0M40.9 32.2h0M22.7 44.2h0M28.6 38.6h0M31.1 47h0M18.1 50h0M13.1 61.5h0M7.9 64h0M29.3 36.9h0M7.9 62.7h0M15.8 49.4h0M43.3 33.4h0M17.2 48.2h0M34.8 41.5h0M34 43.4h0M37 31.3h0M48.8 24.8h0M10 58.7h0M43.9 27.2h0M20 55.4h0M17.1 57.6h0M36.9 39.6h0M30.1 50.4h0M18 48.9h0M23.8 42.2h0M37.1 40.2h0M26.3 55.5h0M21.2 43.2h0M35 33.6h0M17.8 49.2h0M32.4 35.2h0M32.1 35.4h0M8.5 64.6h0M27.8 38.3h0M34 46.6h0M41 32.2h0M16.6 51.7h0M27 52.5h0M21.5 54.1h0M43.6 29.8h0M31.1 46.1h0M45 24.4h0M30.9 46.3h0M19.1 49.2h0M25.3 51.3h0M40.5 37.4h0M11 62.4h0M35 43.3h0M54.1 18.9h0M11.2 63.9h0M24.3 42.6h0M22.7 44.8h0M19 56.1h0M7.8 63.4h0M37.2 39.2h0M19 46.7h0M37.7 42h0M9.7 63.4h0M29.1 50.8h0M37.3 37.7h0M37.8 32.3h0M36.7 32.3h0M9.2 61.8h0M42 31.1h0M43.1 25.3h0M33 48.5h0M33.8 33.7h0M23.1 44h0M9.1 62h0M26.1 51h0M45.6 26.2h0M20.2 55.8h0M10.4 63.1h0M36.9 30.8h0M40.2 36.9h0M25.8 50.7h0M18.1 48.1h0M32.2 44.2h0M36.7 39.8h0M13.7 60.1h0M14.2 55.4h0M31.7 51h0M51.9 19.4h0M46.6 24.9h0M46.4 26h0M39.6 40.9h0M45.8 27.4h0M42.9 30.4h0M47.7 24.5h0M56 15.7h0M46.1 26.7h0M44.2 28.6h0M57.1 15h0M50.2 21.4h0M46.5 24.3h0M45.7 26.8h0M43.8 29.5h0M52.3 19.9h0M52.5 18.8h0M48.5 24.2h0M33.3 34.3h0M41.3 32.1h0M55.5 16.2h0M47.8 25.1h0M38.1 36.4h0M49 24h0M53.6 17.7h0M43.8 27.8h0M54 18.3h0M39.6 34.4h0M49.5 23.1h0M57.5 15.3h0M49.3 23.9h0M39.6 34.3h0M48.7 23.7h0M33 33.5h0M43.4 32.8h0M41.5 28.6h0M49.7 21.5h0M52.3 17.9h0M33.5 35h0M32.9 35.4h0M50.4 22.2h0M46.8 24.9h0M56.6 15.3h0M47.1 29.1h0M51.8 20.3h0M45.4 25.8h0M54.5 17.6h0M51.7 20.1h0M57 14.9h0M48.2 24h0M47.8 23.8h0M56.6 16h0M56.7 15.3h0M51.4 19.5h0M51.2 19.8h0M37.2 32.7h0M46.3 25.9h0M57 15.7h0M42.2 28.6h0M47.4 22.9h0M41.5 29.4h0M50.5 21.5h0M41 26h0M34.6 33.9h0M55.7 16h0M38.6 31.7h0M51 20.1h0M39.5 30.7h0M56.8 15.8h0M50.2 22.6h0M39.1 35.4h0M44.4 28h0M53.6 18.3h0M55.2 16.2h0M46.3 26.9h0M55.5 16.6h0M55.2 17h0M53.1 19.7h0M52.1 19.7h0M50.2 20.9h0M52.6 19.5h0M47.5 23.3h0M56.8 15.5h0M7.2 64.5h0M6.6 63.9h0M7.9 63.8h0M7.6 63.5h0M9.1 63.6h0M8.5 63h0M8.7 61.8h0M8.8 62h0M39.5 31.1h0M41.4 31.6h0M44 28.7h0M44.4 26.4h0M45.2 27.2h0M45.9 26.5h0M45.4 26h0M46.6 25.9h0M46.2 25.4h0M47 24.9h0M47.3 25.2h0M47.6 24.1h0M47.4 23.9h0M48.3 23.4h0M48.5 23.7h0M49 22.8h0M49.3 23h0M50 22.4h0M49.9 22.3h0M50.4 21.4h0M50.3 21.3h0M51.2 20.9h0M51.3 21h0M52 20.2h0M51.6 19.9h0M52.7 19.6h0M52.3 19.3h0M53.2 18.8h0M53.1 18.6h0M53.8 17.9h0M54 18.2h0M54.5 17.3h0M54.3 17.1h0M55.3 16.7h0M55.3 16.7h0M55.8 15.8h0M56 16.1h0M56.6 15.3h0M56.7 15.4h0M57.2 14.5h0M57.4 14.7h0M58 13.9h0M58 14h0M58.7 13.3h0M58.6 13.2h0M59.3 12.5h0M59.4 12.6h0M60.1 12h0M60.1 11.9h0M60.7 11.2h0M60.7 11.2h0M61.5 10.6h0M61.4 10.5h0M62.1 9.8h0M62.1 9.8h0M62.8 9.2h0M62.8 9.2h0M63.6 8.6h0M63.6 8.6h0M64.1 7.8h0M64.2 7.8h0M64.9 7.1h0M64.8 7.1h0M65.6 6.5h0M65.6 6.5h0M66.3 5.8h0M66.2 5.7h0M6.6 63.4h0M8.8 65.1h0M7.3 62.8h0M8.8 64.2h0M8.1 61.9h0M10 64.4h0M9.2 61.8h0M10.9 64h0M9.6 60.9h0M11.5 63h0M9.4 59.6h0M11.4 61.6h0M10.1 59.2h0M11.9 61.8h0M10.5 58.9h0M12.5 61.5h0M10.6 58.3h0M13 60.7h0M11.5 57.8h0M14.2 60.7h0M11.8 57.2h0M14.6 59.8h0M12.3 56.1h0M16.2 60.5h0M12.5 55.7h0M16.2 59.5h0M12.9 55.4h0M16.3 58.8h0M13.8 54.9h0M17.5 58.1h0M14.5 53.8h0M18.4 57.7h0M14.8 53.3h0M18.9 57.7h0M15.5 52.9h0M19.4 56.6h0M14.9 51.3h0M21.2 57.9h0M16.4 52h0M20.2 56h0M16.1 50.8h0M21.6 55.4h0M16.5 50h0M22.7 55.6h0M17.5 49.5h0M21.9 54.3h0M18 48.5h0M23 54.1h0M18.5 47.9h0M24 54.2h0M18.7 48h0M24.5 52.9h0M20.1 47.5h0M25.3 53h0M19.8 46.7h0M25.2 52.1h0M19.4 45.3h0M25.6 51.3h0M21.2 45.4h0M26.2 50.7h0M21.5 44.4h0M26.5 50.2h0M22.4 44.9h0M27.8 50h0M23.1 44.3h0M28.1 48.7h0M23.1 42.7h0M28.2 48.3h0M24 42.5h0M28.6 48h0M24.7 42.4h0M29.6 47.1h0M24 40.7h0M30.6 46.9h0M25 40.5h0M31 46.7h0M26.2 40.3h0M31 45.9h0M26.3 40.1h0M32.5 46.1h0M26.8 38.8h0M32.6 45h0M27.8 39h0M33.4 44.8h0M27.6 38.2h0M33.3 43.5h0M29 37.7h0M34.3 42.9h0M28.5 36.7h0M34.3 42.7h0M29.9 36.6h0M34.8 42.1h0M30.3 36h0M35.2 41h0M30.7 35.4h0M35.6 40.3h0M31.5 35.2h0M36.4 40.5h0M31.7 34.7h0M36.8 39h0M33.4 35.1h0M36.9 38.8h0M33.8 33.9h0M38.4 38.3h0M33.9 33h0M38.8 37.7h0M34.2 32.5h0M38 36.6h0M33.3 30.6h0M39.6 36.9h0M36.2 32h0M39.5 35.4h0M36.7 31.9h0M40.2 35h0M37.8 31.6h0M40.6 34.2h0M38.5 31.1h0M41 33.7h0M39.2 31.2h0M42.1 34.1h0M39.4 30.3h0M41.6 32.2h0M40.2 29.6h0M42.3 31.8h0M41.5 29.5h0M43.2 31.5h0M41.4 28.3h0M43.1 30.4h0M42.5 28.1h0M43.8 30.2h0M42.9 28.3h0M44.8 29.8h0M41.9 26.2h0M44.8 28.4h0M43.6 26.6h0M45.5 28.7h0M44 25.8h0M45.9 27.4h0M44.9 25.4h0M45.9 26.8h0M45.1 25h0M46.4 26h0M45.7 24.3h0M47.9 26h0M46.1 23.2h0M48.1 25.3h0M47.2 23.6h0M48.3 24.2h0M47.9 22.7h0M48.6 23.6h0M48.6 22.4h0M49.7 23.5h0M48.8 21.8h0M49.9 22.6h0M49 21.3h0M50.9 22.7h0M50 20.7h0M50.9 21.3h0M50.4 20.3h0M51.7 21.6h0M51.6 19.8h0M51.8 20.9h0M52 19.7h0M52.5 19.5h0M52.2 18.9h0M53.1 19.5h0M53.2 18.6h0M53.3 18.9h0M30.8 49.2h0M26.2 56h0M13 50.5h0M36.6 44.3h0M21.7 38.6h0M12.2 49.9h0M38.6 51.2h0M20.7 42.9h0M11.2 43.6h0M34.6 30.4h0M44.1 37.5h0M29.3 53h0M14.4 64.7h0M18.9 44.1h0M50.5 28.9h0M40.1 27.2h0M42.8 35.7h0M30.8 57.8h0M45.2 22.6h0M44.5 23.9h0M33.3 32.2h0M36.5 62.3h0M50.4 17.2h0M37.6 49.2h0M18.1 42.4h0M24.3 60.1h0M15.4 65.6h0M33 27.6h0M28.8 34.4h0M49.3 18.9h0" stroke="#000" stroke-width="1.9" stroke-linecap="round" fill="none"/>
</g>
<text x="192.7" y="541.2" font-size="6.45" text-anchor="middle" fill="#3457ad" stroke="#3a5dae" stroke-width=".22">0.984</text>
<rect x="368.6" y="303.5" width="73.1" height="73" fill="none" stroke="#4a4a4a" stroke-width="0.9"/>
<rect x="445" y="303.5" width="73.1" height="73" fill="none" stroke="#4a4a4a" stroke-width="0.9"/>
<rect x="521.5" y="303.5" width="73.1" height="73" fill="none" stroke="#4a4a4a" stroke-width="0.9"/>
<rect x="597.9" y="303.5" width="73.1" height="73" fill="none" stroke="#4a4a4a" stroke-width="0.9"/>
<rect x="368.6" y="379.7" width="73.1" height="73" fill="none" stroke="#4a4a4a" stroke-width="0.9"/>
<rect x="445" y="379.7" width="73.1" height="73" fill="none" stroke="#4a4a4a" stroke-width="0.9"/>
<rect x="521.5" y="379.7" width="73.1" height="73" fill="none" stroke="#4a4a4a" stroke-width="0.9"/>
<rect x="597.9" y="379.7" width="73.1" height="73" fill="none" stroke="#4a4a4a" stroke-width="0.9"/>
<rect x="368.6" y="456" width="73.1" height="73" fill="none" stroke="#4a4a4a" stroke-width="0.9"/>
<rect x="445" y="456" width="73.1" height="73" fill="none" stroke="#4a4a4a" stroke-width="0.9"/>
<rect x="521.5" y="456" width="73.1" height="73" fill="none" stroke="#4a4a4a" stroke-width="0.9"/>
<rect x="597.9" y="456" width="73.1" height="73" fill="none" stroke="#4a4a4a" stroke-width="0.9"/>
<rect x="368.6" y="532.3" width="73.1" height="73" fill="none" stroke="#4a4a4a" stroke-width="0.9"/>
<rect x="445" y="532.3" width="73.1" height="73" fill="none" stroke="#4a4a4a" stroke-width="0.9"/>
<rect x="521.5" y="532.3" width="73.1" height="73" fill="none" stroke="#4a4a4a" stroke-width="0.9"/>
<rect x="597.9" y="532.3" width="73.1" height="73" fill="none" stroke="#4a4a4a" stroke-width="0.9"/>
<text x="405.2" y="343.9" font-size="10.6" text-anchor="middle" fill="#1a1a1a">QC-1</text>
<text x="481.6" y="420.1" font-size="10.6" text-anchor="middle" fill="#1a1a1a">QC-2</text>
<text x="558" y="496.4" font-size="10.6" text-anchor="middle" fill="#1a1a1a">QC-3</text>
<text x="634.4" y="572.7" font-size="10.6" text-anchor="middle" fill="#1a1a1a">QC-4</text>
<text transform="translate(449.7 295.9) scale(.9 1)" font-size="4.8" text-anchor="middle" fill="#333" stroke="#333" stroke-width=".12">-15</text>
<text transform="translate(463.6 295.9) scale(.9 1)" font-size="4.8" text-anchor="middle" fill="#333" stroke="#333" stroke-width=".12">-10</text>
<text transform="translate(477.4 295.9) scale(.9 1)" font-size="4.8" text-anchor="middle" fill="#333" stroke="#333" stroke-width=".12">-5</text>
<text transform="translate(491.2 295.9) scale(.9 1)" font-size="4.8" text-anchor="middle" fill="#333" stroke="#333" stroke-width=".12">0</text>
<text transform="translate(505.1 295.9) scale(.9 1)" font-size="4.8" text-anchor="middle" fill="#333" stroke="#333" stroke-width=".12">5</text>
<text transform="translate(602.6 295.9) scale(.9 1)" font-size="4.8" text-anchor="middle" fill="#333" stroke="#333" stroke-width=".12">-15</text>
<text transform="translate(616.5 295.9) scale(.9 1)" font-size="4.8" text-anchor="middle" fill="#333" stroke="#333" stroke-width=".12">-10</text>
<text transform="translate(630.3 295.9) scale(.9 1)" font-size="4.8" text-anchor="middle" fill="#333" stroke="#333" stroke-width=".12">-5</text>
<text transform="translate(644.1 295.9) scale(.9 1)" font-size="4.8" text-anchor="middle" fill="#333" stroke="#333" stroke-width=".12">0</text>
<text transform="translate(658 295.9) scale(.9 1)" font-size="4.8" text-anchor="middle" fill="#333" stroke="#333" stroke-width=".12">5</text>
<text transform="translate(373.3 617.5) scale(.9 1)" font-size="4.8" text-anchor="middle" fill="#333" stroke="#333" stroke-width=".12">-15</text>
<text transform="translate(387.2 617.5) scale(.9 1)" font-size="4.8" text-anchor="middle" fill="#333" stroke="#333" stroke-width=".12">-10</text>
<text transform="translate(401 617.5) scale(.9 1)" font-size="4.8" text-anchor="middle" fill="#333" stroke="#333" stroke-width=".12">-5</text>
<text transform="translate(414.8 617.5) scale(.9 1)" font-size="4.8" text-anchor="middle" fill="#333" stroke="#333" stroke-width=".12">0</text>
<text transform="translate(428.7 617.5) scale(.9 1)" font-size="4.8" text-anchor="middle" fill="#333" stroke="#333" stroke-width=".12">5</text>
<text transform="translate(526.2 617.5) scale(.9 1)" font-size="4.8" text-anchor="middle" fill="#333" stroke="#333" stroke-width=".12">-15</text>
<text transform="translate(540.1 617.5) scale(.9 1)" font-size="4.8" text-anchor="middle" fill="#333" stroke="#333" stroke-width=".12">-10</text>
<text transform="translate(553.9 617.5) scale(.9 1)" font-size="4.8" text-anchor="middle" fill="#333" stroke="#333" stroke-width=".12">-5</text>
<text transform="translate(567.7 617.5) scale(.9 1)" font-size="4.8" text-anchor="middle" fill="#333" stroke="#333" stroke-width=".12">0</text>
<text transform="translate(581.6 617.5) scale(.9 1)" font-size="4.8" text-anchor="middle" fill="#333" stroke="#333" stroke-width=".12">5</text>
<text transform="translate(360.7 447.7) rotate(-90) scale(.9 1)" font-size="4.8" text-anchor="middle" fill="#333" stroke="#333" stroke-width=".12">-15</text>
<text transform="translate(360.7 434) rotate(-90) scale(.9 1)" font-size="4.8" text-anchor="middle" fill="#333" stroke="#333" stroke-width=".12">-10</text>
<text transform="translate(360.7 420.2) rotate(-90) scale(.9 1)" font-size="4.8" text-anchor="middle" fill="#333" stroke="#333" stroke-width=".12">-5</text>
<text transform="translate(360.7 406.4) rotate(-90) scale(.9 1)" font-size="4.8" text-anchor="middle" fill="#333" stroke="#333" stroke-width=".12">0</text>
<text transform="translate(360.7 392.6) rotate(-90) scale(.9 1)" font-size="4.8" text-anchor="middle" fill="#333" stroke="#333" stroke-width=".12">5</text>
<text transform="translate(360.7 600.3) rotate(-90) scale(.9 1)" font-size="4.8" text-anchor="middle" fill="#333" stroke="#333" stroke-width=".12">-15</text>
<text transform="translate(360.7 586.6) rotate(-90) scale(.9 1)" font-size="4.8" text-anchor="middle" fill="#333" stroke="#333" stroke-width=".12">-10</text>
<text transform="translate(360.7 572.8) rotate(-90) scale(.9 1)" font-size="4.8" text-anchor="middle" fill="#333" stroke="#333" stroke-width=".12">-5</text>
<text transform="translate(360.7 559) rotate(-90) scale(.9 1)" font-size="4.8" text-anchor="middle" fill="#333" stroke="#333" stroke-width=".12">0</text>
<text transform="translate(360.7 545.2) rotate(-90) scale(.9 1)" font-size="4.8" text-anchor="middle" fill="#333" stroke="#333" stroke-width=".12">5</text>
<text transform="translate(683.4 371.5) rotate(-90) scale(.9 1)" font-size="4.8" text-anchor="middle" fill="#333" stroke="#333" stroke-width=".12">-15</text>
<text transform="translate(683.4 357.8) rotate(-90) scale(.9 1)" font-size="4.8" text-anchor="middle" fill="#333" stroke="#333" stroke-width=".12">-10</text>
<text transform="translate(683.4 344) rotate(-90) scale(.9 1)" font-size="4.8" text-anchor="middle" fill="#333" stroke="#333" stroke-width=".12">-5</text>
<text transform="translate(683.4 330.2) rotate(-90) scale(.9 1)" font-size="4.8" text-anchor="middle" fill="#333" stroke="#333" stroke-width=".12">0</text>
<text transform="translate(683.4 316.4) rotate(-90) scale(.9 1)" font-size="4.8" text-anchor="middle" fill="#333" stroke="#333" stroke-width=".12">5</text>
<text transform="translate(683.4 524) rotate(-90) scale(.9 1)" font-size="4.8" text-anchor="middle" fill="#333" stroke="#333" stroke-width=".12">-15</text>
<text transform="translate(683.4 510.3) rotate(-90) scale(.9 1)" font-size="4.8" text-anchor="middle" fill="#333" stroke="#333" stroke-width=".12">-10</text>
<text transform="translate(683.4 496.5) rotate(-90) scale(.9 1)" font-size="4.8" text-anchor="middle" fill="#333" stroke="#333" stroke-width=".12">-5</text>
<text transform="translate(683.4 482.7) rotate(-90) scale(.9 1)" font-size="4.8" text-anchor="middle" fill="#333" stroke="#333" stroke-width=".12">0</text>
<text transform="translate(683.4 468.9) rotate(-90) scale(.9 1)" font-size="4.8" text-anchor="middle" fill="#333" stroke="#333" stroke-width=".12">5</text>
<path d="M449.7 303.5v-3.3M463.6 303.5v-3.3M477.4 303.5v-3.3M491.2 303.5v-3.3M505.1 303.5v-3.3M602.6 303.5v-3.3M616.5 303.5v-3.3M630.3 303.5v-3.3M644.1 303.5v-3.3M658 303.5v-3.3M373.3 605.3v3.3M387.2 605.3v3.3M401 605.3v3.3M414.8 605.3v3.3M428.7 605.3v3.3M526.2 605.3v3.3M540.1 605.3v3.3M553.9 605.3v3.3M567.7 605.3v3.3M581.6 605.3v3.3M368.6 447.7h-3.2M368.6 434h-3.2M368.6 420.2h-3.2M368.6 406.4h-3.2M368.6 392.6h-3.2M368.6 600.3h-3.2M368.6 586.6h-3.2M368.6 572.8h-3.2M368.6 559h-3.2M368.6 545.2h-3.2M671 371.5h3.2M671 357.8h3.2M671 344h3.2M671 330.2h3.2M671 316.4h3.2M671 524h3.2M671 510.3h3.2M671 496.5h3.2M671 482.7h3.2M671 468.9h3.2" stroke="#4a4a4a" stroke-width="0.7" fill="none"/>
<g transform="translate(445 303.5)">
<path d="M6.5 65.9L7.2 65.2L7.8 64.4L8.5 63.7L9 62.8L9.6 61.9L10.2 61.1L10.7 60.1L11.3 59.2L11.8 58.3L12.4 57.5L13 56.6L13.6 55.8L14.2 55L14.8 54.1L15.4 53.3L16 52.5L16.6 51.7L17.2 50.9L17.8 50L18.4 49.2L19 48.4L19.6 47.6L20.3 46.9L20.9 46.1L21.5 45.3L22.1 44.6L22.8 43.9L23.5 43.2L24.2 42.5L24.8 41.8L25.5 41.1L26.2 40.4L26.9 39.7L27.6 39L28.3 38.3L29.1 37.7L29.9 37.1L30.6 36.5L31.4 35.9L32.2 35.3L33 34.8L33.7 34.2L34.5 33.7L35.3 33.1L36.2 32.7L37 32.2L37.9 31.8L38.8 31.4L39.6 31L40.5 30.5L41.3 30.1L42.1 29.5L42.8 28.9L43.6 28.2L44.3 27.6L45 27L45.7 26.3L46.5 25.7L47.2 25.1L47.9 24.4L48.6 23.7L49.3 23L50 22.4L50.7 21.7L51.4 21L52.1 20.4L52.8 19.7L53.5 19L54.2 18.4L54.9 17.7L55.6 17L56.3 16.3L57 15.7L57.7 15L58.4 14.3L58.7 14.6L58 15.2L57.3 15.9L56.6 16.6L56 17.3L55.3 18L54.6 18.7L53.9 19.4L53.2 20.1L52.5 20.8L51.9 21.5L51.2 22.2L50.5 22.9L49.8 23.6L49.1 24.3L48.5 25L47.8 25.7L47.1 26.4L46.5 27.1L45.8 27.8L45.2 28.5L44.5 29.2L43.8 29.9L43.2 30.6L42.6 31.3L42 32.1L41.5 32.8L41 33.6L40.5 34.4L39.9 35.1L39.4 35.9L38.9 36.7L38.3 37.4L37.7 38.1L37.1 38.9L36.5 39.6L35.9 40.4L35.3 41.1L34.7 41.9L34.1 42.7L33.5 43.5L32.8 44.2L32.1 44.9L31.4 45.6L30.7 46.2L30 46.9L29.3 47.6L28.6 48.2L27.9 48.9L27.1 49.6L26.4 50.3L25.7 50.9L24.9 51.5L24.1 52.1L23.3 52.7L22.6 53.3L21.8 54L21 54.6L20.2 55.3L19.5 55.9L18.7 56.6L17.9 57.2L17.1 57.9L16.3 58.5L15.5 59.2L14.7 59.8L14 60.5L13.1 61.1L12.3 61.7L11.4 62.3L10.6 62.9L9.8 63.6L9 64.2L8.2 64.9L7.5 65.5L6.8 66.2Z" fill="#000"/>
<path d="M22.2 45.6h0M30.5 37.7h0M30 46.1h0M11.2 61.9h0M8.9 63h0M12.9 56.9h0M17.2 52.1h0M47.1 26.3h0M49.7 23.1h0M24.9 39.4h0M9 63.4h0M23 43.9h0M23.8 51.5h0M41.8 31.9h0M22.2 52.5h0M19.7 56.3h0M35.9 38.8h0M19.7 48.9h0M11.7 61.6h0M40 35.2h0M34.5 41.1h0M44.7 27.9h0M40.2 35.4h0M42.4 30.9h0M27.4 39.4h0M16.3 49.4h0M21.1 55.9h0M29.2 47.8h0M29 36.2h0M9.1 63.5h0M21.8 52.9h0M30.1 37.9h0M36.9 32.7h0M33.2 49.9h0M9.2 62h0M33.4 43.2h0M41.2 31.9h0M34.4 34.6h0M7.2 66h0M39.8 36.4h0M10.5 61.9h0M34.6 41.4h0M20.9 54.2h0M24.6 41.3h0M46.8 26.3h0M25.2 50.9h0M23.2 42.2h0M39.6 31.2h0M41 32.9h0M10.9 59.8h0M23.3 44.4h0M47.4 25.7h0M24.8 43h0M28 49.5h0M28.2 50.5h0M28.6 36.4h0M26.1 39.8h0M43.3 28.9h0M38.1 38.5h0M41.2 31.3h0M10.7 62.2h0M20.8 43.3h0M23.5 53.6h0M13.7 59.6h0M11.8 61.1h0M17.6 57h0M16.7 53h0M24.6 43h0M29.2 49.3h0M29.7 46.1h0M21.5 53.2h0M19.4 49h0M38.8 35.4h0M36.6 38.4h0M30.5 48.1h0M8.5 64.5h0M24.6 51.4h0M12.2 58.4h0M31.3 45.3h0M14.5 58.9h0M37 38.5h0M27.9 39h0M21.1 44.3h0M21.3 44.3h0M35.2 33.8h0M34.9 43h0M27.5 49h0M7.9 64.6h0M34.2 42.1h0M17.9 50.9h0M39.1 31.2h0M39.7 34.6h0M28 50.2h0M13.1 60.4h0M35.5 40.9h0M20 55.4h0M32.5 36.1h0M17.7 49.3h0M40.2 33.2h0M36 39h0M21.8 45.7h0M31.9 33.5h0M28.9 47.1h0M45.8 27.2h0M19.1 55.6h0M46 27.3h0M22.8 42.5h0M43.2 30.8h0M17.9 56.4h0M28.8 47.4h0M41.9 32h0M19.7 55.5h0M24.5 52h0M30.9 35.4h0M27 49h0M17.2 58.3h0M23.7 44.3h0M8.3 65.7h0M27.3 48.3h0M10.5 61.9h0M40 36.1h0M28.5 49.5h0M12.9 60.3h0M19 55.8h0M34.4 33.9h0M20.4 47.9h0M41.5 31.3h0M37.5 43h0M35.6 43.1h0M28.4 48h0M41.5 32.7h0M18.3 55.7h0M24.1 51.7h0M40.6 34.6h0M21.2 53.4h0M13.1 61.3h0M37.2 37.5h0M20.8 55.1h0M37 32.4h0M45.9 26.1h0M42.1 30.3h0M43.1 28.7h0M48 26.7h0M44.2 29.6h0M43.8 28.4h0M45 28.4h0M40.7 31h0M39.7 30.7h0M41.2 32.7h0M48.5 24.2h0M49.6 23.5h0M39.3 31.8h0M46.7 25.2h0M44.6 29.5h0M45.3 27.8h0M39.8 30.8h0M48.8 23.5h0M46.6 28.2h0M47.1 25.9h0M45.5 27.3h0M41.9 32.2h0M39.7 32.1h0M46.8 25.8h0M48.4 24h0M42.7 30.3h0M49.2 23.3h0M40 30.6h0M45.5 27.3h0M42.9 29.5h0M39.7 31.1h0M41 32.2h0M41.3 30h0M44.9 27.5h0M46.4 27h0M44.5 29h0M42.2 31.5h0M40.9 30.1h0M40.3 31.5h0M46.6 25.5h0M41 31.2h0M48.4 23.7h0M46.2 27.4h0M44 27.6h0M42.1 29h0M7.6 64.3h0M8.8 64.1h0M9.6 63.5h0M10.2 64.1h0M10.9 63.5h0M9.4 61.9h0M11.4 62.5h0M10.4 61.5h0M10.9 60.7h0M12.5 60.9h0M12.5 60.9h0M13.2 60.2h0M14.6 58.9h0M39.6 34.2h0M41 32.8h0M40.7 32.5h0M40.7 31.2h0M41.5 31.9h0M41.4 30.4h0M41.4 30.4h0M42.8 30.5h0M42.2 29.9h0M43.5 29.8h0M43.2 29.5h0M43.9 28.8h0M44.1 29h0M45.2 28.7h0M44.6 28.1h0M45.5 27.6h0M45.7 27.8h0M45.6 26.4h0M46.2 26.9h0M46.9 26.2h0M46.7 26.1h0M47.1 25.1h0M47.6 25.6h0M48.1 24.8h0M48.3 24.9h0M48.9 24.1h0M48.9 24.1h0M49.4 23.3h0M49.5 23.4h0M50.3 22.8h0M50.2 22.7h0M50.7 21.8h0M51 22.1h0M51.7 21.4h0M51.8 21.5h0M52.3 20.6h0M52.3 20.6h0M52.9 19.9h0M53.2 20.1h0M53.8 19.4h0M53.7 19.3h0M54.4 18.6h0M54.4 18.6h0M55.1 17.9h0M55.2 18h0M55.8 17.2h0M55.8 17.3h0M56.6 16.6h0M56.5 16.5h0M57.2 15.9h0M57.2 15.8h0M57.9 15.2h0M57.9 15.2h0M9.6 63.4h0M9.3 63.6h0M9.2 61.7h0M10.1 63.3h0M9.9 61.2h0M11.5 62.6h0M10.1 60.2h0M11.4 61.5h0M10.6 60h0M12.4 61.6h0M10.8 58.7h0M12.4 60.9h0M11.2 58.4h0M13.7 60.9h0M12 57.8h0M13.9 59.6h0M13.2 57.2h0M15 59.3h0M12.7 55.8h0M15.8 58.7h0M12.7 54.9h0M15.6 58.2h0M14 55.5h0M16.8 58.4h0M14.5 54.2h0M17.2 57.6h0M14.7 53.5h0M18.1 56.8h0M15.3 53h0M18.7 56.1h0M15.8 52.6h0M19.5 55.7h0M16.4 52.2h0M19.9 55.7h0M17.4 51.3h0M20.6 54.5h0M17.2 50.4h0M21.7 54.5h0M18.1 50.3h0M21.6 53.2h0M19 49.9h0M21.8 53.1h0M18.6 48.1h0M23.3 53.1h0M19 48h0M23.9 52.3h0M20.2 47.3h0M24.3 51.6h0M20.3 46.4h0M25.2 51.7h0M20.5 46.1h0M26.7 51.4h0M21.5 46h0M26.3 50.1h0M21.7 45.1h0M26.5 49.8h0M21.3 43.2h0M28.4 50.2h0M22.8 43.7h0M28.1 49.1h0M23.9 43.2h0M28.3 48h0M23.7 41.9h0M28.8 47.3h0M24.1 42.1h0M29.4 46.6h0M25 41.6h0M30.2 46.7h0M25.3 40.8h0M31.1 46.2h0M25.9 40.4h0M31.1 45.2h0M26.9 40.1h0M32 45h0M27.9 39.9h0M33.3 45.2h0M28.1 39.1h0M33.7 44.7h0M28.7 38.4h0M33.9 43.2h0M28.7 37.7h0M34.2 42.4h0M29.6 36.7h0M35.2 42.3h0M30.5 36.5h0M35 41.6h0M29.2 34.7h0M35.5 40.4h0M31.1 35h0M36.3 40.4h0M29.9 32.6h0M36.5 39.5h0M32.8 34.6h0M36.6 39.2h0M33.7 34.4h0M37.7 38.3h0M33.7 33.4h0M37.7 37.6h0M35.2 33.7h0M39.3 37.8h0M35.5 33.1h0M39.2 37.2h0M36.2 32.9h0M38.5 35.6h0M36.8 32.4h0M40.1 35.7h0M37.8 32.4h0M41.2 35.4h0M37.8 31.7h0M40.6 33.8h0M38.9 31.9h0M40.8 33.2h0M39.6 30.8h0M40.7 32.6h0M40.5 31.2h0M42.3 33.3h0M41.2 31h0M41.7 31.1h0M42.1 30.4h0M42.3 30.6h0M42.1 29h0M42.9 30.1h0M42.9 29.8h0M43.9 30.3h0M43.4 28.6h0M44.5 29.4h0M44.3 28.3h0M44.7 28.8h0M44.8 28.2h0M45 27.9h0M45 26.7h0M46.1 28.2h0M46.2 26.6h0M46.4 27.4h0M46.1 26.4h0M46.9 26.5h0M32.9 33.6h0M46.2 29.5h0M20.9 40.5h0M6.4 64.1h0M21.1 57.7h0M18.2 48h0M35.6 44.2h0M40.9 37.2h0M34.5 28.8h0M37 44h0M32.5 34h0M17.4 49.1h0M18.8 43.4h0M47.3 28.4h0M31.9 49.2h0M30 54.3h0M49.9 26h0M42 37.5h0M48.9 19.4h0M36.5 46.4h0M25 33.7h0M21.1 39.2h0M37.3 50.1h0M14.3 63.8h0M62 11h0M65.9 7.2h0M67.3 5.8h0" stroke="#000" stroke-width="1.9" stroke-linecap="round" fill="none"/>
</g>
<text x="466.9" y="313.1" font-size="6.45" text-anchor="middle" fill="#3457ad" stroke="#3a5dae" stroke-width=".22">0.989</text>
<g transform="translate(521.5 303.5)">
<path d="M6.5 66L7.2 65.2L7.8 64.5L8.5 63.8L9 63L9.6 62.2L10.2 61.4L10.7 60.5L11.3 59.7L11.8 58.8L12.4 58.1L13 57.3L13.6 56.5L14.2 55.7L14.8 54.9L15.4 54.2L16 53.4L16.6 52.6L17.2 51.8L17.8 51.1L18.4 50.3L19 49.5L19.6 48.7L20.3 48L20.9 47.2L21.5 46.4L22.1 45.7L22.8 45L23.5 44.3L24.2 43.6L24.8 42.9L25.5 42.2L26.2 41.5L26.9 40.8L27.6 40.1L28.3 39.4L29.1 38.8L29.9 38.2L30.6 37.6L31.4 37L32.2 36.4L33 35.8L33.7 35.2L34.5 34.6L35.3 34L36.2 33.5L37 33L37.9 32.5L38.8 31.9L39.6 31.4L40.5 30.9L41.3 30.4L42.1 29.8L42.8 29.1L43.6 28.5L44.3 27.8L45 27.1L45.7 26.5L46.5 25.8L47.2 25.2L47.9 24.5L48.6 23.8L49.3 23.2L50 22.5L50.7 21.8L51.4 21.1L52.1 20.4L52.8 19.8L53.5 19.1L54.2 18.4L54.9 17.7L55.6 17.1L56.3 16.4L57 15.7L57.7 15L58.4 14.3L58.7 14.6L58 15.3L57.3 16L56.6 16.7L56 17.4L55.3 18.1L54.6 18.8L53.9 19.5L53.2 20.2L52.5 20.9L51.9 21.6L51.2 22.3L50.5 23L49.8 23.7L49.1 24.4L48.5 25.1L47.8 25.8L47.1 26.5L46.5 27.2L45.8 27.9L45.2 28.7L44.5 29.4L43.8 30.1L43.2 30.8L42.6 31.6L42 32.4L41.5 33.3L41 34.2L40.5 35L39.9 35.9L39.4 36.7L38.9 37.6L38.3 38.4L37.7 39.2L37.1 39.9L36.5 40.7L35.9 41.5L35.3 42.3L34.7 43L34.1 43.8L33.5 44.6L32.8 45.3L32.1 46L31.4 46.7L30.7 47.3L30 48L29.3 48.7L28.6 49.4L27.9 50L27.1 50.7L26.4 51.4L25.7 52L24.9 52.6L24.1 53.2L23.3 53.8L22.6 54.4L21.8 55L21 55.6L20.2 56.2L19.5 56.8L18.7 57.4L17.9 58L17.1 58.6L16.3 59.2L15.5 59.8L14.7 60.4L14 61L13.1 61.5L12.3 62.1L11.4 62.6L10.6 63.2L9.8 63.7L9 64.3L8.2 64.9L7.5 65.6L6.8 66.3Z" fill="#000"/>
<path d="M27.5 39.2h0M12.7 59h0M16.1 58.6h0M11.5 60.9h0M42.4 29.8h0M32.4 36.3h0M31 36h0M45.5 29.1h0M20.5 47.9h0M39.8 31.6h0M36.6 40.4h0M20.5 46.9h0M22.8 53.4h0M23 53.2h0M23.5 43h0M21.7 46.5h0M26.5 40.6h0M30.1 37.8h0M26.2 52.5h0M46.4 24.9h0M23.9 44.8h0M35.5 41.8h0M25 52.7h0M17.5 50.8h0M41.2 32.3h0M40 32.1h0M33.3 43.9h0M39.5 38.5h0M25.2 42.6h0M35 43.2h0M40.8 33.4h0M35.1 33.6h0M21.6 46.7h0M43.1 29.4h0M24.6 56.1h0M21 47.6h0M12.7 58.1h0M30.5 38.2h0M25.4 51.9h0M28 52.1h0M38.4 33h0M9.2 62.1h0M27 42h0M15.4 54.3h0M17 53.5h0M33.4 43.4h0M21.3 44.4h0M28.6 51.3h0M21.7 54.3h0M33.1 46.6h0M40.7 32.8h0M40.2 36.2h0M10.9 59.5h0M20.5 47.3h0M24.1 54.9h0M34 36.3h0M33 44h0M10.5 61.7h0M46.2 27.5h0M29.7 52.6h0M20.2 48.3h0M17.6 52.9h0M40.9 31.1h0M26.1 42.8h0M31.6 49.3h0M30.1 39h0M25.3 51.4h0M40.3 42.6h0M29.9 47.1h0M24.6 52.5h0M30.2 36.2h0M13.5 58h0M41.8 32.9h0M19.4 44.4h0M32.7 37h0M20 48.6h0M23.9 45h0M14.1 57.1h0M17 52h0M52.2 21.7h0M27 41.1h0M36.6 33.4h0M17.6 52.2h0M21.2 54.6h0M22.3 46.8h0M26.3 42.7h0M41.6 31.6h0M19.1 56h0M21.7 45.3h0M25.4 51.2h0M21 54.5h0M17.1 53.1h0M25.4 43.5h0M22.1 46.9h0M27.3 49.9h0M35.5 34.8h0M15.5 52.6h0M30.8 37.4h0M45.1 28.5h0M42.6 30.7h0M40.2 41.3h0M35.3 40.7h0M26.5 42.3h0M29.1 48.9h0M22.3 42.3h0M26.4 41.6h0M33.4 36h0M42.2 30.4h0M40.5 30.4h0M21.5 56h0M13.1 60.7h0M16.9 50.6h0M31.5 37.5h0M29.6 48.3h0M41.8 32.4h0M32.9 36.3h0M41.5 34.1h0M29.8 38.9h0M43.7 29.8h0M32.9 36.4h0M43.4 30.2h0M37 34h0M26.4 42.5h0M22.7 45.6h0M44.7 28.5h0M37.1 32.2h0M26.7 41.3h0M26.4 50.1h0M30 47.6h0M35.1 41.2h0M24.5 42.2h0M37.8 32.3h0M35.9 40.3h0M28.1 48.7h0M32.1 49.5h0M34 42.5h0M28.4 39.2h0M31.2 37.7h0M25 37.5h0M35 35.5h0M40.5 34.4h0M33.6 43.4h0M30.2 50.8h0M9 64.4h0M43.8 29.1h0M15.3 54.8h0M13.9 57.6h0M10.3 61.9h0M20.9 44.7h0M29.1 49.7h0M48.1 25h0M23.5 54.3h0M20.5 45.7h0M41.1 31.4h0M31.3 36.9h0M10.3 62.1h0M36.3 39.9h0M42.4 28.8h0M14.1 56.7h0M17.5 51.5h0M14 57.5h0M20.7 55.4h0M8.8 62.4h0M28.2 39.8h0M36 34.4h0M28 50.2h0M42.2 31.9h0M24.1 53h0M40.6 33.2h0M18.8 47.9h0M13.7 57h0M17.4 51.8h0M12.4 59h0M14 64.1h0M42.3 31.1h0M26.8 41.7h0M14.9 55.6h0M19.2 44.5h0M19.5 59.6h0M32.1 46.4h0M11.3 61.6h0M47.8 25.7h0M46.3 26.9h0M42.1 30h0M49.6 23.9h0M48.2 24.8h0M44 40.7h0M41.2 33.4h0M45.2 28.8h0M44.1 30.4h0M46.6 27.1h0M42.9 30.4h0M46.1 25.9h0M37.7 33.3h0M46 27.7h0M46.9 26.2h0M43.9 28.9h0M42.7 30.2h0M40 32h0M44.1 29.1h0M46.7 27.1h0M44.7 27.6h0M41.7 32.3h0M44.7 29h0M38.1 37.2h0M48.6 24.9h0M45.5 27.5h0M42.9 30.5h0M44 28.9h0M47.5 25.4h0M45.2 27.5h0M32.3 33.3h0M38 33.1h0M40.5 34.1h0M43.2 29.8h0M44 25.9h0M34 35.6h0M44.8 28.6h0M33.5 35.9h0M48.4 24.3h0M36.2 33.5h0M39.3 35.2h0M40.2 34.4h0M42.7 30.6h0M6.9 66.3h0M8.5 63.8h0M8.9 62.8h0M9.7 63.7h0M10.2 62.8h0M10.2 62.7h0M10.5 61.7h0M10.5 61.7h0M11.1 60.9h0M13.4 60.4h0M12.5 58.2h0M41 31.4h0M40.9 31.3h0M41.7 30.8h0M41.9 31h0M42.7 30.4h0M42.8 30.5h0M43.4 29.7h0M43.5 29.8h0M43.8 28.7h0M44.3 29.2h0M44.9 28.4h0M45.2 28.7h0M45.4 27.5h0M45.1 27.2h0M46.3 27h0M46.1 26.8h0M46.7 26.1h0M46.7 26h0M47.3 25.2h0M47.4 25.4h0M48.3 24.9h0M48 24.6h0M49 24.2h0M48.8 24.1h0M49.6 23.4h0M49.7 23.5h0M50.4 22.8h0M50.1 22.6h0M51 22.1h0M50.9 22h0M51.7 21.4h0M51.7 21.4h0M52.3 20.6h0M52.4 20.7h0M53 19.9h0M53 19.9h0M53.8 19.3h0M53.8 19.4h0M54.3 18.5h0M54.5 18.7h0M55.1 17.9h0M55 17.8h0M55.8 17.2h0M55.8 17.2h0M56.5 16.5h0M56.5 16.5h0M57.2 15.8h0M57.2 15.8h0M57.9 15.2h0M57.8 15.1h0M9.6 63h0M9.8 63.3h0M9.7 62.3h0M10.1 62.9h0M10 61.8h0M11.1 63.1h0M10.7 61.4h0M11.9 62.5h0M11.2 61h0M11.9 61.8h0M11.3 59.9h0M12.9 61.1h0M11.5 58.5h0M13.5 60.6h0M12.2 58.5h0M14.8 60.8h0M13.2 58.1h0M15.4 60.4h0M13.5 57.4h0M15.5 60h0M13.5 56.1h0M16.4 59.1h0M14.7 56.2h0M16.1 58.4h0M14.6 55.6h0M17.1 58.2h0M14.5 53.8h0M18.2 58.2h0M15.4 53.8h0M19.7 58.2h0M15.8 53.6h0M20.3 57.8h0M16.4 52.9h0M20 56.6h0M17.3 52.3h0M20.8 55.8h0M18.2 51.8h0M21.3 55.5h0M18.4 50.9h0M21.9 54.4h0M17.7 49.3h0M22.3 54.2h0M18 49.3h0M22.8 53.2h0M18.7 47.9h0M23.2 53.4h0M19.6 48h0M24.6 53.1h0M20.7 48.5h0M25.1 52.9h0M21.1 47.5h0M25 51.5h0M21.8 46.7h0M27.5 52.4h0M21.9 46.4h0M26.6 50.5h0M22.5 45.4h0M27.4 50h0M22.2 44.6h0M28.2 49.8h0M24 44.6h0M28.8 50.1h0M24.2 44.4h0M28.7 48h0M24.2 42.8h0M30.9 49.3h0M25.6 42.8h0M30 47.7h0M25.2 41.6h0M31.4 47.8h0M26 41.4h0M31.8 46.9h0M26.2 40.2h0M31.9 45.8h0M26.8 39.9h0M32.9 45.7h0M28.3 40.3h0M33 45.3h0M27.8 39.2h0M33.9 44.8h0M28.3 38.1h0M34.3 43.7h0M29.3 38.3h0M34.7 43.3h0M30.7 37.8h0M34.6 42.6h0M31.6 37.8h0M35.1 41.6h0M31.2 36.4h0M35.6 40.8h0M32.2 36.1h0M36.4 40.7h0M32.9 36.2h0M36.4 40h0M33.1 35.6h0M38.6 40.5h0M34 34.7h0M37.3 38.5h0M35 34.5h0M38.3 38.6h0M34.5 33.4h0M40.2 38.4h0M35.9 33.7h0M40.7 38.2h0M36.9 33.2h0M39.7 36.1h0M37.8 33.3h0M40.6 35.5h0M38 32.4h0M41.1 35h0M38.8 31.7h0M40.4 34.1h0M39.6 31.6h0M41 33.5h0M40.5 31.7h0M41.4 32h0M40.8 30.8h0M42.5 32h0M41.1 30.1h0M43.2 32.1h0M43 30.1h0M43.1 30.3h0M43.2 29.4h0M43.4 30.3h0M43.6 29.5h0M43.7 29.2h0M44.1 28.3h0M44.4 28.6h0M44.5 27.9h0M45 28.6h0M44.9 27h0M46.1 28.1h0M44.9 26.1h0M45.6 27.1h0M46.3 26.6h0M46.9 27.4h0M26.7 38.9h0M35.4 32.1h0M29.1 52h0M21.4 41.6h0M24.7 56.9h0M24.3 57.1h0M45 25h0M25 37.5h0M23.9 41.8h0M48.1 28.6h0M28.1 33.5h0M13.3 49.7h0M7.4 62.4h0M8 60.2h0M34.8 45h0M20 60.8h0M40.2 39.9h0M21.7 41.1h0M43 33.7h0M23.3 40.8h0M52.9 23.8h0M30.4 49.7h0M15.5 48.4h0M31.2 53.8h0M62 11h0M65.9 7.2h0M67.3 5.8h0" stroke="#000" stroke-width="1.9" stroke-linecap="round" fill="none"/>
</g>
<text x="543.4" y="313.1" font-size="6.45" text-anchor="middle" fill="#3457ad" stroke="#3a5dae" stroke-width=".22">0.990</text>
<g transform="translate(597.9 303.5)">
<path d="M6.5 65.9L7.1 65.2L7.8 64.5L8.4 63.8L9 62.9L9.6 62.1L10.1 61.3L10.6 60.5L11.2 59.6L11.7 58.7L12.3 57.9L12.9 57.2L13.5 56.4L14.1 55.6L14.6 54.8L15.2 54L15.8 53.2L16.4 52.4L17 51.6L17.6 50.9L18.2 50.1L18.8 49.3L19.4 48.5L20 47.8L20.6 47L21.2 46.2L21.9 45.5L22.6 44.8L23.2 44.1L23.9 43.4L24.6 42.7L25.3 41.9L26 41.2L26.6 40.5L27.3 39.8L28 39.2L28.8 38.6L29.6 38L30.4 37.4L31.2 36.8L32 36.2L32.8 35.6L33.6 35L34.3 34.4L35.1 33.8L36 33.3L36.9 32.8L37.8 32.3L38.7 31.8L39.5 31.3L40.4 30.8L41.3 30.3L42.1 29.7L42.8 29.1L43.5 28.4L44.2 27.8L45 27.1L45.7 26.5L46.4 25.8L47.2 25.2L47.9 24.5L48.6 23.8L49.3 23.1L50 22.5L50.7 21.8L51.4 21.1L52.1 20.4L52.8 19.8L53.5 19.1L54.2 18.4L54.9 17.7L55.6 17.1L56.3 16.4L57 15.7L57.7 15L58.4 14.3L58.7 14.6L58 15.3L57.3 16L56.6 16.7L56 17.4L55.3 18.1L54.6 18.8L53.9 19.5L53.2 20.2L52.6 20.9L51.9 21.6L51.2 22.3L50.5 23L49.8 23.7L49.2 24.4L48.5 25.1L47.8 25.8L47.2 26.5L46.5 27.3L45.8 28L45.2 28.7L44.5 29.4L43.9 30.2L43.2 30.9L42.6 31.6L42.1 32.5L41.6 33.4L41.1 34.3L40.6 35.1L40.1 36L39.6 36.9L39.1 37.8L38.5 38.6L37.9 39.3L37.3 40.1L36.7 40.9L36.1 41.7L35.5 42.5L34.9 43.3L34.3 44L33.7 44.8L33.1 45.6L32.4 46.2L31.6 46.9L30.9 47.6L30.2 48.3L29.5 48.9L28.8 49.6L28.1 50.3L27.4 50.9L26.7 51.6L25.9 52.2L25.1 52.8L24.3 53.4L23.5 54L22.8 54.6L22 55.2L21.2 55.8L20.4 56.4L19.6 57L18.8 57.6L18 58.2L17.2 58.7L16.4 59.3L15.7 59.9L14.9 60.5L14.1 61.1L13.2 61.6L12.3 62.1L11.5 62.7L10.7 63.2L9.8 63.8L9 64.3L8.3 65L7.5 65.6L6.8 66.3Z" fill="#000"/>
<path d="M38.6 32.8h0M27.7 40.5h0M11.2 61.3h0M18.4 57h0M50 23.8h0M13.3 57.3h0M41.6 31.1h0M53.9 19.5h0M12.4 61.1h0M39.4 31.8h0M23.5 54.2h0M13.2 60.7h0M40.4 35.2h0M7.6 64.5h0M9.2 63.1h0M21.9 41.9h0M30.7 34.5h0M19.4 49h0M41.7 31.7h0M29.4 53.2h0M43.2 30.3h0M39.3 38.1h0M34.7 42h0M23.5 53h0M19.3 49.2h0M21.2 54.7h0M14.4 60.6h0M30.4 48.9h0M33.3 44.9h0M13.2 60.8h0M21.2 47.6h0M41 36.7h0M19.6 48.7h0M31.4 51.6h0M25.8 51.7h0M28 50.1h0M21.3 47.3h0M10.8 62.8h0M43.5 29.5h0M34.5 31.6h0M36.8 39.3h0M25.9 41.3h0M22.5 45.8h0M14.8 55.4h0M32.8 45.4h0M9.4 60.2h0M18.1 49.4h0M41.4 33.9h0M41 31.3h0M20 49.3h0M26.6 52h0M35.6 34.1h0M10.2 62.1h0M35.3 33.9h0M22.9 54.4h0M36.4 43.3h0M23.3 45h0M31.2 37.9h0M30.1 49.3h0M22.5 54.6h0M11 61.2h0M34.9 42.3h0M12.2 59.5h0M27.4 40.5h0M24.2 53.8h0M13.8 56.7h0M16 59.1h0M26.3 41.8h0M34.1 35.7h0M16.5 52.1h0M27.7 39.9h0M19.1 49.9h0M15.4 52h0M11.1 63.3h0M29.2 52.5h0M24.2 53h0M13.9 55.7h0M48.7 23.9h0M31.7 37.2h0M37.6 39.5h0M24.9 43.3h0M27.6 53.3h0M18.6 50.1h0M39.7 30.5h0M24.7 54.2h0M25.7 51.7h0M19 50.5h0M17.4 51.5h0M21.6 43.6h0M24.4 52.2h0M31.6 48.2h0M33.5 45.9h0M46.3 26.7h0M24.4 52.8h0M12.1 57.9h0M9.8 62.2h0M11 60.1h0M43.4 31.6h0M11.3 55.4h0M23.6 41.4h0M14.3 59.9h0M22.6 53.7h0M21.2 43.5h0M22.8 54.3h0M19.1 49.1h0M27.6 39.9h0M25.6 42.8h0M43.6 28.5h0M27.2 50.9h0M25 52.3h0M28.2 51.9h0M26.3 39.2h0M35.9 44h0M35.7 41.1h0M17.9 48.1h0M38.4 32.5h0M20.3 55.4h0M33.3 34.8h0M18.1 51.7h0M26.9 51.3h0M29.8 39.1h0M15.5 59.5h0M22.1 56.4h0M35.5 45.6h0M49 24.2h0M16.9 51.8h0M33.9 47.8h0M29 49.2h0M30.9 37.8h0M38.3 37.7h0M38.9 36.6h0M27.3 40.8h0M20.9 47.8h0M20.9 47.4h0M38.5 38h0M27.4 40.2h0M21.9 46.6h0M42.3 32.2h0M52.3 20.7h0M46.4 26.7h0M36.1 41h0M14.5 59.6h0M54.3 18.5h0M17 51h0M40.7 29.8h0M43.4 29.6h0M34 44.1h0M21 47.1h0M21.5 58h0M13 60.8h0M9.8 61.8h0M44.7 29.4h0M16.2 54.2h0M43.3 29.9h0M15.8 54.8h0M33.9 34.7h0M43.3 29.8h0M40.1 31.6h0M34.9 32.3h0M40.6 35.2h0M42 30.7h0M47.8 25.9h0M49.5 23.5h0M46.7 27.7h0M43.8 28.3h0M40.3 31.5h0M48.8 24.4h0M42.5 30.5h0M41.9 31.7h0M37.6 32.8h0M40.6 31.8h0M41.9 31.1h0M38.1 33.2h0M45.4 28.2h0M38.5 32.1h0M43.1 30.6h0M40.2 34h0M48.3 23.2h0M48.8 24.6h0M40.1 31.7h0M42.4 31.7h0M42.9 30.6h0M42.7 29h0M43.1 30.1h0M38.9 32.6h0M45.1 27.9h0M44.5 28.5h0M48.3 25.1h0M47.4 25.6h0M48.9 23.9h0M47.5 26.2h0M9.5 63.4h0M9.3 63.2h0M9.8 62.3h0M9.5 62.1h0M10.5 61.7h0M10.4 61.6h0M12.1 61.9h0M41.7 32.1h0M40.8 31.3h0M41.6 30.7h0M41.6 30.7h0M42.5 30.2h0M42.5 30.2h0M43 29.2h0M43.6 29.9h0M44.3 29.2h0M43.7 28.6h0M44.7 28.2h0M44.8 28.3h0M45.4 27.5h0M45.8 28h0M46.2 27h0M45.9 26.7h0M46.7 26.1h0M46.7 26h0M47.6 25.5h0M47.5 25.5h0M48.3 24.9h0M48 24.6h0M48.7 23.9h0M49.2 24.5h0M49.8 23.6h0M49.6 23.5h0M50.2 22.7h0M50.5 23h0M50.7 21.8h0M50.9 22h0M51.6 21.3h0M51.7 21.4h0M52.3 20.7h0M52.3 20.6h0M52.9 19.8h0M52.9 19.8h0M53.8 19.3h0M53.8 19.4h0M54.4 18.6h0M54.4 18.6h0M55.1 17.9h0M55.1 17.9h0M55.7 17.2h0M55.7 17.2h0M56.5 16.5h0M56.5 16.6h0M57.2 15.9h0M57.2 15.8h0M57.9 15.1h0M57.8 15.1h0M9.3 62.7h0M9.9 64.3h0M9.6 62.2h0M10.3 62.7h0M10 61.4h0M11 62.2h0M10.6 61.7h0M12.5 63h0M10.5 60.1h0M12.2 61.2h0M10.6 59.5h0M13 61.3h0M11.3 59h0M13.7 60.7h0M12 57.7h0M14 60.4h0M12.1 57.6h0M15.3 60.6h0M12.4 56.1h0M15.9 60.3h0M14.3 56.7h0M16.9 59.3h0M13.9 56.2h0M18.3 60.1h0M15 55.5h0M17.3 58.3h0M15.3 54.8h0M18.5 57.7h0M15.4 54.2h0M18.8 57.6h0M16.4 53.3h0M19.1 57h0M15.9 52.7h0M19.9 56.3h0M16.7 51.7h0M21.1 56.2h0M17.4 51.1h0M21.1 55.7h0M17.8 50.4h0M22 54.9h0M17 49.3h0M22.3 54.5h0M18.9 49.7h0M23.3 54.5h0M19.4 48.7h0M24.2 53.3h0M19.6 48h0M25.1 54.2h0M20.4 48.3h0M26.2 53.1h0M20.4 47.3h0M25.9 52.3h0M21 46.4h0M26.4 52.1h0M20.2 44.3h0M27.2 51.7h0M22.5 45.9h0M27.9 50.9h0M22.3 44.7h0M28.4 50.2h0M24 44.4h0M29 49.5h0M23.7 43.6h0M29.2 48.7h0M24 42.5h0M29.7 47.8h0M25.2 42.4h0M29.9 47.7h0M25.7 42.4h0M30.7 46.8h0M26 41.2h0M31.1 46.9h0M27 40.9h0M32.4 46.4h0M27.7 40.5h0M32.9 46.3h0M28 40.1h0M33.1 45h0M27.8 38.6h0M33.7 44.3h0M29 38.9h0M34.6 43.8h0M29.2 38.2h0M35 43.8h0M29.6 37.5h0M35.1 43.2h0M29.6 36h0M36.1 42.9h0M31.4 36.6h0M35.8 40.8h0M31.5 36.3h0M37.8 41.7h0M32.9 36.4h0M36.7 39.7h0M33.1 35.4h0M37.5 39.2h0M33.1 34.3h0M37.6 38.3h0M35.1 34.8h0M38.7 38.8h0M35 33.9h0M38.7 37.7h0M35.8 33.3h0M39.7 37.2h0M36.3 32.7h0M39.6 36.7h0M37.3 33.2h0M40.1 35.4h0M37.7 32.2h0M40.7 34.8h0M38.2 31.8h0M41.4 34.5h0M38.8 30.7h0M41.5 33.3h0M40 30.6h0M42.4 32.9h0M40.5 30.8h0M42 32.1h0M41.4 29.6h0M43.5 31.9h0M41.6 29.5h0M43.5 31.2h0M42.4 29.2h0M43.3 30.2h0M43.4 28.6h0M44.7 30h0M43.6 27.7h0M44.7 29.3h0M44.7 27.8h0M45.1 28.5h0M45.1 26.7h0M45.9 27.6h0M45.7 27.1h0M46.6 27.8h0M46.9 26.3h0M46.6 26.3h0M26.1 54.5h0M18.6 47.5h0M22.3 38.9h0M29.3 52.7h0M18 40.7h0M57.4 26.7h0M32.7 32.9h0M27 38.3h0M12.1 52.5h0M10.1 58.4h0M27.3 54h0M12.4 50.6h0M28.2 52.1h0M8.4 45.4h0M20.7 62.8h0M15.9 42.7h0M11.1 54.3h0M34.6 46.2h0M49.5 27.2h0M18.8 47.1h0M26.3 34.7h0M28.2 56.1h0M30.7 54.8h0M12.8 49.6h0M62 11h0M65.9 7.2h0M67.3 5.8h0" stroke="#000" stroke-width="1.9" stroke-linecap="round" fill="none"/>
</g>
<text x="619.8" y="313.1" font-size="6.45" text-anchor="middle" fill="#3457ad" stroke="#3a5dae" stroke-width=".22">0.990</text>
<g transform="translate(368.6 379.7)">
<path d="M6.5 66L7.2 65.2L7.8 64.5L8.5 63.8L9 63L9.6 62.2L10.2 61.4L10.7 60.5L11.3 59.7L11.8 58.8L12.4 58.1L13 57.3L13.6 56.5L14.2 55.7L14.8 54.9L15.4 54.2L16 53.4L16.6 52.6L17.2 51.8L17.8 51.1L18.4 50.3L19 49.5L19.6 48.7L20.3 48L20.9 47.2L21.5 46.4L22.1 45.7L22.8 45L23.5 44.3L24.2 43.6L24.8 42.9L25.5 42.2L26.2 41.5L26.9 40.8L27.6 40.1L28.3 39.4L29.1 38.8L29.9 38.2L30.6 37.6L31.4 37L32.2 36.4L33 35.8L33.7 35.2L34.5 34.6L35.3 34L36.2 33.5L37 33L37.9 32.5L38.8 31.9L39.6 31.4L40.5 30.9L41.3 30.4L42.1 29.8L42.8 29.1L43.6 28.5L44.3 27.8L45 27.1L45.7 26.5L46.5 25.8L47.2 25.2L47.9 24.5L48.6 23.8L49.3 23.2L50 22.5L50.7 21.8L51.4 21.1L52.1 20.4L52.8 19.8L53.5 19.1L54.2 18.4L54.9 17.7L55.6 17.1L56.3 16.4L57 15.7L57.7 15L58.4 14.3L58.7 14.6L58 15.3L57.3 16L56.6 16.7L56 17.4L55.3 18.1L54.6 18.8L53.9 19.5L53.2 20.2L52.5 20.9L51.9 21.6L51.2 22.3L50.5 23L49.8 23.7L49.1 24.4L48.5 25.1L47.8 25.8L47.1 26.5L46.5 27.2L45.8 27.9L45.2 28.7L44.5 29.4L43.8 30.1L43.2 30.8L42.6 31.6L42 32.4L41.5 33.3L41 34.2L40.5 35L39.9 35.9L39.4 36.7L38.9 37.6L38.3 38.4L37.7 39.2L37.1 39.9L36.5 40.7L35.9 41.5L35.3 42.3L34.7 43L34.1 43.8L33.5 44.6L32.8 45.3L32.1 46L31.4 46.7L30.7 47.3L30 48L29.3 48.7L28.6 49.4L27.9 50L27.1 50.7L26.4 51.4L25.7 52L24.9 52.6L24.1 53.2L23.3 53.8L22.6 54.4L21.8 55L21 55.6L20.2 56.2L19.5 56.8L18.7 57.4L17.9 58L17.1 58.6L16.3 59.2L15.5 59.8L14.7 60.4L14 61L13.1 61.5L12.3 62.1L11.4 62.6L10.6 63.2L9.8 63.7L9 64.3L8.2 64.9L7.5 65.6L6.8 66.3Z" fill="#000"/>
<path d="M12.3 59.5h0M19.9 49.9h0M15.2 53.5h0M12 59.5h0M34.8 35.1h0M29.5 50.4h0M18.7 51.1h0M21.2 54.2h0M12.5 56.3h0M26.8 49.8h0M9.9 61.8h0M37.1 38.6h0M16.6 57.9h0M12.6 62.4h0M29.2 47.5h0M19.9 49.3h0M20.8 56.6h0M25.4 52.2h0M31.6 45.8h0M24.9 42.5h0M13.4 54.8h0M30.2 46.6h0M25.6 51.4h0M27.5 40.2h0M41.1 32.8h0M20.7 48.9h0M39.2 43.2h0M34.1 44.4h0M40.1 35.3h0M25.4 52.2h0M21.5 46.2h0M43.8 29.2h0M39.4 36h0M41.8 31.4h0M16.3 58.2h0M22.8 53.5h0M11.1 61.5h0M33.8 43h0M22.4 53.5h0M30.1 47.3h0M24 53.6h0M31.4 46.6h0M24 52.7h0M42 31.1h0M26.6 41.2h0M18.6 56.2h0M24.6 53.4h0M15.1 59.5h0M39.7 36.3h0M31.5 46.9h0M43.3 30.4h0M20.4 48.6h0M29.5 38.3h0M11.3 60.8h0M24 44.1h0M18.2 51.5h0M19.4 50.3h0M41.6 31.6h0M30.4 38.9h0M12.3 59.2h0M17.5 49.9h0M24.8 44.3h0M37.7 37.7h0M14.6 54.4h0M41.8 31.5h0M35.7 34.6h0M10.4 62.8h0M34.5 45.5h0M32.9 43.9h0M46.5 26.6h0M20.4 45.7h0M26.6 58h0M30.2 38.3h0M22.2 54.1h0M30.9 37.3h0M34.1 44.3h0M34.2 43.6h0M12.4 59.5h0M30.1 37.6h0M12 59h0M33.7 43.2h0M35.3 33.1h0M16.6 53.3h0M23.9 53.2h0M44.4 28.9h0M29.4 49.4h0M25.3 52h0M41.6 31.1h0M35.9 33.5h0M25.3 39.2h0M25.6 41.4h0M15 54.9h0M42.1 31.9h0M35.2 34.3h0M30.2 48.1h0M10.6 59.4h0M10.2 61.6h0M24.9 53.5h0M32.9 36.8h0M11 63.3h0M28.2 38.6h0M19.5 56.5h0M34.7 41.6h0M44.5 27.9h0M39.6 36h0M22.6 53.4h0M36.5 34.4h0M39.1 31.8h0M28.3 40.5h0M21.8 47h0M29.5 48.1h0M21 48.1h0M15.6 59.9h0M25.5 41.1h0M26.8 54.6h0M12.1 62.4h0M25.6 40.7h0M30 49.5h0M13.7 57.8h0M6.8 65.9h0M10.9 62.4h0M24.3 52.3h0M10.5 62.3h0M31.9 37.6h0M15.6 58.8h0M49.6 23.9h0M14.7 53.9h0M36.7 33.7h0M17.1 51.8h0M28.3 50h0M17.9 48.6h0M21.2 47.9h0M40.3 35.2h0M26.1 51.3h0M34.8 50.9h0M24.6 53h0M24.3 44h0M41.4 31h0M50.8 21.3h0M30 47.8h0M23.1 42.9h0M29.6 37.6h0M37.4 30.2h0M39.5 32.4h0M33.2 43.6h0M35.9 34.4h0M15.7 53.8h0M15.6 54.7h0M26.5 41.9h0M31.8 46h0M39 32.7h0M9.8 64.9h0M36.9 39.4h0M13.7 57.9h0M46.1 26.2h0M35.6 40.5h0M10.4 62.7h0M12.5 58.1h0M9.4 63.1h0M24.5 44.6h0M15.9 55.1h0M13 58.1h0M15.1 60.3h0M19.1 58h0M27.5 39.8h0M17.5 51.2h0M40.8 31.1h0M15.9 54.4h0M13 57h0M17.3 53h0M23.4 53.2h0M35.4 42h0M39.5 36.2h0M24.1 53.7h0M44.6 28.5h0M31 38.4h0M20.9 56.1h0M22.6 46.5h0M27.3 41.6h0M40.2 34.3h0M25.4 43.2h0M24.6 52.1h0M23.1 52.8h0M31.5 48.2h0M44.1 29h0M36.7 42.2h0M46.3 27.4h0M39.7 37h0M44.5 29.8h0M46.4 26.5h0M47.4 24.6h0M43.3 29.4h0M36 30.2h0M37.8 32.7h0M47.1 26.8h0M37.4 39.5h0M39.7 32.3h0M43.3 31.6h0M36.3 33.2h0M49 24.6h0M49.3 23.2h0M40.4 33.6h0M44.4 27.8h0M48.3 22.8h0M49.3 23.2h0M46.8 25.5h0M47.3 24.9h0M45.5 27.1h0M42.1 29.8h0M46.6 26.1h0M44.5 28.4h0M44.5 27.5h0M34.8 34.4h0M42.5 31.3h0M49.1 23.1h0M41.9 31.7h0M43.2 31.4h0M37.9 32h0M40.5 34.7h0M42.6 30.9h0M42.7 31.2h0M46 26.1h0M45 28.2h0M40.7 31.3h0M49.5 23.8h0M49.2 24.2h0M8.3 65h0M9.8 63.8h0M9.9 63.8h0M10.2 62.8h0M10.2 62.8h0M10.7 61.9h0M10.7 61.9h0M11.9 61.7h0M11.6 61.4h0M40.9 32.7h0M40.9 32.7h0M41.4 31.8h0M41.1 31.5h0M42.1 31.2h0M42.2 31.2h0M42.8 30.4h0M42.8 30.4h0M43.2 29.5h0M43.2 29.5h0M44.4 29.3h0M43.9 28.8h0M45.2 28.7h0M44.5 28h0M45.9 28h0M45.5 27.6h0M46.3 27.1h0M46.1 26.9h0M46.8 26.2h0M46.7 26.1h0M47.3 25.3h0M47.6 25.6h0M48.2 24.8h0M48.3 24.9h0M48.9 24.2h0M48.8 24h0M49.7 23.6h0M49.4 23.2h0M50.3 22.8h0M50 22.5h0M51 22.1h0M51 22.1h0M51.5 21.2h0M51.6 21.3h0M52.3 20.6h0M52.4 20.7h0M53.2 20.1h0M53 20h0M53.8 19.4h0M53.6 19.2h0M54.4 18.6h0M54.5 18.7h0M55.1 17.9h0M55.1 17.9h0M55.8 17.2h0M55.8 17.3h0M56.5 16.5h0M56.5 16.6h0M57.2 15.9h0M57.2 15.9h0M57.9 15.2h0M57.9 15.2h0M9 63.1h0M9.7 63.2h0M9.7 62.8h0M10.9 63.4h0M10.2 61.8h0M11.8 63.2h0M10.6 61.7h0M11.6 62.4h0M11.3 60.7h0M12.5 62.5h0M10.9 59.4h0M12.5 61.1h0M11.8 59.4h0M14 61.4h0M12.2 57.9h0M14.3 60.4h0M12.1 57.7h0M15.4 60.1h0M13.4 57.4h0M15.6 59.8h0M13.8 57.1h0M16.3 59.5h0M13.8 55.7h0M17.3 58.9h0M14.6 55.5h0M17.9 58.5h0M14.6 53.9h0M18.6 57.9h0M16 54.3h0M19.6 57.7h0M16.4 53.4h0M19.4 56.9h0M15.9 51.9h0M20.1 55.9h0M15.5 51h0M20.4 55.9h0M17.7 52h0M21 55h0M17.7 51h0M21.2 54.5h0M18.3 50.2h0M24.7 56.3h0M18.8 49.9h0M23.8 54h0M19.8 49.4h0M23.7 53.8h0M20.3 49.2h0M24.6 53.4h0M19.8 47.8h0M25 52.8h0M21.2 47.8h0M25.7 52.5h0M21.4 47.1h0M25.9 51.1h0M22 46.1h0M27.8 51.6h0M22.4 45h0M27.2 49.8h0M22.9 44.7h0M28.1 50.1h0M24.2 44.6h0M27.8 49h0M24.3 44.1h0M29.3 48.9h0M23.1 42h0M29.9 48.3h0M25.6 42.7h0M30.7 47.7h0M25.5 42.2h0M30.2 46.8h0M26.1 41.2h0M31.9 46.8h0M27.2 41.7h0M33.3 47.5h0M27.6 40.2h0M32.3 45.3h0M27.3 39.8h0M32.6 45h0M28.3 39.4h0M34.2 45.3h0M29.3 39h0M35.1 44.9h0M29.6 38.6h0M34.6 42.7h0M30.5 38.4h0M34.3 42.1h0M30.6 37.1h0M35.9 42h0M31.8 37.3h0M35.6 40.7h0M32.4 36.2h0M39.2 43.8h0M33.1 35.9h0M36.5 39.5h0M34 35.6h0M37.5 39h0M33.9 35h0M37.8 39h0M34.8 34.1h0M37.6 37.9h0M35 33.8h0M39.1 37.7h0M36.1 33.5h0M39.5 37.4h0M36.4 32.9h0M40 36.2h0M36.8 32.7h0M39.9 35h0M38.1 32.1h0M40 34.6h0M38.6 31.9h0M41.1 34.7h0M39.8 31.8h0M41.6 33.2h0M40.4 31.6h0M41.7 33h0M40.5 30.6h0M41.8 31.5h0M41.1 29.9h0M42.4 31.7h0M42.2 30.3h0M43.6 31.4h0M42.1 28.9h0M43.5 30.6h0M43.4 28.5h0M44 29.2h0M44.2 28.9h0M45.2 29.5h0M44.3 27.3h0M45.5 28.7h0M45.3 27h0M45.2 27.5h0M45.3 26h0M46.2 27.3h0M46.1 25.5h0M47.1 26.7h0M35.4 30.5h0M28.5 51.6h0M23 42.7h0M22.7 55.9h0M38.4 48.9h0M28.7 53h0M34.2 33.2h0M48 22h0M40.8 41.4h0M40.9 36.9h0M41 49.5h0M35.7 51.1h0M49.2 26.9h0M43.6 33.1h0M8.5 58.3h0M36.5 29.1h0M19.2 47.2h0M45.9 30.6h0M27.7 55.5h0M49.7 20.8h0M42.5 34.8h0M23.9 60.1h0M45.4 30.3h0M27.6 57.3h0M62 11h0M65.9 7.2h0M67.3 5.8h0" stroke="#000" stroke-width="1.9" stroke-linecap="round" fill="none"/>
</g>
<text x="390.5" y="390" font-size="6.45" text-anchor="middle" fill="#3457ad" stroke="#3a5dae" stroke-width=".22">0.989</text>
<g transform="translate(521.5 379.7)">
<path d="M6.5 65.9L7.2 65.2L7.8 64.4L8.5 63.7L9 62.8L9.6 61.9L10.2 61.1L10.7 60.1L11.3 59.2L11.8 58.3L12.4 57.5L13 56.6L13.6 55.8L14.2 55L14.8 54.1L15.4 53.3L16 52.5L16.6 51.7L17.2 50.9L17.8 50L18.4 49.2L19 48.4L19.6 47.6L20.3 46.9L20.9 46.1L21.5 45.3L22.1 44.6L22.8 43.9L23.5 43.2L24.2 42.5L24.8 41.8L25.5 41.1L26.2 40.4L26.9 39.7L27.6 39L28.3 38.3L29.1 37.7L29.9 37.1L30.6 36.5L31.4 35.9L32.2 35.3L33 34.8L33.7 34.2L34.5 33.7L35.3 33.1L36.2 32.7L37 32.2L37.9 31.8L38.8 31.4L39.6 31L40.5 30.5L41.3 30.1L42.1 29.5L42.8 28.9L43.6 28.2L44.3 27.6L45 27L45.7 26.3L46.5 25.7L47.2 25.1L47.9 24.4L48.6 23.7L49.3 23L50 22.4L50.7 21.7L51.4 21L52.1 20.4L52.8 19.7L53.5 19L54.2 18.4L54.9 17.7L55.6 17L56.3 16.3L57 15.7L57.7 15L58.4 14.3L58.7 14.6L58 15.2L57.3 15.9L56.6 16.6L56 17.3L55.3 18L54.6 18.7L53.9 19.4L53.2 20.1L52.5 20.8L51.9 21.5L51.2 22.2L50.5 22.9L49.8 23.6L49.1 24.3L48.5 25L47.8 25.7L47.1 26.4L46.5 27.1L45.8 27.8L45.2 28.5L44.5 29.2L43.8 29.9L43.2 30.6L42.6 31.3L42 32.1L41.5 32.8L41 33.6L40.5 34.4L39.9 35.1L39.4 35.9L38.9 36.7L38.3 37.4L37.7 38.1L37.1 38.9L36.5 39.6L35.9 40.4L35.3 41.1L34.7 41.9L34.1 42.7L33.5 43.5L32.8 44.2L32.1 44.9L31.4 45.6L30.7 46.2L30 46.9L29.3 47.6L28.6 48.2L27.9 48.9L27.1 49.6L26.4 50.3L25.7 50.9L24.9 51.5L24.1 52.1L23.3 52.7L22.6 53.3L21.8 54L21 54.6L20.2 55.3L19.5 55.9L18.7 56.6L17.9 57.2L17.1 57.9L16.3 58.5L15.5 59.2L14.7 59.8L14 60.5L13.1 61.1L12.3 61.7L11.4 62.3L10.6 62.9L9.8 63.6L9 64.2L8.2 64.9L7.5 65.5L6.8 66.2Z" fill="#000"/>
<path d="M8.8 62.8h0M40 31h0M34.6 34.5h0M41.9 31.4h0M41.3 33.8h0M24.2 43.6h0M16.2 50.5h0M16.3 53h0M43.3 28.7h0M14.3 59.3h0M10.8 60.2h0M44.7 27.4h0M14.2 59.1h0M23.4 44.6h0M39.5 39.6h0M27.8 38.7h0M21.1 46.7h0M26.3 41.5h0M30.8 46.7h0M27.5 48.2h0M11.3 59.8h0M10.6 62.5h0M17.6 56.8h0M29.9 34.3h0M11.2 58.9h0M19.7 54.6h0M36.7 33.3h0M23.3 42.6h0M27.2 40.5h0M13.5 61h0M32.7 44h0M24.3 43h0M38.1 32.7h0M35.7 33.7h0M36.2 38.5h0M19.8 54.6h0M40.4 34.3h0M24.3 43.7h0M47.7 26.3h0M25.4 41.8h0M16.3 57.5h0M29.2 36.7h0M22.1 40.5h0M18.5 55.6h0M19.2 55.6h0M39.7 34h0M13.5 54.4h0M9.9 63.5h0M23.5 41.1h0M33.8 42.4h0M32.2 36.5h0M23.9 43h0M20.6 47.3h0M12.3 57.6h0M41.8 30.3h0M26.1 52h0M17.7 56.4h0M7.1 66.3h0M13.3 56.5h0M40.3 30.7h0M16.4 52.6h0M39.2 34.8h0M29.6 37.7h0M24.3 51.1h0M16.5 51.5h0M37.3 38.1h0M43.3 29h0M22.2 40.5h0M26 41.7h0M27.6 48.2h0M12.9 58.1h0M12.5 61.5h0M20.3 55.5h0M41.3 33.2h0M19.5 45.8h0M24 51.3h0M48.4 23.8h0M30.3 36.7h0M16.4 59.5h0M36.3 33.4h0M11.8 60.9h0M36 38.6h0M31.9 36.9h0M43.6 28.6h0M23.1 41.5h0M27.6 40.1h0M20.1 48.5h0M9.8 62.8h0M37.5 37.8h0M36.6 40.2h0M9 63.7h0M19.9 55.3h0M24.9 50.7h0M43.9 28.2h0M40.7 32.5h0M28.8 35.7h0M10.6 60.4h0M29.2 38h0M32 36.4h0M20.4 47.5h0M34.1 44.5h0M38.1 32.6h0M10.4 62.4h0M12.8 61h0M35.3 34.2h0M30.2 47.2h0M42.2 30.1h0M14.4 55.1h0M32.1 44.2h0M28.3 48.5h0M30.5 45.2h0M24.9 50.9h0M37 33.1h0M40.8 33.1h0M18.5 41.9h0M14.8 58.7h0M13.5 57.1h0M40.2 33.4h0M9.8 62.2h0M43.9 27.8h0M44.6 27.6h0M15.5 54.1h0M31.4 37h0M33.6 34h0M10 62.6h0M10.6 61.2h0M21 46.7h0M29.5 36.9h0M14.1 59.9h0M26.7 50.8h0M34.2 34.6h0M41.3 37.6h0M39 35.3h0M23.3 44.6h0M12.6 57.7h0M32.2 43.9h0M32.9 45h0M30.5 34.8h0M11.3 59.9h0M11.3 62.1h0M15.3 54.4h0M40.7 30.5h0M31.9 36.3h0M25.1 39h0M29 50.2h0M26.9 40.9h0M14.8 59.9h0M18.8 49.8h0M41.3 33h0M34.3 40.9h0M10.4 54.4h0M27.4 50.2h0M28.6 47.1h0M39.3 31.6h0M26 50.2h0M32.4 45.1h0M17.7 57.8h0M46.9 25.6h0M24.1 51.5h0M32.9 34.1h0M23.2 44.4h0M38.8 32.3h0M38.6 31.9h0M36.7 32.8h0M21.9 54.3h0M32.8 42.7h0M25.3 41.5h0M39.3 32.1h0M14.5 55.5h0M35 34h0M30.9 37.2h0M26.1 41.4h0M21.9 53.8h0M23.8 37.7h0M30.7 45.1h0M16.3 52.4h0M43.7 29.9h0M46.9 26.3h0M48.3 23.2h0M42.6 28.7h0M41.8 31.8h0M38.4 30.9h0M42.5 29.7h0M35 33.1h0M45 28h0M40.3 34.4h0M44.1 27.7h0M49.2 23.9h0M49.3 24.1h0M47.8 24.8h0M43.4 31.7h0M49.6 23.5h0M48.6 23.7h0M38.4 31.8h0M45 28.5h0M49.4 23.6h0M37.9 39.3h0M48.3 25.9h0M47.7 25.8h0M45.3 27h0M39.1 35.6h0M41.3 32.4h0M48 24.6h0M35.8 34.1h0M40.8 31.2h0M42 30.1h0M46.3 24.8h0M49.4 23.8h0M49.4 23.9h0M44.3 27.6h0M33.8 33.8h0M37.1 32.7h0M36.5 33.1h0M44.6 28.8h0M48.4 24.9h0M6.9 66.4h0M9.3 63.3h0M9.6 63.5h0M10.6 63.2h0M10.2 62.8h0M11.4 62.6h0M11 62.2h0M11.6 61.4h0M10.9 60.7h0M12.7 61.1h0M13.9 59.5h0M14.6 58.8h0M40.1 33.3h0M41.6 32h0M40.9 31.3h0M41.6 30.6h0M42.1 31.1h0M42.8 30.4h0M42.9 30.5h0M43.4 29.7h0M43 29.3h0M44.1 29h0M44 28.9h0M44.9 28.4h0M44.6 28.2h0M45.7 27.9h0M45.4 27.5h0M46.1 26.8h0M46.1 26.9h0M46.7 26.1h0M46.7 26.1h0M47.5 25.5h0M47.5 25.5h0M48.2 24.8h0M48.2 24.8h0M48.8 24.1h0M48.9 24.1h0M49.5 23.4h0M49.5 23.4h0M50.4 22.8h0M50.5 22.9h0M51.1 22.2h0M51 22.1h0M51.5 21.2h0M51.5 21.2h0M52.5 20.8h0M52.3 20.6h0M52.9 19.8h0M52.9 19.9h0M53.8 19.3h0M53.8 19.3h0M54.4 18.6h0M54.4 18.6h0M55.1 17.9h0M55.1 17.9h0M55.8 17.2h0M55.7 17.2h0M56.4 16.5h0M56.5 16.6h0M57.2 15.8h0M57.2 15.8h0M57.9 15.2h0M57.9 15.1h0M8.7 62.8h0M9.7 63.4h0M9.9 62h0M10 62.8h0M9.7 61.3h0M11.1 62h0M10.5 60.8h0M11.8 61.6h0M10.4 60h0M12 61.3h0M11.5 59.9h0M13.5 61.4h0M11.6 58h0M13.4 59.8h0M12 58.1h0M14.5 60.6h0M13 57.8h0M15.6 59.6h0M13.1 55.9h0M15.9 58.9h0M13.6 56h0M16.7 58.5h0M14.2 55.2h0M16.8 57.4h0M14.8 54.7h0M17.6 57.2h0M14.6 53.4h0M18.6 57.2h0M15.1 53.1h0M19.4 56.5h0M16.1 53h0M19.2 56.1h0M16.1 51.4h0M21.1 55.8h0M16.7 51.4h0M21.3 55.5h0M17.6 50.3h0M21.2 53.9h0M18 49.8h0M22 53.6h0M18.7 49.4h0M22.5 53.3h0M18.6 47.7h0M22.4 52.5h0M20.1 48.3h0M23.7 52.1h0M19.8 47.1h0M24 51.5h0M20.2 47h0M25.5 51.5h0M21.2 46.2h0M25.2 50.7h0M21.9 46.1h0M26.6 51.2h0M22.1 45.6h0M28.1 51.2h0M22.8 44.9h0M27 48.8h0M23.1 44.2h0M28.2 48.9h0M23.7 43.1h0M28.7 48.4h0M24.5 43.1h0M28.5 47.6h0M25.2 42.5h0M29.7 47.2h0M25.2 41.2h0M30.1 46.5h0M25.9 41.6h0M30.3 45.4h0M26.2 40.3h0M31.8 45.7h0M27.2 40.2h0M31.6 44.4h0M27.2 39.2h0M32.4 43.8h0M27.5 38.8h0M33.5 44h0M28.3 38.1h0M33.7 43.5h0M29.2 38h0M33.9 42.5h0M29.5 36.9h0M34.4 41.9h0M30.8 36.7h0M35.6 41.5h0M30.9 36.8h0M35.8 41.5h0M31.6 35.3h0M35.6 40.4h0M31.8 34.9h0M37.5 40.3h0M33.1 35.6h0M36.9 38.8h0M32.6 33.2h0M37.5 38.7h0M34.4 33.9h0M38.5 38.9h0M33.2 32.6h0M38.1 36.9h0M34.8 32.8h0M39.1 36.5h0M35.5 32.8h0M39.4 35.8h0M36 31.8h0M39.8 35.4h0M36.9 31.1h0M40.2 35.1h0M38.1 31.8h0M40.4 34.3h0M38.9 31.8h0M40.9 33.3h0M39.8 31.1h0M41.4 32.8h0M40 30.8h0M41.2 31.9h0M41 30.1h0M41.9 31.6h0M41.1 29.6h0M42.7 31.4h0M42 29h0M43.3 30.4h0M42.5 28.7h0M43.8 30.4h0M43.7 29.1h0M44.1 28.9h0M43.6 27.9h0M44.2 28.3h0M44.2 27.8h0M45.3 28.2h0M45.6 27.3h0M45.9 27.3h0M45.6 26.5h0M46 26.4h0M46.6 26.5h0M46.7 26.3h0M33.4 54.1h0M47.6 20.4h0M28.7 62h0M28.6 36.9h0M22.9 42.5h0M31.3 50.5h0M40.4 37.7h0M30.2 30.7h0M14.3 51.1h0M27.3 36.7h0M28.8 54.7h0M13.2 50.9h0M25.7 28.8h0M20.2 58.6h0M19 59h0M46.3 23.2h0M27.4 54.8h0M25.4 37.6h0M26.7 54.1h0M10.8 64.9h0M22.5 57h0M9.8 65.2h0M12.9 55.1h0M37.4 48.1h0M62 11h0M65.9 7.2h0M67.3 5.8h0" stroke="#000" stroke-width="1.9" stroke-linecap="round" fill="none"/>
</g>
<text x="543.4" y="390" font-size="6.45" text-anchor="middle" fill="#3457ad" stroke="#3a5dae" stroke-width=".22">0.989</text>
<g transform="translate(597.9 379.7)">
<path d="M6.5 66L7.2 65.2L7.8 64.5L8.5 63.8L9 63L9.6 62.2L10.2 61.4L10.7 60.5L11.3 59.7L11.8 58.8L12.4 58.1L13 57.3L13.6 56.5L14.2 55.7L14.8 54.9L15.4 54.2L16 53.4L16.6 52.6L17.2 51.8L17.8 51.1L18.4 50.3L19 49.5L19.6 48.7L20.3 48L20.9 47.2L21.5 46.4L22.1 45.7L22.8 45L23.5 44.3L24.2 43.6L24.8 42.9L25.5 42.2L26.2 41.5L26.9 40.8L27.6 40.1L28.3 39.4L29.1 38.8L29.9 38.2L30.6 37.6L31.4 37L32.2 36.4L33 35.8L33.7 35.2L34.5 34.6L35.3 34L36.2 33.5L37 33L37.9 32.5L38.8 31.9L39.6 31.4L40.5 30.9L41.3 30.4L42.1 29.8L42.8 29.1L43.6 28.5L44.3 27.8L45 27.1L45.7 26.5L46.5 25.8L47.2 25.2L47.9 24.5L48.6 23.8L49.3 23.2L50 22.5L50.7 21.8L51.4 21.1L52.1 20.4L52.8 19.8L53.5 19.1L54.2 18.4L54.9 17.7L55.6 17.1L56.3 16.4L57 15.7L57.7 15L58.4 14.3L58.7 14.6L58 15.3L57.3 16L56.6 16.7L56 17.4L55.3 18.1L54.6 18.8L53.9 19.5L53.2 20.2L52.5 20.9L51.9 21.6L51.2 22.3L50.5 23L49.8 23.7L49.1 24.4L48.5 25.1L47.8 25.8L47.1 26.5L46.5 27.2L45.8 27.9L45.2 28.7L44.5 29.4L43.8 30.1L43.2 30.8L42.6 31.6L42 32.4L41.5 33.3L41 34.2L40.5 35L39.9 35.9L39.4 36.7L38.9 37.6L38.3 38.4L37.7 39.2L37.1 39.9L36.5 40.7L35.9 41.5L35.3 42.3L34.7 43L34.1 43.8L33.5 44.6L32.8 45.3L32.1 46L31.4 46.7L30.7 47.3L30 48L29.3 48.7L28.6 49.4L27.9 50L27.1 50.7L26.4 51.4L25.7 52L24.9 52.6L24.1 53.2L23.3 53.8L22.6 54.4L21.8 55L21 55.6L20.2 56.2L19.5 56.8L18.7 57.4L17.9 58L17.1 58.6L16.3 59.2L15.5 59.8L14.7 60.4L14 61L13.1 61.5L12.3 62.1L11.4 62.6L10.6 63.2L9.8 63.7L9 64.3L8.2 64.9L7.5 65.6L6.8 66.3Z" fill="#000"/>
<path d="M33 44.3h0M8.9 64h0M26.4 52.3h0M35.7 34.9h0M23.7 52.8h0M22.7 53.8h0M42.5 30h0M25.2 51.5h0M18.8 51h0M37.4 38.2h0M13 62h0M40.4 34.6h0M44.1 29.7h0M15 59.5h0M8.5 64.5h0M35.9 33.7h0M22.9 55.2h0M18.5 57.6h0M35.2 43.3h0M29.8 39h0M23.7 45.2h0M28 39.8h0M21.2 55.1h0M11.9 57.6h0M29.8 36.5h0M22.6 45.8h0M41.7 31.3h0M32.9 44.7h0M38.3 37.1h0M24.3 44.5h0M34.5 46.1h0M18.9 51h0M27.1 39.6h0M47.1 25.2h0M17.9 48.6h0M11.9 59.5h0M18.9 51.2h0M13.8 60.3h0M12.4 61.7h0M17.3 53.2h0M26.9 41h0M16 53.8h0M40.4 30.9h0M7.8 63.5h0M17.6 59.8h0M18.3 57.3h0M30.7 46.6h0M42.6 31h0M46.8 25.6h0M20.2 55.3h0M13.7 57.6h0M40.5 34.4h0M23.6 44.6h0M27.9 41h0M18.9 49.6h0M37.3 38.2h0M35.4 43.1h0M27.5 49.8h0M13.5 56.6h0M26.6 53.1h0M23.5 41.2h0M17.2 53h0M25.1 52h0M34.3 43h0M9.8 62.1h0M30.1 47.5h0M9.4 64.7h0M7 66.2h0M36.2 40.2h0M38.2 37.4h0M39.4 41.7h0M21 45.6h0M16.6 52.5h0M16.8 53.1h0M39 31.9h0M46.6 26.6h0M25.7 51.3h0M28.1 39.4h0M15.5 58.7h0M35.2 41.7h0M13 44.2h0M42.2 30.6h0M13.7 60h0M27.6 50h0M21.7 46.2h0M36 43.8h0M38.4 40.4h0M28.4 49.5h0M40.2 34.8h0M19.7 55.6h0M51.2 22.2h0M39.8 31.7h0M43.2 29.1h0M16.9 48.8h0M22.5 54.1h0M15.1 59.1h0M35.6 42.1h0M20.1 56.6h0M16.3 53.6h0M19 46.3h0M17.6 52.5h0M14.5 56.3h0M31.2 46.4h0M8.8 61h0M16.4 54.2h0M41.9 30.4h0M40.7 31.2h0M30.7 37.7h0M35.5 41.7h0M17.8 49.3h0M43.1 30.1h0M44.7 27.5h0M28.4 39.6h0M35.1 45.5h0M39.6 31.9h0M32.2 49h0M34.1 36h0M18.7 50.1h0M22.1 45.3h0M13.9 56.6h0M25.8 50.8h0M42.7 30.1h0M25.7 53.7h0M11.7 58.2h0M8.3 63.9h0M9.9 63.4h0M25.9 37.6h0M38.9 37.6h0M43.6 29.6h0M17.6 51.6h0M20.5 43.9h0M31.7 46.4h0M10.7 61.8h0M18.4 51.8h0M37.6 32.7h0M16.6 58.1h0M21.9 56.7h0M17.9 52.5h0M25.1 43.1h0M35.2 41.1h0M15.2 54.5h0M29.1 51.5h0M23.2 45.9h0M44.4 28.5h0M30.6 38.7h0M9.8 61.7h0M29.2 33.4h0M8 65h0M27.9 41.1h0M16.8 58.6h0M20.7 46.2h0M22.1 47.2h0M29.1 47.6h0M28.2 48.5h0M34.4 44.7h0M14.4 56.3h0M34.8 43.2h0M30.1 47.8h0M11.3 60.8h0M19.1 50.9h0M31.2 48.6h0M36.4 34.1h0M42 30h0M47.2 25h0M38.7 31.9h0M42.1 29.1h0M45.4 27.9h0M47 25.7h0M39.3 31.7h0M35.9 34.8h0M47.6 25.7h0M38.6 36.8h0M38.9 32.6h0M39.7 37.2h0M45.7 26.5h0M36.9 34h0M37.6 32.4h0M41 31.5h0M42.1 30.7h0M46.5 27.5h0M42 32h0M45.8 27.6h0M44.6 28.4h0M42 32.7h0M41.6 30.8h0M47.8 24.7h0M39.6 32h0M44.9 28.9h0M40.6 31h0M40.3 33.7h0M39.2 40.6h0M42.7 28.9h0M42 32.3h0M34.5 35.3h0M40.1 31h0M48.7 24.2h0M41.4 31.2h0M40.3 34.2h0M37.2 38.6h0M46.3 26h0M8.6 64h0M9.5 63.5h0M9.5 63.5h0M9.9 62.4h0M10.3 62.8h0M10.2 61.4h0M11.1 62.3h0M11.7 61.5h0M11.3 61.1h0M11.9 60.3h0M12.7 61.1h0M40.2 32h0M41 32.8h0M41.7 32.1h0M42.1 31.1h0M41.8 30.9h0M42.4 30.1h0M42.4 30h0M43.5 29.8h0M43.5 29.7h0M43.3 28.2h0M44.1 29h0M44.9 28.4h0M44.8 28.4h0M45 27.2h0M45.6 27.7h0M46.2 26.9h0M45.9 26.6h0M46.9 26.3h0M46.8 26.2h0M47.5 25.5h0M47 25h0M48.3 25h0M48.1 24.7h0M48.7 23.9h0M48.7 23.9h0M49.8 23.6h0M49.5 23.3h0M50.4 22.9h0M50.2 22.6h0M50.9 22h0M50.9 22h0M51.4 21.1h0M51.6 21.3h0M52.3 20.6h0M52.3 20.7h0M52.9 19.9h0M53.1 20h0M53.6 19.1h0M53.6 19.2h0M54.2 18.4h0M54.4 18.5h0M55.1 17.9h0M55.2 18h0M55.7 17.1h0M55.8 17.2h0M56.5 16.5h0M56.4 16.5h0M57.2 15.9h0M57.2 15.8h0M57.9 15.2h0M57.9 15.2h0M9.3 62.8h0M10.1 63.6h0M9.3 62.3h0M10.2 62.8h0M10.5 61.8h0M11 63.3h0M10.1 61.2h0M11.6 62h0M10.8 60.1h0M12.5 62.3h0M11.5 60.1h0M12.8 61h0M11.8 59.3h0M13.8 61.6h0M12.5 58.9h0M14.4 60.1h0M13 58.1h0M14.8 60.3h0M13.3 57.2h0M15.3 59.6h0M14.1 57h0M17 59.7h0M14.3 56.4h0M18.4 60.1h0M15 55.6h0M18.4 58.7h0M15.5 55.4h0M17.5 57.2h0M15.9 54.6h0M18.6 56.8h0M15.9 53.5h0M18.9 56.7h0M16.7 52.6h0M19.8 56.5h0M17.5 52.3h0M20.3 55.9h0M17.8 52.2h0M21.5 55.8h0M17.3 50.4h0M21.6 54.7h0M18.8 51h0M22.5 54.5h0M19.4 50.4h0M24.7 55.9h0M19.2 48.6h0M23.8 53.9h0M19.9 48.7h0M24.6 53.4h0M21 48.4h0M24.6 52.5h0M20.7 47.4h0M25.7 52h0M22.1 46.8h0M26.3 51.5h0M22.4 46.1h0M26.2 50.6h0M22 45h0M27.2 50.3h0M23.3 44.9h0M27.5 49.9h0M24.2 44.8h0M28.4 49.3h0M24.2 43.7h0M29.3 49.5h0M24.4 43.6h0M29.8 48.2h0M24.6 41.6h0M31 48.7h0M25.5 41.5h0M30.8 47.4h0M26.7 41.5h0M31.2 46.3h0M27.3 41.3h0M32 46h0M27 40.6h0M33 45.7h0M28.4 40h0M33.5 45.6h0M28.4 39.6h0M33.8 44.2h0M29.7 39.4h0M34.2 44.1h0M27.9 36.4h0M34.5 42.7h0M29.9 38h0M34.6 42.2h0M30 36.4h0M36 41.9h0M31.4 36.8h0M35.6 41h0M32.3 36.8h0M36.6 40.6h0M33.1 36h0M36.7 39.6h0M33.3 35.8h0M38.2 39.9h0M34.4 35.1h0M39.1 39.7h0M34.8 34.3h0M39.2 38.9h0M35.7 33.9h0M40.9 39.1h0M36 33.6h0M39.4 36.5h0M37 33.3h0M39.3 35.7h0M38 33.3h0M40 35.5h0M37.8 32.1h0M40.3 34.4h0M38.9 31.9h0M40.5 34h0M39.8 32h0M41.1 32.9h0M40.8 31.4h0M41.2 32.6h0M40.6 30.7h0M42.6 32.2h0M41.2 30.2h0M42.5 30.9h0M42.3 30.1h0M43.3 31h0M43.2 29.8h0M43.5 30.3h0M43.3 29h0M43.8 29h0M43.9 28.4h0M44.7 28.9h0M43.9 27.5h0M44.7 28.4h0M45.4 27.5h0M45 27.5h0M45.5 27h0M46.6 27.7h0M45.6 26h0M46.9 27.1h0M44.7 25.3h0M25.6 36.9h0M15 46.6h0M36.8 55.7h0M12 55.8h0M15 49.8h0M16.6 45.9h0M28.6 37.4h0M29.6 50.6h0M45 24.5h0M17.8 48.5h0M34.3 46.6h0M32 52.8h0M6.4 60.6h0M11.5 64.4h0M17.4 48.1h0M31.4 52h0M49.2 26.3h0M36.1 45.2h0M39 44.9h0M29 53.8h0M37.7 31h0M23.6 56.4h0M41.4 46.8h0M62 11h0M65.9 7.2h0M67.3 5.8h0" stroke="#000" stroke-width="1.9" stroke-linecap="round" fill="none"/>
</g>
<text x="619.8" y="390" font-size="6.45" text-anchor="middle" fill="#3457ad" stroke="#3a5dae" stroke-width=".22">0.990</text>
<g transform="translate(368.6 456)">
<path d="M6.5 66L7.2 65.2L7.8 64.5L8.5 63.8L9 63L9.6 62.2L10.2 61.4L10.7 60.5L11.3 59.7L11.8 58.8L12.4 58.1L13 57.3L13.6 56.5L14.2 55.7L14.8 54.9L15.4 54.2L16 53.4L16.6 52.6L17.2 51.8L17.8 51.1L18.4 50.3L19 49.5L19.6 48.7L20.3 48L20.9 47.2L21.5 46.4L22.1 45.7L22.8 45L23.5 44.3L24.2 43.6L24.8 42.9L25.5 42.2L26.2 41.5L26.9 40.8L27.6 40.1L28.3 39.4L29.1 38.8L29.9 38.2L30.6 37.6L31.4 37L32.2 36.4L33 35.8L33.7 35.2L34.5 34.6L35.3 34L36.2 33.5L37 33L37.9 32.5L38.8 31.9L39.6 31.4L40.5 30.9L41.3 30.4L42.1 29.8L42.8 29.1L43.6 28.5L44.3 27.8L45 27.1L45.7 26.5L46.5 25.8L47.2 25.2L47.9 24.5L48.6 23.8L49.3 23.2L50 22.5L50.7 21.8L51.4 21.1L52.1 20.4L52.8 19.8L53.5 19.1L54.2 18.4L54.9 17.7L55.6 17.1L56.3 16.4L57 15.7L57.7 15L58.4 14.3L58.7 14.6L58 15.3L57.3 16L56.6 16.7L56 17.4L55.3 18.1L54.6 18.8L53.9 19.5L53.2 20.2L52.5 20.9L51.9 21.6L51.2 22.3L50.5 23L49.8 23.7L49.1 24.4L48.5 25.1L47.8 25.8L47.1 26.5L46.5 27.2L45.8 27.9L45.2 28.7L44.5 29.4L43.8 30.1L43.2 30.8L42.6 31.6L42 32.4L41.5 33.3L41 34.2L40.5 35L39.9 35.9L39.4 36.7L38.9 37.6L38.3 38.4L37.7 39.2L37.1 39.9L36.5 40.7L35.9 41.5L35.3 42.3L34.7 43L34.1 43.8L33.5 44.6L32.8 45.3L32.1 46L31.4 46.7L30.7 47.3L30 48L29.3 48.7L28.6 49.4L27.9 50L27.1 50.7L26.4 51.4L25.7 52L24.9 52.6L24.1 53.2L23.3 53.8L22.6 54.4L21.8 55L21 55.6L20.2 56.2L19.5 56.8L18.7 57.4L17.9 58L17.1 58.6L16.3 59.2L15.5 59.8L14.7 60.4L14 61L13.1 61.5L12.3 62.1L11.4 62.6L10.6 63.2L9.8 63.7L9 64.3L8.2 64.9L7.5 65.6L6.8 66.3Z" fill="#000"/>
<path d="M19.5 50.1h0M38.8 36.1h0M13.2 56.4h0M16.7 51.7h0M34.7 43.4h0M20.5 48.8h0M29.8 48.1h0M40.7 33.3h0M27.1 50.7h0M24.4 37h0M42.9 29.6h0M43.8 29.9h0M17.1 48h0M17.8 52.3h0M43.1 30.6h0M9.8 62.2h0M25.2 41.7h0M19.9 49.9h0M15.2 55.5h0M15.3 58.8h0M18.5 51.3h0M34 47.5h0M41.9 33.9h0M31.9 36.6h0M40.9 31.7h0M50.4 22.9h0M25.4 51h0M40.8 31.2h0M23.3 45.4h0M21.1 44.4h0M43.3 29.5h0M21 54.6h0M18.7 51.2h0M20.5 45.2h0M11.6 61.5h0M18.5 51.2h0M17.9 56.9h0M36.1 40.8h0M16.1 58.9h0M25.9 40.9h0M14.7 59.3h0M18.7 51.4h0M28.2 40.4h0M20.3 55.7h0M23.1 52.8h0M25.8 51.4h0M52.8 20.7h0M24 42.7h0M25.6 51.3h0M35.6 33.7h0M13.4 57.2h0M41.3 31.1h0M29 38.8h0M23.6 55.5h0M18 50.6h0M18 50.8h0M7.3 65.7h0M16.6 50.8h0M23.8 44h0M32.7 35.9h0M39.1 32.8h0M16.3 49.5h0M13.7 57.7h0M20.6 43.6h0M13.9 54.8h0M28.5 48.6h0M35.6 41.3h0M35.4 34.1h0M18.1 51.5h0M15.2 54.4h0M31.6 45.4h0M30.9 35.8h0M39.7 35.3h0M40 37.9h0M29.9 37.4h0M20.8 44.9h0M46.3 25.1h0M30.3 47.8h0M26.2 41.2h0M11.4 59.5h0M18.4 51.5h0M41.3 34.2h0M34.6 43.4h0M20.1 46h0M42.6 30.1h0M30.5 48.6h0M33.4 44.4h0M13.8 57.3h0M8.9 64h0M25.5 51h0M6.8 65.5h0M24.8 40.2h0M37.7 37.8h0M16.1 54.1h0M26.9 42.1h0M37.9 37.4h0M30.4 50.2h0M29.1 47.8h0M32.3 45.9h0M12.4 61.2h0M23.4 45.2h0M19.7 50.1h0M25.7 40.7h0M25.5 52.6h0M16.2 58.6h0M29.3 47.4h0M41.4 34.4h0M9 63.7h0M23.9 44.1h0M39.6 35h0M8.5 64.3h0M29.2 47.9h0M28.6 48.6h0M40.8 33.4h0M29.8 49.2h0M50 23.2h0M22.9 55h0M10.2 62.9h0M16.5 54.1h0M39.8 35.5h0M31.4 37.6h0M15.1 54.6h0M38.7 37.6h0M29.8 38.8h0M20 55.2h0M14.8 56.4h0M32 37.1h0M21.9 54.5h0M34.1 42.7h0M41.4 32.8h0M27.4 39.8h0M26.3 40.3h0M21 47.6h0M44.8 28.1h0M24.3 53.1h0M43.5 29.1h0M25.3 52.3h0M12.1 58.8h0M22.8 54.2h0M20.2 55.5h0M34.5 44.5h0M27.1 50.8h0M34.5 35.1h0M41.7 31h0M19.8 48.6h0M38.4 32.6h0M19.6 50h0M26.7 50.3h0M35.1 42.8h0M22.9 45.6h0M14.4 55.6h0M43.3 30.2h0M22.3 46.8h0M15.3 60.6h0M21.4 54.3h0M24.1 55h0M41.9 30.4h0M27.4 37.8h0M9.2 63.1h0M31.6 37.3h0M38.1 39h0M15.8 55.1h0M31.2 46.5h0M30.8 46.9h0M13.3 57.6h0M12.3 62.1h0M38.5 36.5h0M39.6 34.8h0M34.3 35h0M32.1 45.1h0M32.8 44.5h0M16.6 57.9h0M9.3 62.2h0M29.9 46.7h0M11.1 60.2h0M38.6 37.6h0M46.5 26.9h0M41.2 33.7h0M8.7 63.7h0M40.4 31.3h0M29.9 38.4h0M17.4 57.6h0M33.4 35.7h0M26.7 49.9h0M28 38.5h0M31.6 45.4h0M46.3 26.1h0M44.1 29.8h0M48 25.2h0M44.2 30.5h0M41.7 31h0M39.3 32.6h0M39 32.1h0M45.6 27.7h0M41.9 30.6h0M47.9 25h0M45.6 26.3h0M35.8 34.7h0M43.8 30.8h0M45.3 27.2h0M41.6 32.4h0M37.3 39.5h0M47.2 25.8h0M49.1 24.3h0M40.9 31.6h0M48.7 24.7h0M48.2 24.3h0M44 28.7h0M41.2 31.5h0M45.8 28.1h0M37.9 37.8h0M37.9 39.8h0M46.3 26.2h0M44.5 28h0M42 30.2h0M44.1 29h0M46.8 26.5h0M42.1 29.5h0M45.2 28.5h0M44.8 27.7h0M43.5 28.6h0M35.7 33.9h0M46.2 26.2h0M42.1 30.9h0M34 33.9h0M43.5 28.8h0M48 25.6h0M45.3 28h0M47.7 25.7h0M46.4 26.9h0M7.3 65.4h0M9.5 63.4h0M9.5 63.5h0M9.9 62.5h0M9.9 62.5h0M10.5 61.6h0M10.7 61.9h0M11.6 61.4h0M11.7 61.5h0M13.4 60.5h0M41.8 32.2h0M41.7 32.1h0M42 31h0M41.8 30.9h0M42.7 30.3h0M42.3 29.9h0M43.2 29.5h0M43.3 29.6h0M44 28.9h0M44 28.9h0M44.6 28.1h0M44.9 28.4h0M45.8 27.9h0M45.5 27.7h0M45.9 26.7h0M46.3 27.1h0M46.8 26.2h0M47 26.4h0M47.5 25.5h0M47.6 25.6h0M48.1 24.7h0M48.1 24.7h0M49 24.2h0M49 24.2h0M49.6 23.5h0M49.8 23.6h0M50.3 22.8h0M50.2 22.6h0M50.9 22h0M50.9 22h0M51.6 21.4h0M51.8 21.5h0M52.3 20.7h0M52.4 20.7h0M53.1 20.1h0M53 19.9h0M53.7 19.3h0M53.6 19.2h0M54.4 18.6h0M54.4 18.6h0M55.1 17.9h0M55.2 18h0M55.8 17.2h0M55.8 17.2h0M56.4 16.5h0M56.5 16.5h0M57.2 15.8h0M57.2 15.9h0M57.8 15.1h0M57.9 15.2h0M9 63.4h0M9.2 63.5h0M10.2 62.5h0M10.5 63.5h0M10 61.2h0M11.7 63.1h0M9.8 60.7h0M11.8 62.4h0M11.2 60.7h0M13 62.7h0M11.8 60.2h0M13.4 61.9h0M11.9 59.3h0M13.5 60.8h0M12.2 58.1h0M14.1 60.6h0M12.3 57h0M14.7 59.8h0M12.9 56.7h0M16.3 60.5h0M13.3 56.5h0M16.6 59.1h0M13.8 55.8h0M16.5 58.5h0M13.8 54.7h0M17.9 58.4h0M14.7 54.2h0M18.1 57.9h0M14.4 53.2h0M20 58.7h0M16.2 53.7h0M19.2 56.7h0M16.2 53h0M20.3 56.5h0M16.8 51.8h0M19.9 55.4h0M17.5 51.5h0M21.3 55.5h0M17.7 50.7h0M22.3 54.8h0M18.3 49.9h0M22.8 54.7h0M19 50.2h0M23.2 54.1h0M19.2 49.2h0M23.7 53.8h0M20 49h0M24.2 52.3h0M20.5 47.8h0M24.7 51.9h0M19.7 46.3h0M24.9 51.5h0M21.4 46.6h0M27.2 52.2h0M22 45.8h0M26.6 50.6h0M21.4 44.6h0M28 51.2h0M22.5 43.9h0M28 50.2h0M23.2 43.9h0M29.5 49.9h0M23.8 43.7h0M28.5 48.3h0M24.5 43.3h0M29.1 48.2h0M24.8 42.5h0M31.3 48.6h0M25 41.9h0M31.9 47.8h0M26.5 41.5h0M31.4 47h0M26.8 41.2h0M31.8 46.2h0M27.2 40h0M32.4 45h0M27.4 38.9h0M32.8 45.1h0M28.4 39.5h0M34.3 44.8h0M28.6 38.7h0M33.5 43.5h0M29.3 38.1h0M34.6 43.1h0M30.8 38h0M34.4 42.1h0M30.7 37.3h0M36 42.4h0M32.1 37.3h0M36 41.7h0M32.4 36.2h0M37 41.3h0M33 35.8h0M37.4 40.1h0M33.1 35.6h0M37.5 39.4h0M33.2 34h0M38.2 39.1h0M34.4 34.8h0M39.5 39.7h0M35.6 34.6h0M38.8 37.3h0M35.9 33h0M39 36.2h0M37.5 33.5h0M39.7 36.7h0M37.4 33.3h0M40.1 35.1h0M37.9 32.3h0M40.7 35.2h0M38.5 31.6h0M41.4 34.1h0M39.4 31.1h0M41.1 32.9h0M40.6 31.7h0M41.9 33.3h0M40.7 31h0M43 32.9h0M41.9 30.7h0M42.3 31.4h0M42.2 29.8h0M42.9 30h0M43.1 29.6h0M43.6 30.6h0M42.9 28.7h0M44.7 29.6h0M43.9 28.3h0M45.1 29h0M45.1 28.2h0M44.8 28.3h0M45.3 27.5h0M45.3 27.8h0M46.3 27h0M46.3 27.1h0M46.4 26h0M47 27.1h0M10.5 66h0M23.2 42.6h0M25.8 33.9h0M11.3 56.4h0M29.4 34.3h0M26.4 53.6h0M33.9 32h0M35.3 51.5h0M36.1 44.2h0M32.4 47.9h0M9 60.5h0M38.2 41.3h0M35.1 49.6h0M18 45.8h0M18.4 43.7h0M8.8 55.4h0M9.5 57.9h0M17 60.9h0M31.6 33.9h0M38.9 46.5h0M23.7 41h0M29.1 32.3h0M18.6 45.7h0M26.6 55h0M62 11h0M65.9 7.2h0M67.3 5.8h0" stroke="#000" stroke-width="1.9" stroke-linecap="round" fill="none"/>
</g>
<text x="390.5" y="465.7" font-size="6.45" text-anchor="middle" fill="#3457ad" stroke="#3a5dae" stroke-width=".22">0.990</text>
<g transform="translate(445 456)">
<path d="M6.5 66L7.1 65.2L7.8 64.5L8.5 63.8L9 63L9.6 62.1L10.1 61.3L10.7 60.5L11.2 59.6L11.7 58.8L12.3 58L12.9 57.2L13.5 56.4L14.1 55.6L14.7 54.9L15.3 54.1L15.9 53.3L16.5 52.5L17.1 51.7L17.7 51L18.3 50.2L18.9 49.4L19.5 48.6L20.1 47.9L20.8 47.1L21.4 46.3L22 45.6L22.7 44.9L23.4 44.2L24 43.5L24.7 42.8L25.4 42.1L26.1 41.4L26.8 40.7L27.4 40L28.2 39.3L29 38.7L29.7 38.1L30.5 37.5L31.3 36.9L32.1 36.3L32.9 35.7L33.7 35.1L34.4 34.5L35.2 33.9L36.1 33.4L37 32.9L37.8 32.4L38.7 31.9L39.6 31.4L40.4 30.9L41.3 30.4L42.1 29.7L42.8 29.1L43.5 28.4L44.3 27.8L45 27.1L45.7 26.5L46.4 25.8L47.2 25.2L47.9 24.5L48.6 23.8L49.3 23.1L50 22.5L50.7 21.8L51.4 21.1L52.1 20.4L52.8 19.8L53.5 19.1L54.2 18.4L54.9 17.7L55.6 17.1L56.3 16.4L57 15.7L57.7 15L58.4 14.3L58.7 14.6L58 15.3L57.3 16L56.6 16.7L56 17.4L55.3 18.1L54.6 18.8L53.9 19.5L53.2 20.2L52.6 20.9L51.9 21.6L51.2 22.3L50.5 23L49.8 23.7L49.2 24.4L48.5 25.1L47.8 25.8L47.1 26.5L46.5 27.2L45.8 28L45.2 28.7L44.5 29.4L43.9 30.1L43.2 30.9L42.6 31.6L42.1 32.5L41.6 33.4L41 34.2L40.5 35.1L40 36L39.5 36.8L39 37.7L38.4 38.5L37.8 39.2L37.2 40L36.6 40.8L36 41.6L35.4 42.4L34.8 43.1L34.2 43.9L33.6 44.7L32.9 45.4L32.2 46.1L31.5 46.8L30.8 47.5L30.1 48.1L29.4 48.8L28.7 49.5L28 50.1L27.3 50.8L26.5 51.5L25.8 52.1L25 52.7L24.2 53.3L23.4 53.9L22.7 54.5L21.9 55.1L21.1 55.7L20.3 56.3L19.5 56.9L18.7 57.5L18 58.1L17.2 58.7L16.4 59.3L15.6 59.9L14.8 60.5L14 61L13.2 61.6L12.3 62.1L11.4 62.6L10.6 63.2L9.8 63.8L9 64.3L8.3 65L7.5 65.6L6.8 66.3Z" fill="#000"/>
<path d="M40.5 31.6h0M35.8 42h0M14.7 54.9h0M33.4 44.5h0M22.6 45.1h0M44.8 27.9h0M45.3 27.1h0M20.7 55h0M10.6 57h0M27.3 39.7h0M27 50.4h0M23.5 45h0M26.3 41.9h0M20.9 46.7h0M23.3 43.4h0M41.7 30.2h0M20.6 47.4h0M22.2 54.1h0M38 40.5h0M22.7 46.2h0M27.7 39.4h0M36.4 40h0M33.1 36.2h0M11.3 62.2h0M39.9 31.1h0M26.1 41.5h0M20.7 48.6h0M19 44.6h0M34.9 41.4h0M31.5 36.5h0M35.3 41.3h0M33.3 32.8h0M9.5 62.1h0M23.8 44.1h0M14.9 54.4h0M19.6 49.8h0M29.9 49.8h0M38.7 32.1h0M28.5 39.3h0M28 35.2h0M30.7 38.4h0M14.5 55.6h0M10.9 61.2h0M16.5 58.5h0M35.1 33.5h0M48.6 25.1h0M51.7 20.7h0M37 39.4h0M15.6 53.9h0M39.3 36.8h0M22.1 46.1h0M45.9 28.2h0M30 51.4h0M24 54.6h0M13.9 57h0M21.5 47.6h0M30.9 46.2h0M16.8 57.7h0M24.8 42.6h0M44.8 28h0M46 27.7h0M39.9 31.1h0M27.8 36.6h0M32.2 50.9h0M18.4 50.8h0M39.6 30.2h0M27 37.5h0M34.6 45.4h0M19.3 49.2h0M17.5 52.7h0M38.2 39h0M19.3 46.9h0M26.4 42.1h0M12.7 57.8h0M20 48.8h0M42.6 30.3h0M21.2 45.4h0M53.2 20.3h0M14.1 56.8h0M29.7 39.3h0M42.6 30.6h0M42 29.4h0M39.1 36.2h0M21.6 45.5h0M27.1 41.2h0M6.9 64.5h0M27.7 37h0M40.1 34.6h0M38.1 32.8h0M43.2 30.4h0M31.4 37h0M38.8 32.7h0M40.1 32.1h0M7.9 64.7h0M30.1 50.3h0M37.3 32.7h0M20.2 55.7h0M38.8 36.4h0M48.9 23.7h0M30.1 38.2h0M10.3 64.2h0M30.2 38h0M26.9 40.5h0M22.2 46.8h0M15.4 55.1h0M20.9 54.7h0M32.3 47.7h0M19.1 58.4h0M8.5 61.1h0M21.2 56.7h0M48.2 25h0M20.1 47.9h0M32.2 45.2h0M42 30.7h0M43.8 28.5h0M17.7 47.9h0M23.2 44.5h0M39.7 37.3h0M25.4 53.4h0M15.6 54.9h0M10.8 61.6h0M13.2 57.4h0M39.2 39.9h0M43.9 29.4h0M27.5 41.2h0M23.7 52.8h0M19.4 59.1h0M18.2 50.5h0M42.9 29.9h0M26.9 41.1h0M41.8 32.1h0M25.6 43.2h0M13.8 60.1h0M29.6 48.8h0M17 52.6h0M14.7 59.6h0M39.8 34.7h0M15.6 59.5h0M22.4 41.1h0M39.7 35.4h0M38.6 32.8h0M9 62.2h0M22.5 43.5h0M42.5 30.2h0M48.6 23.4h0M44.4 28.4h0M12.7 62.2h0M36.8 39h0M27.1 51.5h0M11.8 60.3h0M15.4 53.5h0M15.9 52.3h0M34.4 42.1h0M32.5 36.7h0M7.4 64.7h0M13.9 57h0M21.8 55.1h0M27.6 52.8h0M35.2 42h0M41.1 30.2h0M39 36.1h0M44.1 28.8h0M36 41.9h0M27.6 34.6h0M42.5 32.3h0M43.4 30.3h0M38.8 31.9h0M36.9 33.7h0M34.6 33.6h0M47.4 26.4h0M45.9 27.7h0M42.7 30.9h0M38.6 32.9h0M46.7 26.4h0M37.9 38.7h0M48.5 23.9h0M46.1 26.7h0M44.2 28.8h0M45.9 27.9h0M45.7 27.7h0M45.4 27.8h0M41.3 32.5h0M47.5 25.7h0M40.9 33.6h0M46 25.8h0M48.7 24h0M44.3 28h0M43.2 30.3h0M43.3 30.5h0M43.5 29.4h0M45.6 26.8h0M42.1 30.9h0M48 25.9h0M46.3 28.1h0M44.4 28.6h0M45.4 26.8h0M43.1 30.1h0M46.1 26.4h0M39.8 31.5h0M44.8 26.5h0M46.5 25.6h0M44.9 28h0M44.1 28.9h0M46.7 24.9h0M44.9 28.6h0M41.4 33h0M6.6 66.1h0M8.8 64.1h0M9 63h0M9.6 63.6h0M10.2 62.7h0M10.4 63h0M10.6 61.8h0M10.5 61.7h0M11.2 61h0M12.5 60.9h0M41 32.8h0M41.5 33.3h0M41.4 31.8h0M41.4 31.8h0M42.1 31.1h0M41.6 30.7h0M42.5 30.2h0M42.3 29.9h0M43.3 29.6h0M43.5 29.8h0M43.9 28.8h0M43.8 28.7h0M45 28.5h0M44.8 28.3h0M45.4 27.5h0M45.4 27.6h0M45.9 26.6h0M46.2 26.9h0M46.8 26.2h0M46.8 26.2h0M47.5 25.5h0M47.8 25.8h0M47.8 24.5h0M48.1 24.7h0M49 24.2h0M48.6 23.8h0M49.6 23.5h0M49.8 23.6h0M50.3 22.8h0M50.2 22.6h0M50.8 21.9h0M50.7 21.8h0M51.5 21.2h0M51.8 21.5h0M52.4 20.7h0M52.2 20.5h0M53 20h0M53.2 20.1h0M53.7 19.3h0M53.7 19.3h0M54.4 18.6h0M54.4 18.6h0M55.1 17.9h0M55.2 18h0M55.8 17.2h0M55.8 17.2h0M56.5 16.5h0M56.5 16.5h0M57.2 15.9h0M57.2 15.9h0M57.9 15.1h0M57.9 15.2h0M9.4 62.9h0M9.2 63.2h0M9.5 62.8h0M10.3 63.2h0M10.6 61.9h0M10.6 62.2h0M10.8 61.7h0M12.1 62.6h0M10.6 59.9h0M12.1 61.7h0M11.8 59.8h0M12.7 61.6h0M11.7 58.8h0M13.5 61h0M12.1 57.9h0M14.3 60.8h0M12.7 58.1h0M15.1 59.7h0M12.9 56.6h0M15.4 59.4h0M13.8 56.8h0M18.4 60.7h0M14.5 56.4h0M17.8 59.7h0M13.8 54.8h0M17.9 58.5h0M14.9 54.2h0M18.3 58.1h0M15.2 54.1h0M18.5 56.9h0M15.6 52.9h0M21.2 58.4h0M16.5 52.8h0M20.3 56h0M17.1 52.1h0M21 56.4h0M18 51.8h0M21.7 55.4h0M17.2 49.8h0M22.9 55.5h0M18.4 50.6h0M22.2 54.3h0M18.2 49.2h0M22.8 53.8h0M18.8 47.9h0M24.1 53.5h0M19.4 48.4h0M24.3 53.3h0M19.2 46.8h0M24.5 52.4h0M20.8 47.3h0M25.8 52.3h0M21.7 47.1h0M26 50.8h0M22.2 46h0M27.8 51.8h0M22 45h0M27.7 50.6h0M23 45h0M27.7 50.1h0M23 44.3h0M28.8 49.9h0M23.8 43.6h0M29.4 48.9h0M23 41.7h0M30.2 49.1h0M25.1 42.9h0M31 48.5h0M25.5 41.8h0M32.2 48.1h0M26 41h0M31.2 45.9h0M26.3 40.4h0M32.2 46.6h0M27.4 40.2h0M32.9 46.4h0M27.6 39.7h0M32.7 44.6h0M28.2 39h0M34.3 44.6h0M29.3 39h0M33.8 43.8h0M29.4 37.9h0M34.7 43.3h0M30 37.7h0M35.3 42.4h0M31.2 38.1h0M35.3 42.1h0M31.4 36.7h0M35.9 41.5h0M32.3 36.2h0M37.2 41.7h0M32.9 36.2h0M37.2 40.8h0M32.7 34.3h0M37.8 39.7h0M33.7 34.9h0M38.1 38.8h0M34.5 34.6h0M38 38.1h0M35.1 33.7h0M39.2 38h0M36.2 33.4h0M39.3 37h0M37.1 33.1h0M39.7 36.1h0M37.3 32.5h0M40.4 35.4h0M38.2 32.7h0M40.7 34.9h0M38.7 32.2h0M41.6 34.8h0M38.6 30.1h0M41.9 34h0M40.5 31.2h0M41.4 32.5h0M41 30.7h0M42.3 31.7h0M41.9 30.6h0M42 30.9h0M41.5 29.2h0M42.9 30.4h0M42.6 28.6h0M44 30.2h0M43.5 28.8h0M44.1 30h0M44.4 28.3h0M44.4 28.5h0M44.7 28.1h0M44.8 28.4h0M45 26.8h0M45.9 28.1h0M45.7 27.2h0M45.9 27.1h0M46.4 26.6h0M46.5 26.1h0M44.5 33.5h0M10.7 57.1h0M28.3 54.2h0M8.8 61.1h0M24.5 58.5h0M35.5 29.1h0M24.5 38.2h0M6.7 63.1h0M31.7 51.6h0M27 37.9h0M12.8 53.6h0M41.6 38.3h0M38.6 43.2h0M39 30.1h0M40 41.8h0M22.3 42.4h0M21.3 44.3h0M52.2 23.2h0M43.2 41.4h0M20.7 38.1h0M12.2 47.3h0M21.7 42.8h0M35.9 44h0M27.3 36.3h0M62 11h0M65.9 7.2h0M67.3 5.8h0" stroke="#000" stroke-width="1.9" stroke-linecap="round" fill="none"/>
</g>
<text x="466.9" y="465.7" font-size="6.45" text-anchor="middle" fill="#3457ad" stroke="#3a5dae" stroke-width=".22">0.989</text>
<g transform="translate(597.9 456)">
<path d="M6.5 65.9L7.2 65.2L7.8 64.5L8.5 63.7L9 62.9L9.6 62.1L10.2 61.2L10.7 60.3L11.3 59.5L11.8 58.6L12.4 57.8L13 57L13.6 56.1L14.2 55.3L14.8 54.5L15.4 53.7L16 52.9L16.6 52.1L17.2 51.3L17.8 50.6L18.4 49.8L19 49L19.6 48.2L20.3 47.4L20.9 46.7L21.5 45.9L22.1 45.2L22.8 44.5L23.5 43.8L24.2 43.1L24.8 42.4L25.5 41.6L26.2 40.9L26.9 40.2L27.6 39.5L28.3 38.9L29.1 38.3L29.9 37.7L30.6 37.1L31.4 36.5L32.2 35.9L33 35.3L33.7 34.7L34.5 34.1L35.3 33.6L36.2 33.1L37 32.6L37.9 32.1L38.8 31.7L39.6 31.2L40.5 30.7L41.3 30.3L42.1 29.6L42.8 29L43.6 28.3L44.3 27.7L45 27.1L45.7 26.4L46.5 25.8L47.2 25.1L47.9 24.4L48.6 23.8L49.3 23.1L50 22.4L50.7 21.8L51.4 21.1L52.1 20.4L52.8 19.7L53.5 19.1L54.2 18.4L54.9 17.7L55.6 17L56.3 16.4L57 15.7L57.7 15L58.4 14.3L58.7 14.6L58 15.3L57.3 16L56.6 16.7L56 17.4L55.3 18L54.6 18.7L53.9 19.4L53.2 20.1L52.5 20.8L51.9 21.5L51.2 22.2L50.5 22.9L49.8 23.6L49.1 24.3L48.5 25L47.8 25.7L47.1 26.4L46.5 27.1L45.8 27.9L45.2 28.6L44.5 29.3L43.8 30L43.2 30.7L42.6 31.4L42 32.3L41.5 33.1L41 33.9L40.5 34.7L39.9 35.5L39.4 36.3L38.9 37.1L38.3 37.9L37.7 38.6L37.1 39.4L36.5 40.1L35.9 40.9L35.3 41.7L34.7 42.5L34.1 43.2L33.5 44L32.8 44.8L32.1 45.4L31.4 46.1L30.7 46.8L30 47.5L29.3 48.1L28.6 48.8L27.9 49.5L27.1 50.1L26.4 50.8L25.7 51.4L24.9 52L24.1 52.6L23.3 53.2L22.6 53.9L21.8 54.5L21 55.1L20.2 55.7L19.5 56.4L18.7 57L17.9 57.6L17.1 58.2L16.3 58.9L15.5 59.5L14.7 60.1L14 60.7L13.1 61.3L12.3 61.9L11.4 62.5L10.6 63.1L9.8 63.7L9 64.3L8.2 64.9L7.5 65.6L6.8 66.2Z" fill="#000"/>
<path d="M31.6 46.6h0M19.3 56.3h0M30.2 38.1h0M16.4 52.6h0M35.6 39.9h0M14.4 59.7h0M30.9 37.8h0M28.8 49.5h0M40 35.3h0M30.2 46h0M23.8 39.7h0M28.1 49h0M28.5 38.3h0M42.3 30.7h0M34.6 47.2h0M15 53.1h0M29 47.3h0M9.8 62h0M43.2 32.1h0M34 34.4h0M19.6 56h0M41.8 30h0M41.5 30.4h0M18.1 56.3h0M15.5 53.2h0M14.1 56.2h0M20.9 35.7h0M31.8 44.8h0M24.1 52.1h0M23.5 43.8h0M23.4 52.9h0M25.7 51.2h0M17.2 51.5h0M45.3 27.8h0M20.8 45.3h0M37.1 33.4h0M10.6 62.5h0M15.8 59h0M47.9 25.3h0M28.8 39.3h0M17.5 57.6h0M46.1 26.8h0M14.1 55.4h0M42.2 30.3h0M29.6 46.7h0M32.5 36.6h0M39.5 34.9h0M41.4 30.9h0M39.6 36.4h0M22.8 52.7h0M22 46.1h0M19.8 49.3h0M22.2 46.5h0M15.7 45.9h0M11.6 60h0M36.3 40.1h0M31.2 36.7h0M49.1 26.5h0M17.8 50.5h0M43.5 28.8h0M10.4 62.6h0M25.6 42.3h0M29.1 50.3h0M33.7 45.8h0M28.4 48.7h0M45.4 27.4h0M6.5 65.3h0M15.5 55.2h0M40.9 30.8h0M29.9 46.3h0M40.1 34.3h0M40.5 32.8h0M34 42.5h0M13.8 55.6h0M35.5 31.5h0M34.5 42.8h0M24.6 51.7h0M32.1 34.7h0M37.5 32.9h0M32.2 44.6h0M9.8 63.2h0M40.8 31.6h0M17.3 58.3h0M41.9 31.3h0M38.6 35.8h0M26.3 40.3h0M40.6 30.2h0M31.5 37.1h0M15.2 60.2h0M19 49.6h0M19.7 49.1h0M34.9 41h0M39.7 34.1h0M34.1 35.4h0M12 61.8h0M42.5 30.7h0M38.2 37.4h0M33.9 34.4h0M41 34.1h0M21.3 47.5h0M34.7 31.7h0M28.7 48.5h0M20.6 57.4h0M15.8 58.3h0M32.5 49.5h0M30.2 46.4h0M23.1 53.9h0M14.9 55.7h0M40.8 31.3h0M42 30.3h0M23.6 44.7h0M9.1 63.7h0M16.6 51.5h0M29.9 37.8h0M42.7 29.9h0M14 56.7h0M39.5 31.7h0M9.4 62.5h0M26.8 49.4h0M14.6 54.4h0M43 30.3h0M31.8 36.5h0M33 33.2h0M9.1 63.6h0M22.5 52.9h0M10.6 60.6h0M32.6 44.5h0M31.3 35.3h0M44.7 27.8h0M32 37.2h0M26.6 37.1h0M16.5 50.9h0M11.5 62.1h0M31.4 33.9h0M52.9 19.4h0M41 32.8h0M40.4 31.8h0M27.8 53.3h0M27.4 50.3h0M52.1 21h0M26.7 40.7h0M18.5 51h0M26.9 49h0M44.3 29.1h0M26.6 35h0M32.3 44.4h0M32.4 45.6h0M37.3 41.2h0M30.9 47.1h0M13.4 57.7h0M18.9 57.2h0M42 30.8h0M25.5 42.7h0M25.1 40.2h0M38.7 32.4h0M24.3 44.2h0M18.2 46.7h0M40.4 34.8h0M47.7 25.9h0M48 25.6h0M43 29.6h0M43.7 27.3h0M42.8 30.6h0M43.4 30.3h0M35.6 34h0M43.3 29.4h0M44.3 28h0M46.9 26.1h0M37 33.2h0M49.7 23.8h0M44.6 26.9h0M44.8 29.2h0M49 24h0M41.5 32h0M42 30h0M48.8 24.4h0M45.4 27.3h0M45.3 28.2h0M45.1 26.9h0M36.9 31.9h0M40.9 33.4h0M43.9 28.1h0M49.5 23.4h0M43 30.6h0M49.4 23.5h0M44.8 28.6h0M45.4 27.2h0M41.9 31.3h0M42.5 31h0M44.2 27.8h0M41.1 32.7h0M46.4 26h0M41.9 31.1h0M44.1 29.4h0M46.8 25.3h0M46.3 25.5h0M38.8 32.4h0M41.8 31.1h0M40.1 35h0M49.5 23.9h0M38 32.7h0M6.4 65.8h0M7.6 65.7h0M7.4 65.5h0M7.9 64.6h0M9.4 63.3h0M8.9 62.9h0M9.8 62.3h0M10.1 62.7h0M10.9 62.1h0M10.9 62.1h0M11.7 61.5h0M11.8 60.3h0M12.9 61.3h0M41.4 31.8h0M41.5 32h0M41.9 30.9h0M42 31.1h0M42.2 29.8h0M42.3 29.9h0M43.5 29.8h0M43.2 29.5h0M44 28.9h0M44.2 29.1h0M44.5 28.1h0M44.8 28.3h0M45.6 27.8h0M45.6 27.7h0M45.9 26.7h0M46 26.8h0M46.7 26.1h0M46.8 26.1h0M47.3 25.3h0M47.4 25.4h0M48.2 24.8h0M48.1 24.7h0M48.7 23.9h0M48.9 24.1h0M49.3 23.1h0M49.3 23.2h0M50.2 22.7h0M50.2 22.7h0M50.8 21.9h0M51.2 22.2h0M51.6 21.3h0M51.5 21.2h0M52.2 20.5h0M52.4 20.7h0M53 20h0M53.1 20.1h0M53.8 19.4h0M53.8 19.3h0M54.4 18.6h0M54.3 18.5h0M55.1 17.9h0M55.1 17.9h0M55.8 17.2h0M55.8 17.2h0M56.5 16.5h0M56.5 16.5h0M57.1 15.8h0M57.2 15.8h0M57.8 15.1h0M57.9 15.2h0M9.4 63.4h0M9 63.4h0M8.9 62.2h0M10.1 62.6h0M10.6 61.7h0M11.7 63.8h0M10.8 61.1h0M11.5 61.5h0M11.4 60.4h0M11.9 61.6h0M11.1 59.1h0M13 61.4h0M11.6 59.1h0M13.4 60.3h0M12 57.7h0M14.3 59.8h0M12.2 56.8h0M15.2 59.8h0M13.2 57.5h0M15.9 59.7h0M13.2 55.8h0M16.3 59h0M13.9 55h0M16.5 58h0M14.6 54.5h0M17.3 57.4h0M15.4 54.8h0M18.4 57.8h0M15.2 53.5h0M18.9 56.6h0M16 52.9h0M19.6 56.2h0M15.4 51.6h0M20.1 56.4h0M17.5 51.9h0M20.6 55.3h0M17.7 51.8h0M21.2 54.7h0M18 49.9h0M22.3 54.9h0M18.8 50.4h0M22.7 54.4h0M19.1 49h0M23.6 53.3h0M19.7 48.3h0M23.9 52.9h0M19.6 47.8h0M23.9 52.3h0M20.4 47.2h0M25.1 51.8h0M21.4 47h0M25.7 51.4h0M21.3 45.7h0M27.4 52.3h0M22 45.9h0M27 50.8h0M22.7 45.3h0M27.9 50.6h0M23.2 44.9h0M27.5 48.8h0M23.9 44.2h0M29.5 49.3h0M24.6 43.5h0M29.7 48.3h0M25.4 43h0M30 47.9h0M25 41.6h0M30.7 48h0M25.3 41.4h0M31.6 47.7h0M26.6 41.1h0M32.2 46.4h0M26.9 40.2h0M31.8 45.1h0M27.6 40.4h0M32.4 44.7h0M27.7 39.2h0M33 43.8h0M27.1 37.7h0M33.9 43.8h0M29 38.1h0M35 44.5h0M29.3 37.6h0M33.8 42.5h0M30.3 37h0M35 42.4h0M30.6 36.3h0M35.5 40.9h0M31.4 36.7h0M36.1 41.3h0M31.6 35.4h0M36.7 40.5h0M32.4 35.1h0M37.5 39.6h0M33.6 35h0M38.4 40.2h0M34.5 34.7h0M38.1 38h0M34.4 34.1h0M38.2 38h0M35.7 34.3h0M39 37.1h0M35.6 32.5h0M39 36h0M36.8 32.4h0M39.8 36.4h0M37 32.5h0M41.1 36.1h0M38.5 32.4h0M40.8 34.4h0M38.8 32h0M40.5 33.7h0M39.7 31.1h0M41.8 33.5h0M40.2 30.8h0M41.2 32h0M40.4 29.6h0M42.6 31.9h0M41.7 30h0M42.6 30.8h0M42.3 29.6h0M43.1 30.2h0M42.8 28.8h0M43.1 29.6h0M43.9 29.1h0M44.6 29.8h0M44.1 28.5h0M44.5 29.1h0M44.5 28.1h0M45.2 27.9h0M45.1 27h0M46.2 27.7h0M45.7 27.1h0M46 27h0M46.6 26.6h0M47.4 27.1h0M45.6 31.3h0M21.8 41.4h0M14.9 52.4h0M41.6 40.4h0M18.3 38.9h0M27.9 33.4h0M6.3 63.4h0M22.9 39.5h0M11.3 53.5h0M49.3 20.7h0M18.2 36.5h0M29.6 34.4h0M40 25.2h0M45.2 31.9h0M15.7 63h0M33.6 47h0M20.1 42.2h0M19.1 46.2h0M12.3 55.8h0M11.9 66.4h0M22.8 43h0M21.8 41.9h0M29.9 34.6h0M41.5 28.5h0M62 11h0M65.9 7.2h0M67.3 5.8h0" stroke="#000" stroke-width="1.9" stroke-linecap="round" fill="none"/>
</g>
<text x="619.8" y="465.7" font-size="6.45" text-anchor="middle" fill="#3457ad" stroke="#3a5dae" stroke-width=".22">0.989</text>
<g transform="translate(368.6 532.3)">
<path d="M6.5 66L7.1 65.2L7.8 64.5L8.5 63.8L9 63L9.6 62.1L10.1 61.3L10.7 60.5L11.2 59.6L11.7 58.8L12.3 58L12.9 57.2L13.5 56.4L14.1 55.6L14.7 54.9L15.3 54.1L15.9 53.3L16.5 52.5L17.1 51.7L17.7 51L18.3 50.2L18.9 49.4L19.5 48.6L20.1 47.9L20.8 47.1L21.4 46.3L22 45.6L22.7 44.9L23.4 44.2L24 43.5L24.7 42.8L25.4 42.1L26.1 41.4L26.8 40.7L27.4 40L28.2 39.3L29 38.7L29.7 38.1L30.5 37.5L31.3 36.9L32.1 36.3L32.9 35.7L33.7 35.1L34.4 34.5L35.2 33.9L36.1 33.4L37 32.9L37.8 32.4L38.7 31.9L39.6 31.4L40.4 30.9L41.3 30.4L42.1 29.7L42.8 29.1L43.5 28.4L44.3 27.8L45 27.1L45.7 26.5L46.4 25.8L47.2 25.2L47.9 24.5L48.6 23.8L49.3 23.1L50 22.5L50.7 21.8L51.4 21.1L52.1 20.4L52.8 19.8L53.5 19.1L54.2 18.4L54.9 17.7L55.6 17.1L56.3 16.4L57 15.7L57.7 15L58.4 14.3L58.7 14.6L58 15.3L57.3 16L56.6 16.7L56 17.4L55.3 18.1L54.6 18.8L53.9 19.5L53.2 20.2L52.6 20.9L51.9 21.6L51.2 22.3L50.5 23L49.8 23.7L49.2 24.4L48.5 25.1L47.8 25.8L47.1 26.5L46.5 27.2L45.8 28L45.2 28.7L44.5 29.4L43.9 30.1L43.2 30.9L42.6 31.6L42.1 32.5L41.6 33.4L41 34.2L40.5 35.1L40 36L39.5 36.8L39 37.7L38.4 38.5L37.8 39.2L37.2 40L36.6 40.8L36 41.6L35.4 42.4L34.8 43.1L34.2 43.9L33.6 44.7L32.9 45.4L32.2 46.1L31.5 46.8L30.8 47.5L30.1 48.1L29.4 48.8L28.7 49.5L28 50.1L27.3 50.8L26.5 51.5L25.8 52.1L25 52.7L24.2 53.3L23.4 53.9L22.7 54.5L21.9 55.1L21.1 55.7L20.3 56.3L19.5 56.9L18.7 57.5L18 58.1L17.2 58.7L16.4 59.3L15.6 59.9L14.8 60.5L14 61L13.2 61.6L12.3 62.1L11.4 62.6L10.6 63.2L9.8 63.8L9 64.3L8.3 65L7.5 65.6L6.8 66.3Z" fill="#000"/>
<path d="M30.3 47.7h0M39.2 36.3h0M32.5 48h0M23.1 53.5h0M10.2 62.1h0M36.1 43.8h0M34.3 35h0M20.2 47.4h0M18.2 50.5h0M25 55.8h0M32.7 45h0M28 40.4h0M11.9 59.1h0M45.6 28.2h0M31.5 30.6h0M25.8 43h0M17.6 57.6h0M13.5 60.2h0M23.6 53.4h0M23.9 43.9h0M36.5 41h0M18.5 50.8h0M24.2 54.2h0M20.7 47.2h0M15.3 54.1h0M17.9 52.2h0M32.7 48.9h0M26.7 41h0M44.8 27.9h0M33.7 45.5h0M29.5 48.3h0M20 48.4h0M19.1 49.4h0M43.6 30.1h0M27.5 51.7h0M27.7 51.2h0M27.7 53.7h0M28.5 53.3h0M18.1 50h0M37.6 33.5h0M25 52.5h0M39.3 35.6h0M32.5 36h0M43.4 28.5h0M21.6 54.1h0M35.1 33.7h0M18.5 49.7h0M28.1 48.8h0M35.6 34.5h0M11.8 56.1h0M26.5 36.5h0M41.1 32.9h0M12.7 58.1h0M35.3 44.8h0M25.7 42.2h0M42 31.2h0M16.1 54.3h0M31.4 37.7h0M30.4 38.1h0M22.6 45.5h0M24.6 44.2h0M44.8 29.1h0M19.6 58.3h0M19.6 56.7h0M14.3 59.7h0M22 39.1h0M13 57.6h0M11.8 60.5h0M23.5 42h0M21.7 46.6h0M14.6 56.5h0M18.2 50.9h0M16.1 59.2h0M10.2 61.8h0M32.7 49.5h0M22.2 46.4h0M49 23.2h0M37.6 38.2h0M19.6 47.7h0M42.6 27.6h0M11 58.3h0M21.8 45.3h0M30.1 50h0M35.5 33.5h0M35.7 41h0M19.7 48.9h0M7.8 64.6h0M39.3 32.5h0M29.6 39.2h0M25.1 41.3h0M23.4 45.5h0M10.7 61.3h0M32.9 46.7h0M35.2 48.7h0M30.7 37.8h0M29.7 47.7h0M40.7 34.8h0M27.1 49.9h0M24.1 53.3h0M33.1 44.6h0M18.8 58.1h0M14.6 55.1h0M26.5 50.6h0M14.7 60h0M38.1 39.9h0M28.1 49.5h0M13 58.7h0M33.1 45h0M10.4 57.5h0M16.4 58.2h0M40 38.8h0M13.7 60.2h0M20.2 55.9h0M30.3 47.1h0M41.8 42h0M28.7 39.5h0M14.3 55.9h0M31.2 47.9h0M20.3 55.5h0M36 42.1h0M30 47.8h0M27.1 39.1h0M39.3 37.2h0M18.4 51.2h0M32.9 44.5h0M29.5 38.1h0M28.1 38.1h0M40.5 33.4h0M36.3 33.7h0M12 58.4h0M35 46.3h0M12.7 61h0M25.6 42.9h0M43.1 32.3h0M20.9 45.1h0M25.6 53.4h0M13.6 55.5h0M27 41.7h0M33.1 36.7h0M21.2 47.5h0M16.8 50.4h0M30.5 51.6h0M21.3 57.8h0M9.2 63.8h0M29.1 39h0M14.5 55.7h0M30.9 37.6h0M17.6 45.1h0M26.2 40.6h0M41.3 29.9h0M26.6 51h0M52.2 20.4h0M44.2 28.8h0M23.7 45h0M14.7 60.2h0M22.4 53.4h0M8.9 63.3h0M23.3 41.9h0M15 60h0M35.1 44.4h0M34.2 35.4h0M20.4 46.5h0M16.5 58.3h0M36.7 40.1h0M34 42.8h0M20.1 45.9h0M25.5 42.5h0M33.5 45.8h0M26.9 50.1h0M42.4 30.8h0M42.5 29.4h0M49.1 24.3h0M44.9 28.5h0M40 30.9h0M47.6 25.5h0M46.2 26.6h0M47.4 25.6h0M49.3 23.8h0M40.8 30.4h0M43.9 29.4h0M47.9 24.8h0M43.6 29.2h0M45.5 25.8h0M40.9 34.7h0M37.9 30.3h0M44.4 26.7h0M38.9 31.7h0M46.1 27.2h0M39.3 30.5h0M44.3 28.6h0M39.4 36.3h0M40.9 27.7h0M43 31.1h0M40.7 31h0M38.8 32.2h0M46.5 26h0M40.7 31.1h0M45.7 26.3h0M37.8 39.5h0M41 30.9h0M37.6 38.5h0M47.4 26.1h0M49.3 23.3h0M46.4 26.9h0M42.8 29.9h0M47.1 26h0M46.7 26.5h0M48 24.6h0M46.5 25.9h0M47.6 25.6h0M37.1 33.2h0M48.3 25.2h0M9.6 63.6h0M8.8 62.8h0M10.3 62.8h0M10.1 62.7h0M10.6 61.8h0M10.7 61.9h0M11.2 61h0M12.5 60.9h0M11.9 60.3h0M12.4 59.5h0M41.8 30.9h0M41.8 30.8h0M42.6 30.2h0M42.6 30.3h0M43.1 29.4h0M43.3 29.6h0M44.1 29h0M43.9 28.8h0M44.1 27.7h0M44.6 28.2h0M45.2 27.3h0M45.4 27.5h0M46 26.8h0M46 26.7h0M47 26.3h0M46.7 26.1h0M47.6 25.6h0M47.4 25.4h0M48.2 24.8h0M47.8 24.4h0M49.1 24.3h0M48.6 23.8h0M49.7 23.5h0M49.6 23.4h0M50.3 22.8h0M50.4 22.8h0M51 22.1h0M50.9 22h0M51.7 21.4h0M51.7 21.4h0M52.1 20.5h0M52.3 20.6h0M53 20h0M53.1 20.1h0M53.7 19.3h0M53.7 19.3h0M54.4 18.6h0M54.2 18.4h0M55.1 17.9h0M55 17.8h0M55.8 17.3h0M55.7 17.2h0M56.5 16.6h0M56.5 16.5h0M57.1 15.8h0M57.2 15.9h0M57.8 15.1h0M57.8 15.1h0M9.1 63.1h0M9.6 64h0M9.2 62.4h0M10 62.9h0M10.2 62.1h0M11.6 62.9h0M10.4 60.5h0M12.4 62.5h0M10.9 59.9h0M12.7 62.4h0M12.1 60h0M12.6 61.3h0M11.5 59.4h0M14.1 61.7h0M11.1 57.2h0M14 60.7h0M12.5 57.1h0M14.8 60.2h0M13.4 57.2h0M16.9 60.9h0M13.7 56.1h0M15.7 58.8h0M13.8 56h0M17 58.7h0M12.1 53.1h0M17.5 58.1h0M15.3 55h0M17.8 57.3h0M15.4 53.3h0M19.2 57.5h0M16.3 53.6h0M19.7 56.5h0M16.2 52.6h0M19.4 56h0M16.8 52.4h0M20.3 55.3h0M18 52h0M21 55.6h0M17.6 50.9h0M22.1 54.7h0M18.4 49.9h0M22 54h0M18.9 49.9h0M25.8 56.8h0M19.4 48.7h0M24 53.3h0M20.1 48.5h0M25 53.1h0M19.5 47.4h0M24.8 52.5h0M21.2 47.2h0M26.4 52.2h0M20.5 45.7h0M26.4 51.8h0M21.6 45.8h0M26.8 50.6h0M22.4 45.2h0M27.8 50.4h0M22.8 44.6h0M28.4 50h0M23.7 44.6h0M29.4 50.2h0M24.1 43.6h0M29 48.1h0M24.3 43.2h0M29.6 47.8h0M25.3 42.3h0M29.8 47.8h0M25.8 42.5h0M30.9 47h0M26.2 41.6h0M33.1 47.9h0M26.4 40.2h0M32.8 47h0M27.3 39.9h0M32.9 45.5h0M28.2 40h0M33.6 45.6h0M25.3 36.4h0M34.5 45.3h0M29.2 39.1h0M34.5 44.2h0M29.8 38.8h0M34.2 42.8h0M29.2 36.7h0M34.7 42.1h0M30.5 37h0M35.9 42.2h0M31.6 36.8h0M36.3 41.8h0M32.4 37.1h0M36.3 41h0M32.5 35.4h0M36.7 40.2h0M33.8 35.8h0M37.7 39.3h0M33.7 34.8h0M37.9 38.8h0M33.6 33.9h0M40.4 40h0M34.9 33.8h0M39.8 38h0M36.2 33.6h0M39.7 36.9h0M37.3 33.6h0M40.2 36.4h0M37.7 33.1h0M40.7 35.6h0M37.9 32h0M39.9 34.7h0M37.6 31.2h0M40.9 33.7h0M39.4 32h0M41.7 34.2h0M40 30.9h0M42 33h0M40.7 31.1h0M41.6 31.9h0M40.6 29.4h0M42.7 32h0M42.6 30.4h0M43 30.8h0M42.8 28.9h0M43.7 30.2h0M43.6 29.3h0M44 29.3h0M44.3 28.3h0M44.6 28.5h0M44.3 27.6h0M45 28h0M44.9 26.9h0M45.6 27.4h0M45.8 26.3h0M46.8 27.6h0M46.6 26.4h0M46.1 26.4h0M37.6 31.1h0M31.1 50.7h0M22.9 59.9h0M27.1 54.7h0M18.4 44.9h0M38.4 42.1h0M39.9 27.8h0M18.3 47.3h0M15.1 51.9h0M15.6 64h0M41.4 28.3h0M10.4 65.9h0M45 35.6h0M9.9 67h0M19.6 61h0M27.9 36.5h0M30.1 50h0M33.8 48.2h0M33.8 46.4h0M10.2 56.8h0M11.8 65.8h0M11.5 55.1h0M32.4 53.3h0M21.3 58.3h0M62 11h0M65.9 7.2h0M67.3 5.8h0" stroke="#000" stroke-width="1.9" stroke-linecap="round" fill="none"/>
</g>
<text x="390.5" y="542.1" font-size="6.45" text-anchor="middle" fill="#3457ad" stroke="#3a5dae" stroke-width=".22">0.990</text>
<g transform="translate(445 532.3)">
<path d="M6.5 66L7.2 65.2L7.8 64.5L8.5 63.8L9 63L9.6 62.2L10.2 61.4L10.8 60.6L11.3 59.7L11.8 58.9L12.4 58.1L13 57.3L13.7 56.6L14.3 55.8L14.9 55L15.5 54.2L16.1 53.5L16.7 52.7L17.3 51.9L17.9 51.2L18.5 50.4L19.1 49.6L19.8 48.9L20.4 48.1L21 47.3L21.6 46.6L22.3 45.8L22.9 45.1L23.6 44.4L24.3 43.7L25 43L25.7 42.3L26.3 41.6L27 40.9L27.7 40.2L28.4 39.6L29.2 39L30 38.4L30.7 37.7L31.5 37.1L32.3 36.5L33.1 35.9L33.8 35.3L34.6 34.7L35.4 34.1L36.2 33.6L37.1 33.1L38 32.5L38.8 32L39.7 31.5L40.5 30.9L41.4 30.4L42.1 29.8L42.9 29.1L43.6 28.5L44.3 27.8L45 27.2L45.8 26.5L46.5 25.9L47.2 25.2L47.9 24.5L48.6 23.8L49.3 23.2L50 22.5L50.7 21.8L51.4 21.1L52.1 20.5L52.8 19.8L53.5 19.1L54.2 18.4L54.9 17.7L55.6 17.1L56.3 16.4L57 15.7L57.7 15L58.4 14.3L58.7 14.6L58 15.3L57.3 16L56.6 16.7L55.9 17.4L55.3 18.1L54.6 18.8L53.9 19.5L53.2 20.2L52.5 20.9L51.9 21.6L51.2 22.3L50.5 23L49.8 23.7L49.1 24.4L48.5 25.1L47.8 25.8L47.1 26.5L46.5 27.2L45.8 27.9L45.1 28.7L44.5 29.4L43.8 30.1L43.2 30.8L42.5 31.6L42 32.4L41.5 33.3L40.9 34.1L40.4 35L39.9 35.8L39.3 36.7L38.8 37.5L38.2 38.3L37.6 39.1L37 39.8L36.4 40.6L35.8 41.4L35.2 42.1L34.5 42.9L33.9 43.7L33.3 44.4L32.7 45.2L32 45.9L31.3 46.5L30.6 47.2L29.9 47.9L29.1 48.6L28.4 49.2L27.7 49.9L27 50.6L26.3 51.2L25.5 51.8L24.8 52.5L24 53.1L23.2 53.7L22.5 54.3L21.7 54.9L20.9 55.5L20.1 56.1L19.4 56.7L18.6 57.3L17.8 57.9L17 58.5L16.3 59.1L15.5 59.7L14.7 60.3L13.9 60.9L13.1 61.5L12.2 62L11.4 62.6L10.6 63.1L9.8 63.7L9 64.3L8.2 64.9L7.5 65.6L6.8 66.3Z" fill="#000"/>
<path d="M41.3 36.3h0M45.4 29.3h0M16.3 52.8h0M36.4 32.9h0M40.6 32h0M36.3 34.4h0M40.5 31.5h0M11.5 60h0M15.4 54.1h0M26.7 42.1h0M23.7 45.3h0M30.1 48.1h0M29.5 48.6h0M8.8 63.8h0M21 44.3h0M18.4 45.5h0M17.9 57.9h0M32.5 34.7h0M33.5 43.5h0M13.5 58.2h0M14 56.4h0M46.3 27.2h0M22.4 46.9h0M42.3 29.5h0M30.9 37h0M21 55.3h0M24.1 45.2h0M19.4 50.6h0M23.2 45.6h0M12.8 58.5h0M39.1 32.8h0M42 31.7h0M51.6 20h0M41.7 32.5h0M12.3 60.9h0M34 35.3h0M34.8 42.1h0M27.6 38.4h0M41 33.5h0M36.5 39.3h0M22.7 45.5h0M35.3 41.7h0M41.5 32.9h0M25.2 43.2h0M26 54.1h0M16 58.5h0M16.7 58.2h0M14.5 59.3h0M40.6 38.2h0M14.8 59.3h0M27.4 53.2h0M11.5 62.3h0M31.5 45.8h0M26.4 42.1h0M40.3 31.4h0M10.9 62h0M39.3 32.5h0M27.2 49.8h0M24.5 53.4h0M42.5 31.3h0M43.1 30.3h0M12.7 58.2h0M33.4 36.7h0M33.6 43.3h0M31.3 46h0M26.3 42.8h0M21.2 47.4h0M28.4 38.4h0M41.2 33.6h0M25.5 43.2h0M29.8 38h0M44.2 28.9h0M39.5 31.6h0M23.6 43.5h0M24.3 56.2h0M9.5 63.9h0M24.4 42.6h0M16.6 47.3h0M36.4 39.2h0M38.9 35.7h0M16.1 51.6h0M27.4 39.8h0M20.3 49.6h0M30.2 46.6h0M7.6 64.2h0M25.8 41h0M34.5 35.8h0M30.1 47.9h0M37.7 33.6h0M26.8 49.8h0M32.8 37.2h0M22.7 45.9h0M11.5 60.5h0M19.7 42.4h0M46.5 27.4h0M20.1 50h0M38.2 37.1h0M27.1 38.4h0M20.2 49.6h0M20.4 47.5h0M26.2 51.1h0M29.7 38.7h0M11.6 60.8h0M37 41.2h0M24 44.6h0M12.2 59.9h0M42 31.2h0M34.6 42h0M26 42.5h0M34.2 35.4h0M22.9 52.9h0M23 45.6h0M33.1 44.2h0M34.7 43h0M22.4 54.2h0M43.6 29.3h0M29.1 36.3h0M43.8 29.6h0M29 39.1h0M37.2 33.3h0M27.2 41.5h0M34.3 46.5h0M47.4 25.7h0M40.6 38.4h0M39.2 31.7h0M9.5 61.9h0M30.7 38.2h0M44.5 28.7h0M21 46.6h0M39.7 36.3h0M27.2 40.5h0M40.9 32.6h0M31 50.3h0M20.6 49h0M36.9 43.8h0M29.8 39h0M23 54.1h0M25.1 43.4h0M11.5 60.8h0M39.4 35.3h0M30 47.8h0M33.7 35.4h0M39.1 31.8h0M10.5 63.4h0M22.8 53.2h0M28.2 49.8h0M46.1 26.8h0M15.2 55.5h0M31.6 45.3h0M26.4 41.7h0M26.9 41h0M21.6 47.7h0M16.8 52.9h0M43.4 29.9h0M23.7 53.8h0M38.6 39.7h0M20.2 48.3h0M35 41.2h0M11.1 62.2h0M20.6 54.9h0M41.2 30h0M41.4 36.6h0M14.8 55.8h0M24.9 40.2h0M16.6 58h0M28.9 50.1h0M9.4 63.7h0M19.7 48.4h0M34.5 41.6h0M34.1 35.7h0M38.6 33h0M46.7 26.6h0M46.2 27.2h0M46.5 25.5h0M43.1 28.9h0M33.8 31.1h0M41.6 31.6h0M45.8 26.6h0M39.5 31.4h0M43.8 28.4h0M41.6 30.7h0M40.9 33.4h0M46.2 28.5h0M43.6 29.8h0M38.6 36.7h0M42 31.2h0M41.4 30.5h0M49.2 23.5h0M42.6 31.8h0M43 31.3h0M43.9 28.1h0M49.9 24h0M44.3 29h0M42.1 30.8h0M38.5 32.7h0M45.1 27.7h0M39.9 31.9h0M45.8 27h0M35.8 34.1h0M47.7 25.3h0M41.5 34h0M39.8 34.8h0M44.2 28.7h0M7.5 65.6h0M7.3 65.4h0M9.3 63.2h0M9.6 63.5h0M10.4 62.9h0M9.6 62.2h0M10.6 61.8h0M10.4 61.5h0M11.4 61.2h0M11.1 60.9h0M11.8 60.2h0M13.2 60.3h0M16.4 57.9h0M38.6 33.1h0M40.8 31.2h0M41.2 31.6h0M41.9 30.9h0M42 31.1h0M42.8 30.4h0M42.8 30.5h0M43.2 29.5h0M42.9 29.2h0M44 28.9h0M44.2 29.1h0M45.2 28.7h0M44.7 28.2h0M45.2 27.4h0M45.3 27.5h0M46.3 27.1h0M46 26.8h0M47 26.4h0M46.7 26.1h0M47.3 25.3h0M47.2 25.2h0M48.3 24.9h0M48.1 24.8h0M48.8 24h0M48.9 24.1h0M49.5 23.4h0M49.6 23.5h0M50 22.5h0M50.3 22.8h0M51 22.1h0M50.9 22h0M51.7 21.4h0M51.6 21.3h0M52.4 20.7h0M52.2 20.5h0M53 19.9h0M53 19.9h0M53.7 19.3h0M53.7 19.2h0M54.5 18.6h0M54.4 18.6h0M55 17.8h0M55.1 17.9h0M55.7 17.1h0M55.8 17.2h0M56.4 16.5h0M56.5 16.6h0M57.2 15.8h0M57.1 15.8h0M58 15.2h0M57.8 15.1h0M9.2 63.1h0M9.1 63.4h0M9.2 62.2h0M10.4 63.2h0M9.7 61.8h0M11.7 63.1h0M9.5 60.7h0M11.3 62.4h0M11 60.1h0M12.4 61.7h0M11.6 60.2h0M13.2 61.6h0M11.5 58.7h0M14.1 61.3h0M12.9 58.7h0M14.2 60.2h0M12.6 58h0M14.8 59.4h0M13.6 57.6h0M16.2 59.9h0M13.8 56.6h0M16.3 58.9h0M14.2 56.4h0M16.3 58.6h0M13.3 54.1h0M18.1 58.2h0M14.6 54.5h0M17.9 57.4h0M15.9 54.6h0M20.2 58.2h0M16.1 53.8h0M19.2 56h0M16.6 52.6h0M20.4 56.4h0M17.5 52.7h0M20.1 55.7h0M18.3 51.9h0M21.2 54.8h0M18.3 51.5h0M22.9 55.7h0M17.7 49.5h0M22.1 53.7h0M19.4 50h0M22.5 53.7h0M18.4 47.9h0M23.8 53h0M19.1 47.5h0M24.1 53h0M20.9 48.3h0M25.2 52.6h0M21 47h0M26.9 53.2h0M21 46.7h0M26 50.8h0M21.4 45.5h0M27.2 51.8h0M22.4 45.1h0M27.2 50.6h0M23.3 45.1h0M27.5 49.4h0M23.4 44.2h0M28.5 49.3h0M23.6 43.6h0M29.4 48.9h0M22.8 41.7h0M29.8 48h0M25.6 42.8h0M29.6 47.4h0M25.6 41.9h0M30.6 47h0M26.8 41.6h0M31.4 46.7h0M27.7 41.4h0M31.4 45.2h0M27.5 40.5h0M32 45.1h0M27.1 39.5h0M33.8 46.3h0M28.9 40.2h0M32.8 43.8h0M29.4 39.4h0M34.2 43.7h0M30.1 38.8h0M36.3 44.8h0M30.5 38h0M34.5 42.3h0M31.7 38h0M36.6 43.1h0M31.9 37.4h0M36.2 41.2h0M31.3 35.4h0M36.7 41.3h0M33.6 36.3h0M37.2 40.1h0M34 35.8h0M37.1 38.9h0M34.3 34.7h0M38.3 38.8h0M34.4 34.7h0M38.1 38.1h0M35.5 34.4h0M38.5 37.8h0M33.9 31h0M39.2 36.7h0M36.5 33.4h0M40 36.5h0M38.1 33.2h0M39.6 34.8h0M37 31.2h0M40.7 34.5h0M38.5 31.2h0M40.7 33.8h0M39.3 31.8h0M41 33.2h0M40.1 30.7h0M42 33.1h0M41.3 30.8h0M42.7 32.2h0M41.6 30h0M42.3 31.1h0M41.9 29.9h0M43 30.6h0M42.9 29.9h0M43.9 30.2h0M43.2 29.1h0M44.2 29.2h0M43.6 28.5h0M44.4 28.5h0M44.6 28.2h0M45.6 28.6h0M44.8 27.3h0M45.3 27.3h0M45.6 26.7h0M46.6 27.4h0M19.4 43.6h0M22.9 42.9h0M36.6 43.7h0M17.5 49h0M20.9 43.8h0M13.9 53.7h0M43.1 26.4h0M21 45.1h0M7.1 59.6h0M30.6 31.3h0M21.5 57h0M25.6 54.4h0M6.8 61.1h0M31.4 34.9h0M19.6 63.1h0M25.1 58.1h0M7.7 62.1h0M27.3 37.2h0M18.8 45.3h0M35.8 48.4h0M32.7 47.4h0M30.3 56.2h0M12.3 63.6h0M48.1 27.6h0M62 11h0M65.9 7.2h0M67.3 5.8h0" stroke="#000" stroke-width="1.9" stroke-linecap="round" fill="none"/>
</g>
<text x="466.9" y="542.1" font-size="6.45" text-anchor="middle" fill="#3457ad" stroke="#3a5dae" stroke-width=".22">0.990</text>
<g transform="translate(521.5 532.3)">
<path d="M6.5 66L7.2 65.2L7.8 64.5L8.5 63.8L9 63L9.6 62.2L10.2 61.4L10.7 60.5L11.3 59.7L11.8 58.8L12.4 58.1L13 57.3L13.6 56.5L14.2 55.7L14.8 54.9L15.4 54.2L16 53.4L16.6 52.6L17.2 51.8L17.8 51.1L18.4 50.3L19 49.5L19.6 48.7L20.3 48L20.9 47.2L21.5 46.4L22.1 45.7L22.8 45L23.5 44.3L24.2 43.6L24.8 42.9L25.5 42.2L26.2 41.5L26.9 40.8L27.6 40.1L28.3 39.4L29.1 38.8L29.9 38.2L30.6 37.6L31.4 37L32.2 36.4L33 35.8L33.7 35.2L34.5 34.6L35.3 34L36.2 33.5L37 33L37.9 32.5L38.8 31.9L39.6 31.4L40.5 30.9L41.3 30.4L42.1 29.8L42.8 29.1L43.6 28.5L44.3 27.8L45 27.1L45.7 26.5L46.5 25.8L47.2 25.2L47.9 24.5L48.6 23.8L49.3 23.2L50 22.5L50.7 21.8L51.4 21.1L52.1 20.4L52.8 19.8L53.5 19.1L54.2 18.4L54.9 17.7L55.6 17.1L56.3 16.4L57 15.7L57.7 15L58.4 14.3L58.7 14.6L58 15.3L57.3 16L56.6 16.7L56 17.4L55.3 18.1L54.6 18.8L53.9 19.5L53.2 20.2L52.5 20.9L51.9 21.6L51.2 22.3L50.5 23L49.8 23.7L49.1 24.4L48.5 25.1L47.8 25.8L47.1 26.5L46.5 27.2L45.8 27.9L45.2 28.7L44.5 29.4L43.8 30.1L43.2 30.8L42.6 31.6L42 32.4L41.5 33.3L41 34.2L40.5 35L39.9 35.9L39.4 36.7L38.9 37.6L38.3 38.4L37.7 39.2L37.1 39.9L36.5 40.7L35.9 41.5L35.3 42.3L34.7 43L34.1 43.8L33.5 44.6L32.8 45.3L32.1 46L31.4 46.7L30.7 47.3L30 48L29.3 48.7L28.6 49.4L27.9 50L27.1 50.7L26.4 51.4L25.7 52L24.9 52.6L24.1 53.2L23.3 53.8L22.6 54.4L21.8 55L21 55.6L20.2 56.2L19.5 56.8L18.7 57.4L17.9 58L17.1 58.6L16.3 59.2L15.5 59.8L14.7 60.4L14 61L13.1 61.5L12.3 62.1L11.4 62.6L10.6 63.2L9.8 63.7L9 64.3L8.2 64.9L7.5 65.6L6.8 66.3Z" fill="#000"/>
<path d="M10.7 63.4h0M24.4 44.1h0M19 50.4h0M21.4 47.2h0M22.1 45.8h0M19.3 49.8h0M17.9 50.6h0M30.1 47.3h0M32.1 35.4h0M17.4 58.3h0M34.6 41.6h0M17.4 50.7h0M44.3 28.5h0M9.8 63.2h0M49.8 23.4h0M9.2 63.8h0M42.2 30.6h0M20 46.2h0M19.4 50.3h0M32.5 49.3h0M24.5 43.2h0M12.7 58h0M18.1 56.8h0M31.2 48.3h0M39.4 35.3h0M29.2 55.1h0M11.4 60.2h0M28.6 48.2h0M47.9 24.9h0M29.9 48h0M18.1 57.8h0M20.4 55h0M40.3 35.2h0M24.1 52.6h0M48.1 24.8h0M15 54.4h0M33.3 45h0M28.3 39.2h0M41.1 30.2h0M20.1 55.2h0M39.6 35.8h0M14 55.3h0M15.9 54.6h0M31.5 47.5h0M13.5 54.5h0M32.5 36.2h0M43.5 31.1h0M13.5 55.4h0M11.8 60.1h0M37.6 39.7h0M23.2 53.6h0M40.9 32.7h0M43.3 29.1h0M28.4 38.5h0M27 50h0M14.1 52.5h0M47.1 25.1h0M23.5 42.6h0M14.9 49.2h0M28.4 48.4h0M16.2 58.4h0M19.9 58.3h0M42.4 31.1h0M28.7 39.2h0M23.7 42.6h0M14.8 60.5h0M14.4 59.9h0M44.6 27.4h0M10.5 62.3h0M22.3 46.4h0M7.1 65.4h0M20.9 48.1h0M18.9 48.3h0M40.6 33.5h0M32.2 36.7h0M47.9 27.6h0M42.6 31h0M27.9 49.8h0M17 59.2h0M19.9 48.1h0M14.1 57.2h0M18.1 51.9h0M25.1 56h0M23.7 55.3h0M24.2 44.5h0M8.4 64.5h0M19.4 55.6h0M20.7 54.7h0M26.6 51.8h0M22.6 54.4h0M43.8 29.1h0M32.4 45.4h0M40.7 36.7h0M27.4 50.3h0M40.6 34.1h0M15.4 60.4h0M30.5 47.9h0M17.5 47.9h0M14.3 56.7h0M13.1 57.5h0M35.7 33.4h0M40.5 34.3h0M36 34.5h0M41.9 30.5h0M22.2 54.9h0M19.6 55.6h0M17.6 50.9h0M15.1 59.2h0M25.3 40.5h0M24.2 52.1h0M37.7 37.6h0M23.8 44.2h0M30.1 39.2h0M29.7 39h0M11.4 60.9h0M22.7 53.6h0M45 28.5h0M31.6 45.5h0M54 19.5h0M30.7 46.7h0M37.7 33.3h0M24.3 52.5h0M36.5 32.7h0M35.7 44.8h0M29.4 49.7h0M43 29.8h0M43.6 29h0M40.8 31.7h0M20.1 57.3h0M13.6 55.9h0M28.6 38.8h0M39.4 35h0M29.6 49.1h0M31.2 46h0M11.7 60.8h0M44.9 28.3h0M13.4 54.5h0M47.2 25.5h0M10.6 61.5h0M36.9 39.6h0M27.3 38h0M13.4 60.4h0M45.1 28.7h0M28.5 55.2h0M12.1 53.7h0M27.7 41.1h0M20.1 48.4h0M33.4 36.4h0M32.8 36.8h0M32 37.5h0M25.3 43.3h0M38.2 33.1h0M20.2 55.1h0M28.2 48.8h0M29.8 39.5h0M28.9 39.8h0M33.1 46h0M32.5 46.5h0M26.5 40.8h0M26.3 50.6h0M28.7 51.8h0M19.7 48.5h0M34 43h0M35.7 42h0M42.1 31.1h0M9.4 64.7h0M41.6 29.4h0M37.6 33.4h0M46.6 27.1h0M43.4 29.4h0M42.4 33.6h0M41.1 33h0M48.7 23.9h0M42.3 29.7h0M42.5 31.3h0M42.7 28.9h0M36.2 34.4h0M47.4 25.2h0M41.7 31.1h0M49.6 23.8h0M44.9 27.8h0M45.7 27.3h0M48.1 24.4h0M40.6 31.8h0M41.3 32.2h0M45.3 27.5h0M47 26.6h0M43.6 28.5h0M44.1 29.3h0M44.3 28.1h0M33.1 35.5h0M44 30.3h0M48.2 25.2h0M43.9 28.4h0M34.4 35.1h0M37.5 39.5h0M49.1 23.4h0M41.5 32.3h0M44.4 29.5h0M42.8 29.6h0M47.7 26h0M45.9 28.1h0M37.5 39.4h0M44.4 28.8h0M46.8 27.1h0M48.6 25.1h0M9.3 63.2h0M9.3 63.3h0M10.3 62.8h0M9.9 62.5h0M10.7 61.9h0M10.7 61.9h0M11.8 61.6h0M11.7 61.5h0M12.8 58.4h0M14.3 57.2h0M41.1 31.5h0M41.8 32.2h0M42.3 31.3h0M41.7 30.7h0M42.6 30.3h0M42.9 30.5h0M43 29.3h0M43.2 29.5h0M43.7 28.6h0M44 28.9h0M44.7 28.3h0M44.9 28.4h0M45.5 27.6h0M45.3 27.4h0M46.4 27.2h0M46.3 27h0M46.9 26.3h0M46.5 25.8h0M47.5 25.4h0M47.6 25.6h0M48.2 24.8h0M48.2 24.8h0M48.9 24.1h0M48.7 24h0M49.5 23.3h0M49.5 23.4h0M50.2 22.6h0M50.4 22.9h0M50.9 22h0M51.1 22.2h0M51.5 21.2h0M51.4 21.1h0M52.4 20.7h0M52.4 20.7h0M53 20h0M53.2 20.2h0M53.8 19.3h0M53.6 19.2h0M54.4 18.6h0M54.4 18.6h0M55.1 17.9h0M55.1 17.9h0M55.8 17.3h0M55.8 17.2h0M56.5 16.5h0M56.5 16.5h0M57.2 15.9h0M57.2 15.9h0M57.9 15.2h0M57.9 15.2h0M9.7 63.5h0M9.4 62.9h0M9.7 63h0M9.8 63.1h0M9.6 61.9h0M10.9 62.7h0M10.5 61.3h0M11.7 62.7h0M10.7 60.3h0M12 61.3h0M10.3 59h0M12.8 61.8h0M11.7 58.6h0M13.6 61.2h0M12.1 58.3h0M14 60.5h0M12.7 58.2h0M15.3 60.3h0M13.4 57.2h0M15.8 59.6h0M13.2 56.5h0M16.2 59.6h0M14.7 56h0M16.9 58.6h0M15 55.7h0M18.2 58.8h0M15.2 54.8h0M18.5 57.9h0M15.7 54.1h0M19.6 58.5h0M16.5 53.5h0M19.4 56.4h0M16.3 52.3h0M19.6 56.3h0M17.1 52.9h0M20.5 56h0M17.9 51.7h0M21.6 55.6h0M17.3 50.5h0M22.6 55h0M18.7 50.9h0M24 56.4h0M19.4 50.3h0M22.6 53.8h0M19.4 48.6h0M24.2 53.7h0M19.7 47.9h0M24.1 52.5h0M20.7 48h0M25 52h0M21.3 47.7h0M25.6 52.4h0M20.5 45.8h0M26.4 51.4h0M21.9 46.4h0M28 51.8h0M22.7 46h0M28 50.6h0M23 45.2h0M28.4 49.8h0M23.6 44.1h0M28.7 50h0M23.6 43.5h0M28.8 48.3h0M24.7 43.5h0M29.8 48.3h0M24.7 42.4h0M30.3 47.2h0M25.5 42.1h0M30.4 47.1h0M26.7 41.6h0M31 46.3h0M26.7 41.4h0M32.1 45.7h0M27.1 40.3h0M32.1 45.6h0M28 40.1h0M33.9 45.9h0M27 38h0M34.1 44.6h0M28.8 38.9h0M33.7 43.5h0M29.6 38h0M34.3 43h0M30.5 38h0M35.7 43.1h0M30.9 37.3h0M34.7 41.6h0M31.8 37h0M35.6 41.4h0M31 35.8h0M36.2 40.6h0M32.5 36h0M37 39.9h0M34.1 35.8h0M37.5 39.7h0M34.2 35.3h0M37.4 38.8h0M34.7 34.7h0M38 37.9h0M35.3 34.1h0M38.7 37h0M35.5 33.4h0M39.3 37.4h0M36.3 33h0M39.6 35.7h0M37.2 33h0M40.2 36h0M37.4 32.3h0M41.3 35.2h0M38.3 31.8h0M41.1 34.2h0M39.5 31.4h0M41.4 33.9h0M39.7 31.1h0M41.4 32.2h0M41.4 31.1h0M42.3 31.8h0M42 30.8h0M43 31.8h0M42.5 30.5h0M43.2 30.8h0M43 30h0M43.6 30.3h0M43.1 28.5h0M44 29.3h0M44.5 28.7h0M44.5 29.1h0M44.9 28.3h0M44.9 28h0M44.5 27.1h0M45.2 27.9h0M46 27.3h0M46.2 27.2h0M46.6 26.2h0M46.3 26.7h0M49.7 20h0M13.2 64.1h0M29.6 50.7h0M38.4 42.5h0M27.6 52.7h0M14.6 48.4h0M14.1 38.1h0M14.9 38h0M13.5 41.1h0M21.1 42.6h0M25.1 56.5h0M29 36.8h0M21.8 61h0M33.8 31.7h0M34.9 51.1h0M15.4 50.5h0M22.5 41.8h0M34.5 47h0M37.9 29h0M30.8 51.5h0M45.8 22.7h0M41.2 28.5h0M44 32.3h0M10.4 58.4h0M62 11h0M65.9 7.2h0M67.3 5.8h0" stroke="#000" stroke-width="1.9" stroke-linecap="round" fill="none"/>
</g>
<text x="543.4" y="542.1" font-size="6.45" text-anchor="middle" fill="#3457ad" stroke="#3a5dae" stroke-width=".22">0.989</text>
<text x="1.5" y="318.2" font-family="Liberation Serif" font-size="22.5" fill="#111" stroke="#111" stroke-width=".12">c</text>
<text x="348.6" y="322.8" font-family="Liberation Serif" font-size="24" fill="#111" stroke="#111" stroke-width=".3">d</text>
</svg></body></html>
